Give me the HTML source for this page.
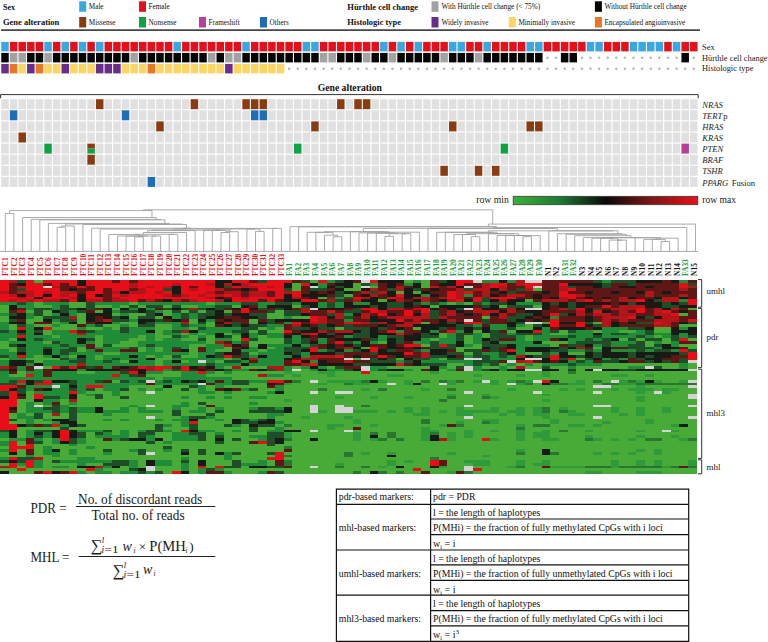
<!DOCTYPE html>
<html><head><meta charset="utf-8"><style>
html,body{margin:0;padding:0;background:#fff;}
body{width:768px;height:642px;position:relative;overflow:hidden;font-family:"Liberation Serif",serif;}
text{font-family:"Liberation Serif",serif;}
svg{position:absolute;left:0;top:0;}
sub,sup{font-size:0.65em;line-height:0;}
</style></head><body>
<svg style="position:absolute;left:0px;top:279.7px" width="696.7" height="194.0" viewBox="0 0 81 70" preserveAspectRatio="none" shape-rendering="crispEdges"><path fill="#e80e19" d="M0 0h1v1h-1zM3 0h1v1h-1zM5 0h4v1h-4zM10 0h3v1h-3zM14 0h1v1h-1zM16 0h9v1h-9zM27 0h2v1h-2zM31 0h3v1h-3zM37 0h1v1h-1zM43 0h1v1h-1zM53 0h2v1h-2zM0 1h1v1h-1zM3 1h2v1h-2zM6 1h1v1h-1zM8 1h1v1h-1zM10 1h5v1h-5zM16 1h4v1h-4zM21 1h3v1h-3zM29 1h4v1h-4zM35 1h1v1h-1zM53 1h1v1h-1zM57 1h2v1h-2zM61 1h2v1h-2zM65 1h1v1h-1zM79 1h1v1h-1zM0 2h1v1h-1zM3 2h2v1h-2zM9 2h1v1h-1zM11 2h4v1h-4zM16 2h1v1h-1zM18 2h1v1h-1zM21 2h1v1h-1zM23 2h2v1h-2zM27 2h1v1h-1zM30 2h1v1h-1zM32 2h1v1h-1zM57 2h1v1h-1zM61 2h1v1h-1zM79 2h1v1h-1zM0 3h1v1h-1zM3 3h4v1h-4zM11 3h1v1h-1zM13 3h2v1h-2zM17 3h2v1h-2zM21 3h1v1h-1zM23 3h2v1h-2zM30 3h3v1h-3zM66 3h1v1h-1zM4 4h1v1h-1zM6 4h1v1h-1zM10 4h2v1h-2zM17 4h1v1h-1zM19 4h1v1h-1zM21 4h3v1h-3zM32 4h1v1h-1zM34 4h1v1h-1zM52 4h1v1h-1zM54 4h1v1h-1zM65 4h1v1h-1zM0 5h1v1h-1zM4 5h1v1h-1zM6 5h1v1h-1zM8 5h1v1h-1zM10 5h1v1h-1zM13 5h1v1h-1zM15 5h4v1h-4zM22 5h1v1h-1zM24 5h1v1h-1zM26 5h1v1h-1zM32 5h1v1h-1zM34 5h1v1h-1zM46 5h1v1h-1zM52 5h1v1h-1zM65 5h2v1h-2zM0 6h2v1h-2zM3 6h1v1h-1zM5 6h3v1h-3zM10 6h2v1h-2zM14 6h10v1h-10zM27 6h1v1h-1zM29 6h4v1h-4zM41 6h1v1h-1zM45 6h1v1h-1zM52 6h1v1h-1zM55 6h1v1h-1zM57 6h3v1h-3zM66 6h1v1h-1zM0 7h1v1h-1zM2 7h1v1h-1zM4 7h1v1h-1zM8 7h1v1h-1zM15 7h1v1h-1zM23 7h2v1h-2zM27 7h3v1h-3zM31 7h1v1h-1zM35 7h2v1h-2zM53 7h1v1h-1zM55 7h1v1h-1zM68 7h1v1h-1zM74 7h1v1h-1zM80 7h1v1h-1zM80 8h1v1h-1zM70 9h1v1h-1zM28 10h1v1h-1zM42 10h2v1h-2zM49 10h1v1h-1zM67 10h1v1h-1zM74 10h1v1h-1zM28 11h1v1h-1zM38 11h1v1h-1zM43 11h1v1h-1zM47 11h1v1h-1zM49 11h1v1h-1zM69 11h1v1h-1zM74 11h1v1h-1zM77 11h1v1h-1zM44 12h1v1h-1zM47 12h1v1h-1zM64 12h1v1h-1zM78 12h1v1h-1zM36 13h1v1h-1zM73 13h1v1h-1zM36 14h1v1h-1zM46 14h1v1h-1zM64 14h1v1h-1zM80 14h1v1h-1zM34 15h1v1h-1zM40 15h2v1h-2zM54 15h2v1h-2zM64 15h1v1h-1zM67 15h1v1h-1zM76 15h1v1h-1zM64 16h1v1h-1zM67 16h1v1h-1zM2 17h1v1h-1zM5 17h1v1h-1zM8 18h1v1h-1zM33 18h1v1h-1zM45 18h1v1h-1zM52 18h1v1h-1zM62 18h1v1h-1zM36 19h1v1h-1zM46 19h1v1h-1zM2 20h1v1h-1zM28 21h1v1h-1zM79 21h1v1h-1zM39 22h1v1h-1zM47 23h2v1h-2zM51 23h1v1h-1zM36 24h1v1h-1zM43 24h1v1h-1zM36 25h1v1h-1zM43 25h1v1h-1zM59 25h1v1h-1zM79 25h1v1h-1zM47 26h1v1h-1zM80 26h1v1h-1zM2 27h1v1h-1zM26 27h1v1h-1zM39 27h1v1h-1zM44 27h1v1h-1zM64 27h1v1h-1zM80 27h1v1h-1zM64 28h1v1h-1zM66 28h1v1h-1zM80 28h1v1h-1zM34 29h1v1h-1zM61 29h1v1h-1zM36 30h1v1h-1zM46 30h1v1h-1zM6 31h1v1h-1zM8 31h1v1h-1zM16 31h1v1h-1zM18 31h2v1h-2zM21 31h1v1h-1zM18 32h1v1h-1zM21 32h1v1h-1zM15 33h1v1h-1zM23 33h1v1h-1zM42 33h1v1h-1zM3 34h1v1h-1zM13 34h1v1h-1zM2 36h1v1h-1zM5 36h1v1h-1zM31 36h2v1h-2zM63 36h1v1h-1zM4 37h2v1h-2zM0 38h2v1h-2zM10 38h2v1h-2zM0 39h1v1h-1zM1 40h1v1h-1zM8 40h1v1h-1zM1 41h1v1h-1zM4 41h1v1h-1zM1 42h1v1h-1zM4 42h1v1h-1zM0 43h2v1h-2zM0 44h2v1h-2zM0 45h2v1h-2zM0 46h1v1h-1zM0 47h1v1h-1zM0 48h1v1h-1zM0 49h1v1h-1zM0 50h1v1h-1zM0 51h1v1h-1zM22 51h1v1h-1zM0 52h2v1h-2zM6 52h1v1h-1zM0 53h2v1h-2zM7 54h1v1h-1zM21 54h1v1h-1zM7 55h1v1h-1zM7 56h1v1h-1zM7 57h1v1h-1zM56 57h1v1h-1zM1 58h1v1h-1zM30 58h1v1h-1zM1 59h1v1h-1zM3 59h1v1h-1zM1 60h3v1h-3zM1 61h1v1h-1zM32 62h1v1h-1zM32 63h1v1h-1zM1 64h1v1h-1zM31 64h2v1h-2zM3 65h1v1h-1zM50 65h1v1h-1zM1 66h1v1h-1zM3 66h1v1h-1zM50 66h1v1h-1zM1 67h1v1h-1zM3 67h1v1h-1zM23 67h1v1h-1zM25 67h1v1h-1zM2 68h1v1h-1zM10 68h1v1h-1zM48 68h1v1h-1zM55 68h1v1h-1zM5 69h1v1h-1zM8 69h1v1h-1zM20 69h1v1h-1z"/><path fill="#b3161a" d="M1 0h1v1h-1zM60 0h1v1h-1zM15 1h1v1h-1zM20 1h1v1h-1zM24 1h1v1h-1zM26 1h1v1h-1zM28 1h1v1h-1zM56 1h1v1h-1zM60 1h1v1h-1zM2 2h1v1h-1zM6 2h1v1h-1zM15 2h1v1h-1zM17 2h1v1h-1zM19 2h1v1h-1zM28 2h2v1h-2zM31 2h1v1h-1zM46 2h1v1h-1zM50 2h1v1h-1zM52 2h1v1h-1zM56 2h1v1h-1zM58 2h1v1h-1zM65 2h1v1h-1zM80 2h1v1h-1zM16 3h1v1h-1zM22 3h1v1h-1zM25 3h1v1h-1zM43 3h1v1h-1zM46 3h1v1h-1zM53 3h1v1h-1zM55 3h2v1h-2zM58 3h1v1h-1zM61 3h1v1h-1zM65 3h1v1h-1zM79 3h1v1h-1zM0 4h1v1h-1zM2 4h2v1h-2zM5 4h1v1h-1zM7 4h2v1h-2zM13 4h1v1h-1zM15 4h2v1h-2zM18 4h1v1h-1zM24 4h1v1h-1zM26 4h2v1h-2zM29 4h2v1h-2zM33 4h1v1h-1zM42 4h1v1h-1zM44 4h1v1h-1zM53 4h1v1h-1zM56 4h1v1h-1zM75 4h1v1h-1zM1 5h1v1h-1zM3 5h1v1h-1zM7 5h1v1h-1zM14 5h1v1h-1zM19 5h1v1h-1zM21 5h1v1h-1zM23 5h1v1h-1zM25 5h1v1h-1zM27 5h1v1h-1zM29 5h2v1h-2zM43 5h1v1h-1zM53 5h1v1h-1zM56 5h1v1h-1zM59 5h2v1h-2zM67 5h1v1h-1zM75 5h1v1h-1zM79 5h1v1h-1zM2 6h1v1h-1zM8 6h1v1h-1zM13 6h1v1h-1zM24 6h1v1h-1zM28 6h1v1h-1zM34 6h1v1h-1zM42 6h1v1h-1zM46 6h1v1h-1zM48 6h2v1h-2zM51 6h1v1h-1zM53 6h1v1h-1zM65 6h1v1h-1zM72 6h1v1h-1zM77 6h2v1h-2zM1 7h1v1h-1zM3 7h1v1h-1zM5 7h2v1h-2zM10 7h2v1h-2zM13 7h2v1h-2zM17 7h1v1h-1zM20 7h1v1h-1zM22 7h1v1h-1zM25 7h1v1h-1zM38 7h1v1h-1zM41 7h1v1h-1zM46 7h1v1h-1zM49 7h1v1h-1zM52 7h1v1h-1zM58 7h1v1h-1zM63 7h3v1h-3zM67 7h1v1h-1zM70 7h1v1h-1zM72 7h2v1h-2zM77 7h2v1h-2zM72 9h3v1h-3zM22 10h1v1h-1zM35 10h1v1h-1zM45 10h2v1h-2zM48 10h1v1h-1zM55 10h1v1h-1zM59 10h1v1h-1zM65 10h1v1h-1zM71 10h3v1h-3zM76 10h1v1h-1zM78 10h1v1h-1zM2 11h1v1h-1zM35 11h1v1h-1zM44 11h1v1h-1zM52 11h1v1h-1zM55 11h3v1h-3zM59 11h1v1h-1zM67 11h1v1h-1zM72 11h1v1h-1zM76 11h1v1h-1zM39 12h1v1h-1zM42 12h1v1h-1zM49 12h1v1h-1zM52 12h1v1h-1zM56 12h1v1h-1zM58 12h1v1h-1zM67 12h1v1h-1zM69 12h2v1h-2zM72 12h2v1h-2zM76 12h2v1h-2zM8 13h1v1h-1zM37 13h1v1h-1zM39 13h1v1h-1zM42 13h1v1h-1zM45 13h5v1h-5zM51 13h1v1h-1zM58 13h1v1h-1zM70 13h3v1h-3zM77 13h2v1h-2zM12 14h1v1h-1zM37 14h1v1h-1zM48 14h1v1h-1zM52 14h1v1h-1zM70 14h1v1h-1zM72 14h1v1h-1zM76 14h3v1h-3zM21 15h1v1h-1zM26 15h1v1h-1zM36 15h2v1h-2zM42 15h1v1h-1zM44 15h1v1h-1zM47 15h2v1h-2zM70 15h1v1h-1zM77 15h1v1h-1zM34 16h1v1h-1zM46 16h2v1h-2zM70 16h1v1h-1zM76 16h2v1h-2zM21 18h1v1h-1zM37 18h1v1h-1zM39 18h2v1h-2zM9 19h1v1h-1zM35 19h1v1h-1zM25 22h1v1h-1zM26 23h1v1h-1zM40 24h1v1h-1zM67 24h1v1h-1zM49 26h1v1h-1zM36 27h3v1h-3zM49 27h1v1h-1zM60 27h1v1h-1zM29 28h1v1h-1zM35 28h2v1h-2zM40 29h1v1h-1zM60 29h1v1h-1zM9 30h1v1h-1zM35 30h1v1h-1zM0 31h1v1h-1zM17 31h1v1h-1zM27 31h1v1h-1zM31 31h2v1h-2zM60 31h1v1h-1zM17 32h1v1h-1zM32 32h1v1h-1zM30 34h1v1h-1zM8 43h1v1h-1zM6 48h1v1h-1zM51 57h1v1h-1zM4 64h1v1h-1zM0 67h1v1h-1zM11 67h1v1h-1z"/><path fill="#1f4d27" d="M2 0h1v1h-1zM30 0h1v1h-1zM35 0h1v1h-1zM39 0h1v1h-1zM51 0h1v1h-1zM69 0h1v1h-1zM71 0h3v1h-3zM42 1h1v1h-1zM70 1h1v1h-1zM73 1h1v1h-1zM80 1h1v1h-1zM26 2h1v1h-1zM39 2h1v1h-1zM66 2h1v1h-1zM70 2h1v1h-1zM2 3h1v1h-1zM19 3h1v1h-1zM33 3h1v1h-1zM36 3h2v1h-2zM45 3h1v1h-1zM48 3h1v1h-1zM54 3h1v1h-1zM60 3h1v1h-1zM39 4h1v1h-1zM43 4h1v1h-1zM59 4h1v1h-1zM39 5h1v1h-1zM38 6h1v1h-1zM40 6h1v1h-1zM56 6h1v1h-1zM39 7h1v1h-1zM56 7h1v1h-1zM76 7h1v1h-1zM2 8h1v1h-1zM10 8h1v1h-1zM28 8h2v1h-2zM32 8h2v1h-2zM38 8h1v1h-1zM45 8h2v1h-2zM48 8h1v1h-1zM50 8h1v1h-1zM55 8h1v1h-1zM57 8h2v1h-2zM64 8h1v1h-1zM66 8h1v1h-1zM73 8h1v1h-1zM77 8h1v1h-1zM79 8h1v1h-1zM7 9h1v1h-1zM10 9h1v1h-1zM15 9h1v1h-1zM17 9h2v1h-2zM20 9h1v1h-1zM25 9h2v1h-2zM35 9h1v1h-1zM38 9h1v1h-1zM43 9h1v1h-1zM45 9h2v1h-2zM56 9h1v1h-1zM59 9h3v1h-3zM66 9h1v1h-1zM77 9h2v1h-2zM4 10h2v1h-2zM7 10h2v1h-2zM10 10h1v1h-1zM19 10h1v1h-1zM21 10h1v1h-1zM23 10h1v1h-1zM25 10h1v1h-1zM30 10h1v1h-1zM32 10h1v1h-1zM41 10h1v1h-1zM53 10h1v1h-1zM66 10h1v1h-1zM69 10h1v1h-1zM4 11h1v1h-1zM7 11h1v1h-1zM9 11h1v1h-1zM14 11h2v1h-2zM17 11h1v1h-1zM20 11h1v1h-1zM22 11h1v1h-1zM24 11h1v1h-1zM31 11h1v1h-1zM33 11h2v1h-2zM40 11h2v1h-2zM50 11h1v1h-1zM1 12h1v1h-1zM4 12h1v1h-1zM17 12h1v1h-1zM21 12h1v1h-1zM23 12h2v1h-2zM26 12h1v1h-1zM29 12h2v1h-2zM33 12h2v1h-2zM38 12h1v1h-1zM50 12h1v1h-1zM60 12h2v1h-2zM65 12h1v1h-1zM5 13h3v1h-3zM13 13h1v1h-1zM16 13h2v1h-2zM21 13h1v1h-1zM23 13h1v1h-1zM30 13h1v1h-1zM40 13h1v1h-1zM50 13h1v1h-1zM59 13h2v1h-2zM75 13h1v1h-1zM1 14h1v1h-1zM7 14h2v1h-2zM13 14h2v1h-2zM18 14h1v1h-1zM31 14h1v1h-1zM56 14h1v1h-1zM59 14h1v1h-1zM17 15h1v1h-1zM23 15h1v1h-1zM27 15h1v1h-1zM31 15h1v1h-1zM43 15h1v1h-1zM52 15h1v1h-1zM56 15h1v1h-1zM60 15h1v1h-1zM68 15h1v1h-1zM74 15h2v1h-2zM80 15h1v1h-1zM2 16h1v1h-1zM11 16h1v1h-1zM16 16h2v1h-2zM21 16h1v1h-1zM27 16h1v1h-1zM29 16h2v1h-2zM37 16h1v1h-1zM40 16h1v1h-1zM53 16h2v1h-2zM62 16h1v1h-1zM69 16h1v1h-1zM14 17h1v1h-1zM23 17h1v1h-1zM28 17h2v1h-2zM34 17h2v1h-2zM37 17h2v1h-2zM40 17h3v1h-3zM44 17h1v1h-1zM51 17h1v1h-1zM53 17h1v1h-1zM55 17h1v1h-1zM59 17h1v1h-1zM73 17h2v1h-2zM0 18h1v1h-1zM4 18h1v1h-1zM10 18h1v1h-1zM14 18h1v1h-1zM20 18h1v1h-1zM27 18h2v1h-2zM30 18h1v1h-1zM42 18h1v1h-1zM57 18h1v1h-1zM64 18h1v1h-1zM66 18h1v1h-1zM75 18h1v1h-1zM2 19h1v1h-1zM30 19h1v1h-1zM38 19h1v1h-1zM41 19h2v1h-2zM49 19h1v1h-1zM53 19h2v1h-2zM57 19h2v1h-2zM60 19h3v1h-3zM71 19h2v1h-2zM75 19h1v1h-1zM20 20h1v1h-1zM26 20h1v1h-1zM41 20h2v1h-2zM45 20h2v1h-2zM49 20h2v1h-2zM53 20h1v1h-1zM57 20h3v1h-3zM66 20h1v1h-1zM69 20h1v1h-1zM74 20h1v1h-1zM78 20h1v1h-1zM80 20h1v1h-1zM4 21h1v1h-1zM10 21h1v1h-1zM23 21h1v1h-1zM29 21h1v1h-1zM33 21h1v1h-1zM35 21h1v1h-1zM43 21h1v1h-1zM46 21h1v1h-1zM53 21h1v1h-1zM57 21h1v1h-1zM68 21h1v1h-1zM70 21h1v1h-1zM73 21h1v1h-1zM75 21h2v1h-2zM78 21h1v1h-1zM6 22h1v1h-1zM28 22h1v1h-1zM33 22h1v1h-1zM35 22h1v1h-1zM40 22h1v1h-1zM46 22h1v1h-1zM50 22h1v1h-1zM56 22h1v1h-1zM67 22h4v1h-4zM74 22h1v1h-1zM1 23h1v1h-1zM7 23h1v1h-1zM12 23h1v1h-1zM17 23h1v1h-1zM36 23h1v1h-1zM41 23h1v1h-1zM50 23h1v1h-1zM52 23h1v1h-1zM56 23h3v1h-3zM66 23h2v1h-2zM70 23h1v1h-1zM73 23h2v1h-2zM76 23h1v1h-1zM2 24h1v1h-1zM5 24h1v1h-1zM8 24h1v1h-1zM15 24h1v1h-1zM20 24h1v1h-1zM33 24h3v1h-3zM50 24h3v1h-3zM57 24h1v1h-1zM65 24h1v1h-1zM73 24h3v1h-3zM2 25h1v1h-1zM7 25h2v1h-2zM33 25h2v1h-2zM38 25h1v1h-1zM41 25h1v1h-1zM45 25h1v1h-1zM48 25h1v1h-1zM54 25h2v1h-2zM57 25h1v1h-1zM64 25h2v1h-2zM68 25h1v1h-1zM74 25h1v1h-1zM76 25h2v1h-2zM80 25h1v1h-1zM7 26h1v1h-1zM25 26h1v1h-1zM28 26h1v1h-1zM34 26h1v1h-1zM39 26h1v1h-1zM43 26h1v1h-1zM52 26h2v1h-2zM55 26h1v1h-1zM58 26h1v1h-1zM63 26h1v1h-1zM69 26h1v1h-1zM73 26h1v1h-1zM79 26h1v1h-1zM0 27h1v1h-1zM20 27h1v1h-1zM25 27h1v1h-1zM28 27h1v1h-1zM50 27h2v1h-2zM55 27h2v1h-2zM58 27h1v1h-1zM62 27h2v1h-2zM67 27h1v1h-1zM69 27h1v1h-1zM73 27h1v1h-1zM75 27h1v1h-1zM7 28h1v1h-1zM9 28h1v1h-1zM13 28h1v1h-1zM43 28h1v1h-1zM45 28h1v1h-1zM48 28h2v1h-2zM52 28h2v1h-2zM56 28h1v1h-1zM65 28h1v1h-1zM68 28h1v1h-1zM71 28h1v1h-1zM74 28h1v1h-1zM79 28h1v1h-1zM3 29h1v1h-1zM8 29h2v1h-2zM12 29h1v1h-1zM26 29h2v1h-2zM43 29h3v1h-3zM47 29h1v1h-1zM55 29h3v1h-3zM67 29h1v1h-1zM70 29h2v1h-2zM75 29h1v1h-1zM77 29h1v1h-1zM79 29h1v1h-1zM24 30h1v1h-1zM41 30h2v1h-2zM49 30h3v1h-3zM55 30h1v1h-1zM57 30h1v1h-1zM66 30h1v1h-1zM10 31h1v1h-1zM39 31h1v1h-1zM53 31h1v1h-1zM63 31h1v1h-1zM76 31h1v1h-1zM0 32h1v1h-1zM20 32h1v1h-1zM26 32h1v1h-1zM31 32h1v1h-1zM40 32h1v1h-1zM44 32h1v1h-1zM56 32h1v1h-1zM66 32h1v1h-1zM72 32h2v1h-2zM14 33h1v1h-1zM15 34h1v1h-1zM1 36h1v1h-1zM4 36h1v1h-1zM8 36h1v1h-1zM11 36h1v1h-1zM14 36h1v1h-1zM16 36h1v1h-1zM19 36h1v1h-1zM22 36h1v1h-1zM27 36h2v1h-2zM0 37h2v1h-2zM8 37h1v1h-1zM27 37h2v1h-2zM22 38h1v1h-1zM2 39h1v1h-1zM8 39h1v1h-1zM10 39h1v1h-1zM14 39h1v1h-1zM21 39h1v1h-1zM29 39h1v1h-1zM0 40h1v1h-1zM2 40h1v1h-1zM0 41h1v1h-1zM11 41h1v1h-1zM5 42h2v1h-2zM11 42h1v1h-1zM14 42h1v1h-1zM23 44h1v1h-1zM6 45h1v1h-1zM5 46h2v1h-2zM8 46h1v1h-1zM30 46h2v1h-2zM6 47h1v1h-1zM8 47h1v1h-1zM20 47h1v1h-1zM25 47h1v1h-1zM29 47h4v1h-4zM4 48h1v1h-1zM8 48h1v1h-1zM20 48h1v1h-1zM24 48h1v1h-1zM4 49h1v1h-1zM8 49h1v1h-1zM22 49h2v1h-2zM1 50h1v1h-1zM8 50h1v1h-1zM28 50h1v1h-1zM30 50h1v1h-1zM28 51h2v1h-2zM3 52h1v1h-1zM5 52h1v1h-1zM9 52h1v1h-1zM18 52h1v1h-1zM22 52h1v1h-1zM26 52h1v1h-1zM30 52h2v1h-2zM7 53h1v1h-1zM18 53h1v1h-1zM22 53h1v1h-1zM29 53h1v1h-1zM0 54h1v1h-1zM4 54h2v1h-2zM12 54h1v1h-1zM17 54h2v1h-2zM29 54h1v1h-1zM9 55h1v1h-1zM11 55h1v1h-1zM16 55h2v1h-2zM22 55h2v1h-2zM31 55h2v1h-2zM4 56h1v1h-1zM9 56h1v1h-1zM16 56h1v1h-1zM23 56h1v1h-1zM25 56h1v1h-1zM31 56h2v1h-2zM8 57h1v1h-1zM14 57h1v1h-1zM23 57h1v1h-1zM27 57h1v1h-1zM31 57h1v1h-1zM4 58h1v1h-1zM8 58h1v1h-1zM17 58h1v1h-1zM25 58h1v1h-1zM31 58h1v1h-1zM31 59h1v1h-1zM19 60h1v1h-1zM12 61h1v1h-1zM16 61h1v1h-1zM21 61h1v1h-1zM23 61h1v1h-1zM16 62h1v1h-1zM23 62h1v1h-1zM27 62h1v1h-1zM31 62h1v1h-1zM2 64h2v1h-2zM0 65h1v1h-1zM2 65h1v1h-1zM6 65h1v1h-1zM13 65h2v1h-2zM21 65h1v1h-1zM27 65h1v1h-1zM12 66h3v1h-3zM27 66h1v1h-1zM26 67h2v1h-2zM31 67h2v1h-2zM15 68h1v1h-1zM24 68h1v1h-1zM16 69h1v1h-1zM18 69h1v1h-1zM32 69h1v1h-1z"/><path fill="#48ab37" d="M4 0h1v1h-1zM36 0h1v1h-1zM47 0h1v1h-1zM49 0h1v1h-1zM34 1h1v1h-1zM41 1h1v1h-1zM49 1h1v1h-1zM34 2h1v1h-1zM41 2h1v1h-1zM43 2h1v1h-1zM49 2h1v1h-1zM34 3h1v1h-1zM40 3h2v1h-2zM62 3h1v1h-1zM46 4h1v1h-1zM48 4h1v1h-1zM40 5h1v1h-1zM37 6h1v1h-1zM44 7h1v1h-1zM61 7h1v1h-1zM4 8h1v1h-1zM8 8h2v1h-2zM15 8h1v1h-1zM24 8h1v1h-1zM52 8h1v1h-1zM54 8h1v1h-1zM0 9h1v1h-1zM4 9h2v1h-2zM8 9h2v1h-2zM11 9h2v1h-2zM14 9h1v1h-1zM16 9h1v1h-1zM19 9h1v1h-1zM21 9h2v1h-2zM27 9h1v1h-1zM34 9h1v1h-1zM50 9h1v1h-1zM58 9h1v1h-1zM62 9h1v1h-1zM0 10h1v1h-1zM13 10h1v1h-1zM80 10h1v1h-1zM0 11h1v1h-1zM3 11h1v1h-1zM5 11h1v1h-1zM11 11h1v1h-1zM19 11h1v1h-1zM21 11h1v1h-1zM23 11h1v1h-1zM26 11h1v1h-1zM32 11h1v1h-1zM5 12h1v1h-1zM9 12h1v1h-1zM13 12h1v1h-1zM15 12h2v1h-2zM19 12h1v1h-1zM31 12h2v1h-2zM79 12h1v1h-1zM0 13h1v1h-1zM4 13h1v1h-1zM9 13h1v1h-1zM15 13h1v1h-1zM18 13h1v1h-1zM31 13h2v1h-2zM34 13h2v1h-2zM56 13h1v1h-1zM0 14h1v1h-1zM3 14h2v1h-2zM9 14h1v1h-1zM22 14h1v1h-1zM29 14h1v1h-1zM3 15h1v1h-1zM6 15h1v1h-1zM9 15h1v1h-1zM14 15h2v1h-2zM22 15h1v1h-1zM24 15h1v1h-1zM29 15h1v1h-1zM49 15h1v1h-1zM63 15h1v1h-1zM69 15h1v1h-1zM1 16h1v1h-1zM4 16h2v1h-2zM7 16h2v1h-2zM12 16h2v1h-2zM15 16h1v1h-1zM18 16h2v1h-2zM24 16h1v1h-1zM61 16h1v1h-1zM79 16h2v1h-2zM1 17h1v1h-1zM6 17h3v1h-3zM10 17h2v1h-2zM13 17h1v1h-1zM18 17h2v1h-2zM22 17h1v1h-1zM30 17h1v1h-1zM32 17h1v1h-1zM39 17h1v1h-1zM48 17h1v1h-1zM60 17h2v1h-2zM76 17h2v1h-2zM5 18h1v1h-1zM18 18h1v1h-1zM29 18h1v1h-1zM31 18h2v1h-2zM55 18h1v1h-1zM59 18h1v1h-1zM65 18h1v1h-1zM69 18h1v1h-1zM72 18h2v1h-2zM76 18h2v1h-2zM5 19h1v1h-1zM18 19h1v1h-1zM21 19h1v1h-1zM23 19h1v1h-1zM26 19h1v1h-1zM51 19h1v1h-1zM56 19h1v1h-1zM64 19h2v1h-2zM6 20h1v1h-1zM11 20h1v1h-1zM16 20h1v1h-1zM18 20h2v1h-2zM22 20h1v1h-1zM24 20h1v1h-1zM27 20h1v1h-1zM30 20h1v1h-1zM51 20h1v1h-1zM54 20h1v1h-1zM56 20h1v1h-1zM61 20h1v1h-1zM76 20h1v1h-1zM1 21h1v1h-1zM11 21h1v1h-1zM15 21h2v1h-2zM18 21h1v1h-1zM21 21h2v1h-2zM24 21h1v1h-1zM27 21h1v1h-1zM30 21h3v1h-3zM50 21h1v1h-1zM54 21h1v1h-1zM61 21h1v1h-1zM72 21h1v1h-1zM74 21h1v1h-1zM77 21h1v1h-1zM80 21h1v1h-1zM0 22h1v1h-1zM5 22h1v1h-1zM11 22h1v1h-1zM14 22h2v1h-2zM24 22h1v1h-1zM29 22h4v1h-4zM44 22h1v1h-1zM54 22h1v1h-1zM63 22h3v1h-3zM75 22h1v1h-1zM77 22h1v1h-1zM0 23h1v1h-1zM11 23h1v1h-1zM13 23h3v1h-3zM22 23h2v1h-2zM29 23h1v1h-1zM49 23h1v1h-1zM55 23h1v1h-1zM64 23h1v1h-1zM75 23h1v1h-1zM79 23h2v1h-2zM0 24h2v1h-2zM9 24h1v1h-1zM16 24h1v1h-1zM18 24h1v1h-1zM22 24h1v1h-1zM26 24h1v1h-1zM31 24h1v1h-1zM42 24h1v1h-1zM53 24h3v1h-3zM69 24h1v1h-1zM80 24h1v1h-1zM1 25h1v1h-1zM9 25h1v1h-1zM16 25h1v1h-1zM18 25h1v1h-1zM22 25h1v1h-1zM25 25h2v1h-2zM30 25h1v1h-1zM53 25h1v1h-1zM12 26h2v1h-2zM22 26h1v1h-1zM29 26h1v1h-1zM54 26h1v1h-1zM61 26h2v1h-2zM66 26h2v1h-2zM4 27h1v1h-1zM8 27h1v1h-1zM11 27h1v1h-1zM17 27h1v1h-1zM19 27h1v1h-1zM21 27h2v1h-2zM0 28h1v1h-1zM3 28h4v1h-4zM11 28h1v1h-1zM18 28h2v1h-2zM26 28h1v1h-1zM41 28h1v1h-1zM46 28h1v1h-1zM51 28h1v1h-1zM67 28h1v1h-1zM4 29h1v1h-1zM14 29h1v1h-1zM18 29h1v1h-1zM21 29h1v1h-1zM25 29h1v1h-1zM18 30h1v1h-1zM52 30h2v1h-2zM58 30h1v1h-1zM60 30h1v1h-1zM62 30h1v1h-1zM70 30h9v1h-9zM80 30h1v1h-1zM5 31h1v1h-1zM26 31h1v1h-1zM28 31h3v1h-3zM34 31h1v1h-1zM38 31h1v1h-1zM45 31h5v1h-5zM52 31h1v1h-1zM56 31h2v1h-2zM59 31h1v1h-1zM61 31h2v1h-2zM64 31h2v1h-2zM67 31h6v1h-6zM77 31h2v1h-2zM80 31h1v1h-1zM35 32h1v1h-1zM48 32h1v1h-1zM51 32h1v1h-1zM65 32h1v1h-1zM67 32h1v1h-1zM2 33h1v1h-1zM9 33h2v1h-2zM19 33h2v1h-2zM25 33h1v1h-1zM27 33h6v1h-6zM34 33h3v1h-3zM39 33h3v1h-3zM43 33h7v1h-7zM51 33h12v1h-12zM64 33h2v1h-2zM67 33h14v1h-14zM1 34h2v1h-2zM17 34h4v1h-4zM24 34h6v1h-6zM33 34h1v1h-1zM35 34h3v1h-3zM39 34h6v1h-6zM47 34h8v1h-8zM56 34h4v1h-4zM61 34h2v1h-2zM64 34h7v1h-7zM73 34h2v1h-2zM76 34h5v1h-5zM18 35h1v1h-1zM27 35h54v1h-54zM13 36h1v1h-1zM35 36h1v1h-1zM37 36h1v1h-1zM45 36h2v1h-2zM48 36h1v1h-1zM50 36h1v1h-1zM54 36h1v1h-1zM58 36h1v1h-1zM65 36h2v1h-2zM68 36h1v1h-1zM70 36h1v1h-1zM77 36h2v1h-2zM29 37h2v1h-2zM34 37h3v1h-3zM38 37h2v1h-2zM43 37h2v1h-2zM46 37h1v1h-1zM49 37h2v1h-2zM53 37h4v1h-4zM58 37h1v1h-1zM62 37h1v1h-1zM68 37h2v1h-2zM15 38h4v1h-4zM20 38h2v1h-2zM24 38h1v1h-1zM26 38h5v1h-5zM33 38h36v1h-36zM71 38h3v1h-3zM75 38h5v1h-5zM11 39h1v1h-1zM15 39h1v1h-1zM17 39h1v1h-1zM19 39h2v1h-2zM22 39h1v1h-1zM24 39h1v1h-1zM30 39h2v1h-2zM33 39h4v1h-4zM38 39h4v1h-4zM43 39h1v1h-1zM45 39h4v1h-4zM50 39h2v1h-2zM53 39h6v1h-6zM60 39h5v1h-5zM66 39h1v1h-1zM68 39h3v1h-3zM72 39h1v1h-1zM76 39h1v1h-1zM79 39h2v1h-2zM3 40h1v1h-1zM10 40h3v1h-3zM14 40h3v1h-3zM18 40h5v1h-5zM25 40h1v1h-1zM27 40h4v1h-4zM33 40h3v1h-3zM37 40h2v1h-2zM41 40h13v1h-13zM55 40h7v1h-7zM63 40h6v1h-6zM70 40h4v1h-4zM75 40h1v1h-1zM78 40h3v1h-3zM3 41h1v1h-1zM9 41h1v1h-1zM12 41h1v1h-1zM14 41h38v1h-38zM53 41h3v1h-3zM57 41h6v1h-6zM64 41h16v1h-16zM3 42h1v1h-1zM9 42h2v1h-2zM12 42h2v1h-2zM15 42h6v1h-6zM22 42h2v1h-2zM25 42h1v1h-1zM27 42h2v1h-2zM31 42h8v1h-8zM40 42h3v1h-3zM44 42h3v1h-3zM48 42h4v1h-4zM53 42h3v1h-3zM58 42h16v1h-16zM75 42h5v1h-5zM2 43h2v1h-2zM7 43h1v1h-1zM9 43h24v1h-24zM34 43h17v1h-17zM52 43h11v1h-11zM64 43h10v1h-10zM75 43h6v1h-6zM2 44h1v1h-1zM4 44h1v1h-1zM7 44h1v1h-1zM9 44h12v1h-12zM22 44h1v1h-1zM24 44h5v1h-5zM30 44h51v1h-51zM2 45h1v1h-1zM5 45h1v1h-1zM8 45h7v1h-7zM16 45h1v1h-1zM18 45h2v1h-2zM22 45h2v1h-2zM25 45h11v1h-11zM37 45h2v1h-2zM40 45h2v1h-2zM43 45h11v1h-11zM55 45h14v1h-14zM71 45h9v1h-9zM2 46h1v1h-1zM12 46h2v1h-2zM15 46h1v1h-1zM17 46h3v1h-3zM21 46h2v1h-2zM24 46h1v1h-1zM26 46h3v1h-3zM34 46h2v1h-2zM37 46h2v1h-2zM41 46h6v1h-6zM48 46h1v1h-1zM50 46h3v1h-3zM54 46h3v1h-3zM58 46h2v1h-2zM61 46h1v1h-1zM64 46h1v1h-1zM66 46h5v1h-5zM72 46h2v1h-2zM75 46h2v1h-2zM78 46h3v1h-3zM2 47h1v1h-1zM15 47h1v1h-1zM19 47h1v1h-1zM21 47h1v1h-1zM24 47h1v1h-1zM26 47h3v1h-3zM34 47h2v1h-2zM38 47h1v1h-1zM44 47h1v1h-1zM46 47h1v1h-1zM48 47h1v1h-1zM50 47h1v1h-1zM52 47h1v1h-1zM58 47h1v1h-1zM61 47h1v1h-1zM64 47h1v1h-1zM67 47h4v1h-4zM72 47h2v1h-2zM75 47h2v1h-2zM78 47h3v1h-3zM1 48h1v1h-1zM3 48h1v1h-1zM5 48h1v1h-1zM7 48h1v1h-1zM9 48h3v1h-3zM13 48h7v1h-7zM21 48h3v1h-3zM25 48h6v1h-6zM33 48h15v1h-15zM50 48h3v1h-3zM55 48h3v1h-3zM59 48h1v1h-1zM61 48h1v1h-1zM64 48h2v1h-2zM68 48h4v1h-4zM73 48h1v1h-1zM75 48h6v1h-6zM1 49h1v1h-1zM5 49h3v1h-3zM9 49h8v1h-8zM18 49h3v1h-3zM25 49h6v1h-6zM32 49h3v1h-3zM36 49h4v1h-4zM41 49h13v1h-13zM55 49h8v1h-8zM64 49h5v1h-5zM70 49h10v1h-10zM2 50h1v1h-1zM4 50h1v1h-1zM9 50h3v1h-3zM13 50h1v1h-1zM15 50h3v1h-3zM19 50h1v1h-1zM23 50h2v1h-2zM26 50h1v1h-1zM32 50h9v1h-9zM42 50h7v1h-7zM50 50h6v1h-6zM58 50h6v1h-6zM65 50h10v1h-10zM76 50h5v1h-5zM1 51h2v1h-2zM4 51h2v1h-2zM9 51h12v1h-12zM23 51h4v1h-4zM33 51h8v1h-8zM42 51h7v1h-7zM50 51h3v1h-3zM54 51h2v1h-2zM58 51h6v1h-6zM65 51h5v1h-5zM71 51h4v1h-4zM76 51h5v1h-5zM10 52h8v1h-8zM20 52h1v1h-1zM23 52h3v1h-3zM28 52h1v1h-1zM32 52h1v1h-1zM34 52h4v1h-4zM40 52h3v1h-3zM44 52h7v1h-7zM54 52h6v1h-6zM61 52h1v1h-1zM64 52h2v1h-2zM68 52h1v1h-1zM70 52h8v1h-8zM80 52h1v1h-1zM2 53h5v1h-5zM8 53h10v1h-10zM19 53h3v1h-3zM23 53h6v1h-6zM30 53h2v1h-2zM33 53h5v1h-5zM39 53h2v1h-2zM42 53h7v1h-7zM50 53h10v1h-10zM61 53h20v1h-20zM2 54h1v1h-1zM13 54h1v1h-1zM15 54h1v1h-1zM20 54h1v1h-1zM25 54h2v1h-2zM28 54h1v1h-1zM30 54h1v1h-1zM35 54h1v1h-1zM37 54h3v1h-3zM41 54h8v1h-8zM51 54h3v1h-3zM55 54h2v1h-2zM58 54h2v1h-2zM61 54h2v1h-2zM64 54h1v1h-1zM66 54h2v1h-2zM69 54h5v1h-5zM75 54h2v1h-2zM79 54h2v1h-2zM2 55h1v1h-1zM10 55h1v1h-1zM13 55h1v1h-1zM15 55h1v1h-1zM18 55h2v1h-2zM24 55h1v1h-1zM26 55h5v1h-5zM34 55h7v1h-7zM42 55h1v1h-1zM44 55h1v1h-1zM46 55h3v1h-3zM51 55h1v1h-1zM53 55h1v1h-1zM55 55h5v1h-5zM61 55h1v1h-1zM64 55h17v1h-17zM2 56h1v1h-1zM10 56h1v1h-1zM15 56h1v1h-1zM18 56h2v1h-2zM24 56h1v1h-1zM26 56h3v1h-3zM34 56h7v1h-7zM42 56h1v1h-1zM44 56h1v1h-1zM46 56h3v1h-3zM51 56h1v1h-1zM53 56h1v1h-1zM55 56h5v1h-5zM61 56h1v1h-1zM64 56h4v1h-4zM69 56h5v1h-5zM75 56h3v1h-3zM79 56h2v1h-2zM0 57h1v1h-1zM5 57h1v1h-1zM10 57h2v1h-2zM19 57h1v1h-1zM24 57h1v1h-1zM26 57h1v1h-1zM28 57h2v1h-2zM34 57h2v1h-2zM37 57h4v1h-4zM42 57h1v1h-1zM45 57h1v1h-1zM47 57h2v1h-2zM53 57h3v1h-3zM58 57h2v1h-2zM61 57h2v1h-2zM65 57h3v1h-3zM70 57h1v1h-1zM72 57h1v1h-1zM74 57h1v1h-1zM77 57h2v1h-2zM2 58h1v1h-1zM5 58h1v1h-1zM10 58h7v1h-7zM18 58h1v1h-1zM20 58h5v1h-5zM26 58h3v1h-3zM33 58h48v1h-48zM2 59h1v1h-1zM4 59h4v1h-4zM9 59h22v1h-22zM32 59h49v1h-49zM0 60h1v1h-1zM4 60h1v1h-1zM6 60h4v1h-4zM11 60h8v1h-8zM20 60h13v1h-13zM34 60h47v1h-47zM2 61h1v1h-1zM4 61h1v1h-1zM7 61h1v1h-1zM9 61h3v1h-3zM13 61h2v1h-2zM17 61h2v1h-2zM20 61h1v1h-1zM22 61h1v1h-1zM24 61h9v1h-9zM34 61h26v1h-26zM61 61h2v1h-2zM64 61h10v1h-10zM75 61h1v1h-1zM77 61h4v1h-4zM0 62h1v1h-1zM2 62h1v1h-1zM4 62h1v1h-1zM7 62h1v1h-1zM9 62h3v1h-3zM13 62h3v1h-3zM18 62h3v1h-3zM22 62h1v1h-1zM24 62h1v1h-1zM28 62h3v1h-3zM33 62h7v1h-7zM41 62h1v1h-1zM43 62h2v1h-2zM46 62h6v1h-6zM53 62h7v1h-7zM61 62h2v1h-2zM65 62h4v1h-4zM70 62h1v1h-1zM72 62h1v1h-1zM74 62h2v1h-2zM77 62h4v1h-4zM0 63h3v1h-3zM4 63h2v1h-2zM7 63h19v1h-19zM27 63h5v1h-5zM34 63h6v1h-6zM41 63h4v1h-4zM46 63h10v1h-10zM57 63h24v1h-24zM5 64h4v1h-4zM11 64h10v1h-10zM22 64h4v1h-4zM27 64h4v1h-4zM33 64h17v1h-17zM51 64h30v1h-30zM5 65h1v1h-1zM16 65h1v1h-1zM20 65h1v1h-1zM22 65h1v1h-1zM24 65h3v1h-3zM28 65h2v1h-2zM31 65h1v1h-1zM34 65h11v1h-11zM46 65h1v1h-1zM48 65h2v1h-2zM52 65h2v1h-2zM57 65h3v1h-3zM61 65h2v1h-2zM64 65h7v1h-7zM72 65h2v1h-2zM75 65h1v1h-1zM77 65h3v1h-3zM0 66h1v1h-1zM5 66h4v1h-4zM10 66h2v1h-2zM16 66h1v1h-1zM20 66h1v1h-1zM22 66h1v1h-1zM24 66h3v1h-3zM31 66h1v1h-1zM34 66h5v1h-5zM40 66h5v1h-5zM46 66h4v1h-4zM52 66h3v1h-3zM57 66h3v1h-3zM61 66h1v1h-1zM64 66h7v1h-7zM72 66h2v1h-2zM75 66h1v1h-1zM77 66h3v1h-3zM2 67h1v1h-1zM5 67h1v1h-1zM8 67h1v1h-1zM14 67h1v1h-1zM16 67h1v1h-1zM18 67h3v1h-3zM22 67h1v1h-1zM24 67h1v1h-1zM28 67h1v1h-1zM34 67h2v1h-2zM37 67h2v1h-2zM40 67h2v1h-2zM43 67h1v1h-1zM45 67h1v1h-1zM47 67h3v1h-3zM52 67h2v1h-2zM55 67h4v1h-4zM61 67h2v1h-2zM0 68h2v1h-2zM3 68h7v1h-7zM12 68h3v1h-3zM18 68h3v1h-3zM22 68h1v1h-1zM26 68h22v1h-22zM49 68h5v1h-5zM56 68h25v1h-25zM1 69h3v1h-3zM10 69h1v1h-1zM13 69h1v1h-1zM19 69h1v1h-1zM22 69h1v1h-1zM27 69h3v1h-3zM33 69h8v1h-8zM42 69h1v1h-1zM45 69h1v1h-1zM47 69h2v1h-2zM50 69h2v1h-2zM55 69h13v1h-13zM70 69h4v1h-4zM77 69h4v1h-4z"/><path fill="#181a15" d="M9 0h1v1h-1zM25 0h2v1h-2zM40 0h1v1h-1zM44 0h3v1h-3zM52 0h1v1h-1zM58 0h1v1h-1zM74 0h3v1h-3zM78 0h1v1h-1zM2 1h1v1h-1zM9 1h1v1h-1zM25 1h1v1h-1zM27 1h1v1h-1zM33 1h1v1h-1zM36 1h1v1h-1zM39 1h2v1h-2zM45 1h1v1h-1zM48 1h1v1h-1zM51 1h2v1h-2zM66 1h4v1h-4zM20 2h1v1h-1zM25 2h1v1h-1zM33 2h1v1h-1zM38 2h1v1h-1zM40 2h1v1h-1zM45 2h1v1h-1zM48 2h1v1h-1zM53 2h1v1h-1zM69 2h1v1h-1zM72 2h2v1h-2zM75 2h1v1h-1zM8 3h1v1h-1zM20 3h1v1h-1zM28 3h1v1h-1zM39 3h1v1h-1zM42 3h1v1h-1zM47 3h1v1h-1zM50 3h1v1h-1zM57 3h1v1h-1zM14 4h1v1h-1zM20 4h1v1h-1zM36 4h1v1h-1zM38 4h1v1h-1zM40 4h1v1h-1zM45 4h1v1h-1zM47 4h1v1h-1zM49 4h1v1h-1zM58 4h1v1h-1zM63 4h1v1h-1zM68 4h1v1h-1zM71 4h1v1h-1zM74 4h1v1h-1zM77 4h1v1h-1zM2 5h1v1h-1zM5 5h1v1h-1zM9 5h1v1h-1zM11 5h1v1h-1zM33 5h1v1h-1zM35 5h3v1h-3zM42 5h1v1h-1zM45 5h1v1h-1zM47 5h2v1h-2zM50 5h1v1h-1zM57 5h1v1h-1zM62 5h1v1h-1zM4 6h1v1h-1zM9 6h1v1h-1zM25 6h1v1h-1zM33 6h1v1h-1zM36 6h1v1h-1zM43 6h1v1h-1zM47 6h1v1h-1zM62 6h1v1h-1zM64 6h1v1h-1zM68 6h1v1h-1zM70 6h1v1h-1zM73 6h1v1h-1zM76 6h1v1h-1zM79 6h1v1h-1zM9 7h1v1h-1zM19 7h1v1h-1zM26 7h1v1h-1zM33 7h2v1h-2zM42 7h2v1h-2zM45 7h1v1h-1zM48 7h1v1h-1zM51 7h1v1h-1zM54 7h1v1h-1zM57 7h1v1h-1zM59 7h2v1h-2zM75 7h1v1h-1zM35 8h2v1h-2zM40 8h1v1h-1zM43 8h2v1h-2zM47 8h1v1h-1zM59 8h1v1h-1zM63 8h1v1h-1zM65 8h1v1h-1zM67 8h4v1h-4zM72 8h1v1h-1zM74 8h3v1h-3zM78 8h1v1h-1zM1 9h1v1h-1zM28 9h1v1h-1zM31 9h3v1h-3zM36 9h1v1h-1zM40 9h3v1h-3zM44 9h1v1h-1zM47 9h1v1h-1zM49 9h1v1h-1zM51 9h4v1h-4zM57 9h1v1h-1zM63 9h1v1h-1zM65 9h1v1h-1zM67 9h1v1h-1zM75 9h2v1h-2zM79 9h2v1h-2zM1 10h1v1h-1zM9 10h1v1h-1zM12 10h1v1h-1zM14 10h1v1h-1zM16 10h1v1h-1zM20 10h1v1h-1zM24 10h1v1h-1zM27 10h1v1h-1zM29 10h1v1h-1zM33 10h1v1h-1zM37 10h3v1h-3zM44 10h1v1h-1zM50 10h1v1h-1zM52 10h1v1h-1zM56 10h2v1h-2zM60 10h1v1h-1zM63 10h1v1h-1zM68 10h1v1h-1zM77 10h1v1h-1zM6 11h1v1h-1zM12 11h1v1h-1zM16 11h1v1h-1zM25 11h1v1h-1zM53 11h1v1h-1zM58 11h1v1h-1zM61 11h2v1h-2zM68 11h1v1h-1zM70 11h1v1h-1zM79 11h1v1h-1zM2 12h1v1h-1zM7 12h1v1h-1zM10 12h3v1h-3zM18 12h1v1h-1zM25 12h1v1h-1zM27 12h2v1h-2zM35 12h1v1h-1zM41 12h1v1h-1zM45 12h1v1h-1zM48 12h1v1h-1zM54 12h1v1h-1zM57 12h1v1h-1zM62 12h1v1h-1zM66 12h1v1h-1zM1 13h2v1h-2zM10 13h1v1h-1zM12 13h1v1h-1zM14 13h1v1h-1zM19 13h1v1h-1zM24 13h2v1h-2zM28 13h2v1h-2zM38 13h1v1h-1zM43 13h1v1h-1zM61 13h1v1h-1zM63 13h1v1h-1zM68 13h1v1h-1zM74 13h1v1h-1zM76 13h1v1h-1zM5 14h1v1h-1zM10 14h1v1h-1zM16 14h2v1h-2zM20 14h1v1h-1zM23 14h1v1h-1zM26 14h1v1h-1zM32 14h4v1h-4zM43 14h3v1h-3zM51 14h1v1h-1zM60 14h1v1h-1zM62 14h1v1h-1zM68 14h1v1h-1zM1 15h2v1h-2zM8 15h1v1h-1zM11 15h2v1h-2zM16 15h1v1h-1zM25 15h1v1h-1zM30 15h1v1h-1zM45 15h2v1h-2zM51 15h1v1h-1zM53 15h1v1h-1zM59 15h1v1h-1zM65 15h2v1h-2zM71 15h1v1h-1zM73 15h1v1h-1zM79 15h1v1h-1zM26 16h1v1h-1zM28 16h1v1h-1zM35 16h1v1h-1zM38 16h1v1h-1zM44 16h1v1h-1zM48 16h5v1h-5zM59 16h1v1h-1zM63 16h1v1h-1zM68 16h1v1h-1zM71 16h1v1h-1zM4 17h1v1h-1zM36 17h1v1h-1zM43 17h1v1h-1zM46 17h1v1h-1zM49 17h2v1h-2zM54 17h1v1h-1zM56 17h1v1h-1zM62 17h1v1h-1zM65 17h3v1h-3zM69 17h1v1h-1zM75 17h1v1h-1zM78 17h1v1h-1zM80 17h1v1h-1zM2 18h1v1h-1zM17 18h1v1h-1zM22 18h1v1h-1zM35 18h2v1h-2zM41 18h1v1h-1zM43 18h1v1h-1zM49 18h1v1h-1zM54 18h1v1h-1zM56 18h1v1h-1zM60 18h2v1h-2zM78 18h3v1h-3zM4 19h1v1h-1zM25 19h1v1h-1zM28 19h1v1h-1zM34 19h1v1h-1zM37 19h1v1h-1zM39 19h2v1h-2zM43 19h3v1h-3zM48 19h1v1h-1zM50 19h1v1h-1zM69 19h1v1h-1zM78 19h1v1h-1zM80 19h1v1h-1zM25 20h1v1h-1zM28 20h1v1h-1zM33 20h1v1h-1zM35 20h1v1h-1zM37 20h2v1h-2zM43 20h1v1h-1zM47 20h2v1h-2zM2 21h1v1h-1zM9 21h1v1h-1zM39 21h3v1h-3zM45 21h1v1h-1zM47 21h2v1h-2zM56 21h1v1h-1zM65 21h1v1h-1zM71 21h1v1h-1zM9 22h1v1h-1zM36 22h1v1h-1zM42 22h1v1h-1zM45 22h1v1h-1zM53 22h1v1h-1zM57 22h1v1h-1zM62 22h1v1h-1zM2 23h1v1h-1zM27 23h1v1h-1zM30 23h1v1h-1zM34 23h1v1h-1zM38 23h1v1h-1zM40 23h1v1h-1zM42 23h1v1h-1zM45 23h1v1h-1zM53 23h1v1h-1zM59 23h1v1h-1zM68 23h1v1h-1zM77 23h1v1h-1zM28 24h1v1h-1zM30 24h1v1h-1zM38 24h1v1h-1zM41 24h1v1h-1zM45 24h2v1h-2zM48 24h1v1h-1zM56 24h1v1h-1zM59 24h1v1h-1zM61 24h4v1h-4zM66 24h1v1h-1zM70 24h1v1h-1zM77 24h2v1h-2zM5 25h1v1h-1zM21 25h1v1h-1zM27 25h1v1h-1zM35 25h1v1h-1zM39 25h1v1h-1zM42 25h1v1h-1zM44 25h1v1h-1zM50 25h2v1h-2zM61 25h3v1h-3zM70 25h1v1h-1zM2 26h1v1h-1zM5 26h1v1h-1zM26 26h2v1h-2zM33 26h1v1h-1zM36 26h3v1h-3zM44 26h3v1h-3zM50 26h2v1h-2zM59 26h1v1h-1zM65 26h1v1h-1zM68 26h1v1h-1zM70 26h3v1h-3zM74 26h5v1h-5zM6 27h1v1h-1zM9 27h1v1h-1zM15 27h1v1h-1zM24 27h1v1h-1zM30 27h1v1h-1zM34 27h1v1h-1zM41 27h1v1h-1zM46 27h1v1h-1zM52 27h1v1h-1zM61 27h1v1h-1zM65 27h2v1h-2zM68 27h1v1h-1zM70 27h3v1h-3zM74 27h1v1h-1zM76 27h2v1h-2zM17 28h1v1h-1zM28 28h1v1h-1zM33 28h1v1h-1zM44 28h1v1h-1zM47 28h1v1h-1zM60 28h1v1h-1zM63 28h1v1h-1zM69 28h1v1h-1zM75 28h2v1h-2zM1 29h2v1h-2zM15 29h1v1h-1zM20 29h1v1h-1zM35 29h1v1h-1zM37 29h1v1h-1zM48 29h1v1h-1zM63 29h1v1h-1zM65 29h1v1h-1zM72 29h1v1h-1zM76 29h1v1h-1zM1 30h2v1h-2zM4 30h1v1h-1zM28 30h1v1h-1zM37 30h4v1h-4zM43 30h3v1h-3zM48 30h1v1h-1zM14 31h1v1h-1zM22 31h1v1h-1zM24 31h1v1h-1zM36 31h1v1h-1zM50 31h1v1h-1zM1 32h1v1h-1zM6 32h3v1h-3zM10 32h4v1h-4zM16 32h1v1h-1zM23 32h1v1h-1zM25 32h1v1h-1zM30 32h1v1h-1zM37 32h1v1h-1zM41 32h1v1h-1zM45 32h2v1h-2zM50 32h1v1h-1zM57 32h1v1h-1zM59 32h2v1h-2zM63 32h2v1h-2zM68 32h1v1h-1zM70 32h2v1h-2zM74 32h6v1h-6zM16 33h1v1h-1zM3 36h1v1h-1zM6 36h2v1h-2zM21 36h1v1h-1zM23 36h1v1h-1zM43 36h1v1h-1zM64 36h1v1h-1zM75 36h1v1h-1zM3 37h1v1h-1zM31 37h1v1h-1zM48 37h1v1h-1zM63 37h1v1h-1zM8 38h1v1h-1zM19 38h1v1h-1zM1 39h1v1h-1zM5 39h1v1h-1zM26 39h1v1h-1zM32 40h1v1h-1zM2 41h1v1h-1zM8 41h1v1h-1zM0 42h1v1h-1zM8 42h1v1h-1zM4 43h1v1h-1zM1 46h1v1h-1zM11 46h1v1h-1zM33 46h1v1h-1zM11 47h1v1h-1zM33 47h1v1h-1zM6 50h2v1h-2zM22 50h1v1h-1zM27 50h1v1h-1zM31 50h1v1h-1zM7 51h2v1h-2zM27 51h1v1h-1zM30 51h2v1h-2zM2 52h1v1h-1zM8 52h1v1h-1zM29 52h1v1h-1zM79 52h1v1h-1zM1 54h1v1h-1zM6 54h1v1h-1zM8 54h1v1h-1zM22 54h1v1h-1zM33 54h2v1h-2zM1 55h1v1h-1zM4 55h1v1h-1zM6 55h1v1h-1zM8 55h1v1h-1zM1 56h1v1h-1zM6 56h1v1h-1zM8 56h1v1h-1zM43 56h1v1h-1zM50 56h1v1h-1zM15 57h2v1h-2zM18 57h1v1h-1zM25 57h1v1h-1zM32 57h1v1h-1zM36 57h1v1h-1zM50 57h1v1h-1zM7 58h1v1h-1zM32 58h1v1h-1zM6 61h1v1h-1zM63 61h1v1h-1zM1 62h1v1h-1zM21 62h1v1h-1zM25 62h1v1h-1zM63 62h1v1h-1zM45 63h1v1h-1zM1 65h1v1h-1zM17 65h1v1h-1zM23 65h1v1h-1zM17 66h1v1h-1zM23 66h1v1h-1zM9 67h2v1h-2zM13 67h1v1h-1zM29 67h2v1h-2zM46 67h1v1h-1zM50 67h1v1h-1zM16 68h1v1h-1zM0 69h1v1h-1zM6 69h1v1h-1zM21 69h1v1h-1zM43 69h1v1h-1z"/><path fill="#5e1715" d="M13 0h1v1h-1zM15 0h1v1h-1zM29 0h1v1h-1zM34 0h1v1h-1zM41 0h1v1h-1zM50 0h1v1h-1zM63 0h6v1h-6zM77 0h1v1h-1zM80 0h1v1h-1zM1 1h1v1h-1zM5 1h1v1h-1zM7 1h1v1h-1zM38 1h1v1h-1zM44 1h1v1h-1zM46 1h1v1h-1zM50 1h1v1h-1zM54 1h2v1h-2zM59 1h1v1h-1zM63 1h2v1h-2zM71 1h2v1h-2zM74 1h5v1h-5zM1 2h1v1h-1zM7 2h2v1h-2zM10 2h1v1h-1zM22 2h1v1h-1zM35 2h1v1h-1zM44 2h1v1h-1zM47 2h1v1h-1zM51 2h1v1h-1zM55 2h1v1h-1zM59 2h2v1h-2zM63 2h2v1h-2zM67 2h2v1h-2zM71 2h1v1h-1zM74 2h1v1h-1zM76 2h3v1h-3zM1 3h1v1h-1zM7 3h1v1h-1zM9 3h2v1h-2zM12 3h1v1h-1zM15 3h1v1h-1zM26 3h2v1h-2zM29 3h1v1h-1zM35 3h1v1h-1zM38 3h1v1h-1zM44 3h1v1h-1zM49 3h1v1h-1zM51 3h2v1h-2zM59 3h1v1h-1zM63 3h2v1h-2zM67 3h12v1h-12zM80 3h1v1h-1zM1 4h1v1h-1zM9 4h1v1h-1zM12 4h1v1h-1zM25 4h1v1h-1zM28 4h1v1h-1zM31 4h1v1h-1zM35 4h1v1h-1zM37 4h1v1h-1zM41 4h1v1h-1zM50 4h2v1h-2zM55 4h1v1h-1zM57 4h1v1h-1zM60 4h3v1h-3zM64 4h1v1h-1zM66 4h2v1h-2zM69 4h2v1h-2zM72 4h2v1h-2zM76 4h1v1h-1zM78 4h3v1h-3zM12 5h1v1h-1zM20 5h1v1h-1zM28 5h1v1h-1zM31 5h1v1h-1zM38 5h1v1h-1zM41 5h1v1h-1zM44 5h1v1h-1zM51 5h1v1h-1zM55 5h1v1h-1zM58 5h1v1h-1zM61 5h1v1h-1zM63 5h2v1h-2zM68 5h7v1h-7zM76 5h3v1h-3zM80 5h1v1h-1zM12 6h1v1h-1zM26 6h1v1h-1zM35 6h1v1h-1zM44 6h1v1h-1zM50 6h1v1h-1zM54 6h1v1h-1zM60 6h2v1h-2zM63 6h1v1h-1zM67 6h1v1h-1zM69 6h1v1h-1zM71 6h1v1h-1zM74 6h2v1h-2zM80 6h1v1h-1zM7 7h1v1h-1zM12 7h1v1h-1zM16 7h1v1h-1zM18 7h1v1h-1zM21 7h1v1h-1zM30 7h1v1h-1zM32 7h1v1h-1zM37 7h1v1h-1zM40 7h1v1h-1zM47 7h1v1h-1zM50 7h1v1h-1zM62 7h1v1h-1zM66 7h1v1h-1zM69 7h1v1h-1zM71 7h1v1h-1zM71 8h1v1h-1zM29 9h1v1h-1zM48 9h1v1h-1zM55 9h1v1h-1zM64 9h1v1h-1zM68 9h2v1h-2zM71 9h1v1h-1zM2 10h1v1h-1zM11 10h1v1h-1zM18 10h1v1h-1zM26 10h1v1h-1zM31 10h1v1h-1zM34 10h1v1h-1zM40 10h1v1h-1zM47 10h1v1h-1zM51 10h1v1h-1zM58 10h1v1h-1zM64 10h1v1h-1zM70 10h1v1h-1zM75 10h1v1h-1zM79 10h1v1h-1zM1 11h1v1h-1zM10 11h1v1h-1zM27 11h1v1h-1zM29 11h2v1h-2zM36 11h2v1h-2zM39 11h1v1h-1zM42 11h1v1h-1zM45 11h2v1h-2zM48 11h1v1h-1zM51 11h1v1h-1zM54 11h1v1h-1zM60 11h1v1h-1zM63 11h4v1h-4zM71 11h1v1h-1zM73 11h1v1h-1zM75 11h1v1h-1zM78 11h1v1h-1zM80 11h1v1h-1zM36 12h2v1h-2zM43 12h1v1h-1zM46 12h1v1h-1zM51 12h1v1h-1zM53 12h1v1h-1zM55 12h1v1h-1zM59 12h1v1h-1zM63 12h1v1h-1zM68 12h1v1h-1zM71 12h1v1h-1zM74 12h2v1h-2zM80 12h1v1h-1zM11 13h1v1h-1zM26 13h2v1h-2zM41 13h1v1h-1zM44 13h1v1h-1zM52 13h4v1h-4zM57 13h1v1h-1zM62 13h1v1h-1zM65 13h3v1h-3zM69 13h1v1h-1zM79 13h2v1h-2zM2 14h1v1h-1zM11 14h1v1h-1zM19 14h1v1h-1zM21 14h1v1h-1zM25 14h1v1h-1zM27 14h2v1h-2zM30 14h1v1h-1zM38 14h2v1h-2zM41 14h2v1h-2zM47 14h1v1h-1zM49 14h2v1h-2zM53 14h1v1h-1zM55 14h1v1h-1zM57 14h2v1h-2zM61 14h1v1h-1zM63 14h1v1h-1zM65 14h3v1h-3zM69 14h1v1h-1zM71 14h1v1h-1zM73 14h3v1h-3zM79 14h1v1h-1zM4 15h2v1h-2zM10 15h1v1h-1zM28 15h1v1h-1zM32 15h1v1h-1zM35 15h1v1h-1zM38 15h2v1h-2zM50 15h1v1h-1zM57 15h2v1h-2zM72 15h1v1h-1zM78 15h1v1h-1zM9 16h1v1h-1zM25 16h1v1h-1zM33 16h1v1h-1zM36 16h1v1h-1zM39 16h1v1h-1zM41 16h3v1h-3zM45 16h1v1h-1zM56 16h1v1h-1zM65 16h2v1h-2zM72 16h4v1h-4zM78 16h1v1h-1zM33 17h1v1h-1zM45 17h1v1h-1zM47 17h1v1h-1zM52 17h1v1h-1zM64 17h1v1h-1zM68 17h1v1h-1zM9 18h1v1h-1zM34 18h1v1h-1zM38 18h1v1h-1zM44 18h1v1h-1zM47 18h2v1h-2zM51 18h1v1h-1zM58 18h1v1h-1zM33 19h1v1h-1zM47 19h1v1h-1zM36 20h1v1h-1zM39 20h1v1h-1zM36 21h1v1h-1zM38 21h1v1h-1zM42 21h1v1h-1zM58 21h2v1h-2zM64 21h1v1h-1zM26 22h1v1h-1zM38 22h1v1h-1zM47 22h1v1h-1zM79 22h2v1h-2zM10 23h1v1h-1zM28 23h1v1h-1zM37 23h1v1h-1zM39 23h1v1h-1zM43 23h2v1h-2zM46 23h1v1h-1zM65 23h1v1h-1zM10 24h1v1h-1zM23 24h1v1h-1zM27 24h1v1h-1zM37 24h1v1h-1zM39 24h1v1h-1zM44 24h1v1h-1zM47 24h1v1h-1zM49 24h1v1h-1zM58 24h1v1h-1zM68 24h1v1h-1zM71 24h2v1h-2zM79 24h1v1h-1zM11 25h1v1h-1zM14 25h2v1h-2zM20 25h1v1h-1zM23 25h1v1h-1zM46 25h2v1h-2zM52 25h1v1h-1zM56 25h1v1h-1zM58 25h1v1h-1zM40 26h3v1h-3zM48 26h1v1h-1zM27 27h1v1h-1zM40 27h1v1h-1zM42 27h2v1h-2zM45 27h1v1h-1zM47 27h2v1h-2zM53 27h1v1h-1zM78 27h2v1h-2zM34 28h1v1h-1zM37 28h3v1h-3zM73 28h1v1h-1zM77 28h2v1h-2zM29 29h1v1h-1zM33 29h1v1h-1zM38 29h2v1h-2zM41 29h2v1h-2zM58 29h1v1h-1zM62 29h1v1h-1zM64 29h1v1h-1zM69 29h1v1h-1zM73 29h2v1h-2zM78 29h1v1h-1zM33 30h2v1h-2zM47 30h1v1h-1zM1 31h1v1h-1zM3 31h1v1h-1zM7 31h1v1h-1zM9 31h1v1h-1zM11 31h1v1h-1zM13 31h1v1h-1zM15 31h1v1h-1zM20 31h1v1h-1zM23 31h1v1h-1zM40 31h2v1h-2zM3 32h1v1h-1zM5 32h1v1h-1zM14 32h2v1h-2zM22 32h1v1h-1zM24 32h1v1h-1zM29 32h1v1h-1zM49 32h1v1h-1zM53 32h1v1h-1zM1 33h1v1h-1zM5 33h1v1h-1zM5 34h1v1h-1zM16 34h1v1h-1zM12 36h1v1h-1zM25 36h1v1h-1zM33 36h1v1h-1zM17 37h1v1h-1zM24 37h1v1h-1zM32 37h1v1h-1zM2 38h1v1h-1zM31 38h1v1h-1zM4 39h1v1h-1zM25 39h1v1h-1zM27 39h1v1h-1zM2 42h1v1h-1zM6 44h1v1h-1zM24 45h1v1h-1zM1 47h1v1h-1zM4 52h1v1h-1zM52 52h1v1h-1zM41 53h1v1h-1zM3 57h1v1h-1zM12 57h1v1h-1zM3 58h1v1h-1zM29 58h1v1h-1zM3 61h1v1h-1zM33 61h1v1h-1zM3 62h1v1h-1zM32 65h1v1h-1zM51 65h1v1h-1zM32 66h1v1h-1zM51 66h1v1h-1zM33 67h1v1h-1zM63 67h1v1h-1zM79 67h1v1h-1zM4 69h1v1h-1zM7 69h1v1h-1zM24 69h2v1h-2zM31 69h1v1h-1zM49 69h1v1h-1zM53 69h1v1h-1z"/><path fill="#208c38" d="M38 0h1v1h-1zM48 0h1v1h-1zM56 0h2v1h-2zM59 0h1v1h-1zM70 0h1v1h-1zM79 0h1v1h-1zM37 1h1v1h-1zM43 1h1v1h-1zM47 1h1v1h-1zM37 2h1v1h-1zM49 5h1v1h-1zM54 5h1v1h-1zM39 6h1v1h-1zM79 7h1v1h-1zM0 8h2v1h-2zM3 8h1v1h-1zM5 8h3v1h-3zM11 8h4v1h-4zM16 8h8v1h-8zM25 8h3v1h-3zM30 8h2v1h-2zM34 8h1v1h-1zM37 8h1v1h-1zM39 8h1v1h-1zM41 8h2v1h-2zM49 8h1v1h-1zM51 8h1v1h-1zM53 8h1v1h-1zM56 8h1v1h-1zM60 8h3v1h-3zM2 9h2v1h-2zM6 9h1v1h-1zM13 9h1v1h-1zM23 9h2v1h-2zM30 9h1v1h-1zM37 9h1v1h-1zM39 9h1v1h-1zM3 10h1v1h-1zM6 10h1v1h-1zM15 10h1v1h-1zM17 10h1v1h-1zM8 11h1v1h-1zM13 11h1v1h-1zM18 11h1v1h-1zM0 12h1v1h-1zM3 12h1v1h-1zM6 12h1v1h-1zM8 12h1v1h-1zM14 12h1v1h-1zM20 12h1v1h-1zM22 12h1v1h-1zM40 12h1v1h-1zM3 13h1v1h-1zM20 13h1v1h-1zM22 13h1v1h-1zM33 13h1v1h-1zM64 13h1v1h-1zM6 14h1v1h-1zM15 14h1v1h-1zM24 14h1v1h-1zM40 14h1v1h-1zM0 15h1v1h-1zM7 15h1v1h-1zM13 15h1v1h-1zM18 15h3v1h-3zM33 15h1v1h-1zM0 16h1v1h-1zM3 16h1v1h-1zM6 16h1v1h-1zM10 16h1v1h-1zM14 16h1v1h-1zM20 16h1v1h-1zM22 16h2v1h-2zM31 16h2v1h-2zM55 16h1v1h-1zM57 16h2v1h-2zM60 16h1v1h-1zM0 17h1v1h-1zM3 17h1v1h-1zM9 17h1v1h-1zM12 17h1v1h-1zM15 17h3v1h-3zM20 17h2v1h-2zM24 17h4v1h-4zM31 17h1v1h-1zM57 17h2v1h-2zM63 17h1v1h-1zM70 17h3v1h-3zM79 17h1v1h-1zM1 18h1v1h-1zM3 18h1v1h-1zM6 18h2v1h-2zM11 18h3v1h-3zM15 18h2v1h-2zM19 18h1v1h-1zM23 18h4v1h-4zM46 18h1v1h-1zM50 18h1v1h-1zM53 18h1v1h-1zM63 18h1v1h-1zM67 18h2v1h-2zM70 18h2v1h-2zM74 18h1v1h-1zM0 19h2v1h-2zM3 19h1v1h-1zM6 19h3v1h-3zM10 19h8v1h-8zM19 19h2v1h-2zM22 19h1v1h-1zM24 19h1v1h-1zM27 19h1v1h-1zM29 19h1v1h-1zM31 19h2v1h-2zM52 19h1v1h-1zM55 19h1v1h-1zM59 19h1v1h-1zM63 19h1v1h-1zM66 19h3v1h-3zM70 19h1v1h-1zM73 19h2v1h-2zM76 19h2v1h-2zM79 19h1v1h-1zM0 20h2v1h-2zM3 20h3v1h-3zM7 20h4v1h-4zM12 20h4v1h-4zM17 20h1v1h-1zM21 20h1v1h-1zM23 20h1v1h-1zM29 20h1v1h-1zM31 20h2v1h-2zM34 20h1v1h-1zM40 20h1v1h-1zM44 20h1v1h-1zM52 20h1v1h-1zM55 20h1v1h-1zM60 20h1v1h-1zM62 20h4v1h-4zM67 20h2v1h-2zM70 20h4v1h-4zM75 20h1v1h-1zM77 20h1v1h-1zM79 20h1v1h-1zM0 21h1v1h-1zM3 21h1v1h-1zM5 21h4v1h-4zM12 21h3v1h-3zM17 21h1v1h-1zM19 21h2v1h-2zM25 21h2v1h-2zM34 21h1v1h-1zM37 21h1v1h-1zM44 21h1v1h-1zM49 21h1v1h-1zM51 21h2v1h-2zM55 21h1v1h-1zM60 21h1v1h-1zM62 21h2v1h-2zM66 21h2v1h-2zM69 21h1v1h-1zM1 22h4v1h-4zM7 22h2v1h-2zM10 22h1v1h-1zM12 22h2v1h-2zM16 22h8v1h-8zM27 22h1v1h-1zM34 22h1v1h-1zM37 22h1v1h-1zM41 22h1v1h-1zM43 22h1v1h-1zM48 22h2v1h-2zM51 22h2v1h-2zM55 22h1v1h-1zM58 22h4v1h-4zM66 22h1v1h-1zM71 22h3v1h-3zM76 22h1v1h-1zM78 22h1v1h-1zM3 23h4v1h-4zM8 23h2v1h-2zM16 23h1v1h-1zM18 23h4v1h-4zM24 23h2v1h-2zM31 23h3v1h-3zM35 23h1v1h-1zM54 23h1v1h-1zM60 23h4v1h-4zM69 23h1v1h-1zM71 23h2v1h-2zM78 23h1v1h-1zM3 24h2v1h-2zM6 24h2v1h-2zM11 24h4v1h-4zM17 24h1v1h-1zM19 24h1v1h-1zM21 24h1v1h-1zM24 24h2v1h-2zM29 24h1v1h-1zM32 24h1v1h-1zM60 24h1v1h-1zM76 24h1v1h-1zM0 25h1v1h-1zM3 25h2v1h-2zM6 25h1v1h-1zM10 25h1v1h-1zM12 25h2v1h-2zM17 25h1v1h-1zM19 25h1v1h-1zM24 25h1v1h-1zM28 25h2v1h-2zM31 25h2v1h-2zM37 25h1v1h-1zM40 25h1v1h-1zM49 25h1v1h-1zM60 25h1v1h-1zM66 25h2v1h-2zM69 25h1v1h-1zM71 25h3v1h-3zM75 25h1v1h-1zM78 25h1v1h-1zM0 26h2v1h-2zM3 26h2v1h-2zM6 26h1v1h-1zM8 26h4v1h-4zM14 26h8v1h-8zM23 26h2v1h-2zM30 26h3v1h-3zM35 26h1v1h-1zM56 26h2v1h-2zM60 26h1v1h-1zM64 26h1v1h-1zM1 27h1v1h-1zM3 27h1v1h-1zM5 27h1v1h-1zM7 27h1v1h-1zM10 27h1v1h-1zM12 27h3v1h-3zM16 27h1v1h-1zM18 27h1v1h-1zM23 27h1v1h-1zM29 27h1v1h-1zM31 27h3v1h-3zM35 27h1v1h-1zM54 27h1v1h-1zM57 27h1v1h-1zM59 27h1v1h-1zM1 28h2v1h-2zM8 28h1v1h-1zM10 28h1v1h-1zM12 28h1v1h-1zM14 28h3v1h-3zM20 28h6v1h-6zM27 28h1v1h-1zM30 28h3v1h-3zM50 28h1v1h-1zM57 28h3v1h-3zM70 28h1v1h-1zM72 28h1v1h-1zM0 29h1v1h-1zM5 29h3v1h-3zM10 29h2v1h-2zM13 29h1v1h-1zM16 29h2v1h-2zM19 29h1v1h-1zM22 29h1v1h-1zM24 29h1v1h-1zM28 29h1v1h-1zM30 29h3v1h-3zM36 29h1v1h-1zM46 29h1v1h-1zM49 29h6v1h-6zM66 29h1v1h-1zM68 29h1v1h-1zM0 30h1v1h-1zM3 30h1v1h-1zM5 30h4v1h-4zM10 30h8v1h-8zM19 30h5v1h-5zM25 30h3v1h-3zM29 30h4v1h-4zM54 30h1v1h-1zM56 30h1v1h-1zM59 30h1v1h-1zM61 30h1v1h-1zM63 30h3v1h-3zM67 30h3v1h-3zM79 30h1v1h-1zM2 31h1v1h-1zM12 31h1v1h-1zM25 31h1v1h-1zM33 31h1v1h-1zM35 31h1v1h-1zM37 31h1v1h-1zM43 31h2v1h-2zM51 31h1v1h-1zM55 31h1v1h-1zM58 31h1v1h-1zM66 31h1v1h-1zM73 31h2v1h-2zM79 31h1v1h-1zM2 32h1v1h-1zM4 32h1v1h-1zM9 32h1v1h-1zM19 32h1v1h-1zM27 32h2v1h-2zM33 32h1v1h-1zM36 32h1v1h-1zM38 32h2v1h-2zM43 32h1v1h-1zM47 32h1v1h-1zM52 32h1v1h-1zM55 32h1v1h-1zM58 32h1v1h-1zM0 33h1v1h-1zM3 33h2v1h-2zM6 33h3v1h-3zM11 33h3v1h-3zM17 33h2v1h-2zM21 33h2v1h-2zM24 33h1v1h-1zM26 33h1v1h-1zM0 34h1v1h-1zM4 34h1v1h-1zM6 34h7v1h-7zM14 34h1v1h-1zM21 34h3v1h-3zM31 34h2v1h-2zM0 35h18v1h-18zM19 35h8v1h-8zM0 36h1v1h-1zM9 36h2v1h-2zM15 36h1v1h-1zM18 36h1v1h-1zM20 36h1v1h-1zM24 36h1v1h-1zM26 36h1v1h-1zM29 36h2v1h-2zM2 37h1v1h-1zM6 37h2v1h-2zM9 37h8v1h-8zM18 37h5v1h-5zM25 37h2v1h-2zM3 38h3v1h-3zM7 38h1v1h-1zM9 38h1v1h-1zM12 38h3v1h-3zM23 38h1v1h-1zM25 38h1v1h-1zM32 38h1v1h-1zM3 39h1v1h-1zM6 39h2v1h-2zM9 39h1v1h-1zM12 39h2v1h-2zM16 39h1v1h-1zM18 39h1v1h-1zM23 39h1v1h-1zM28 39h1v1h-1zM32 39h1v1h-1zM4 40h4v1h-4zM9 40h1v1h-1zM13 40h1v1h-1zM23 40h2v1h-2zM26 40h1v1h-1zM31 40h1v1h-1zM5 41h3v1h-3zM10 41h1v1h-1zM13 41h1v1h-1zM7 42h1v1h-1zM21 42h1v1h-1zM24 42h1v1h-1zM26 42h1v1h-1zM29 42h2v1h-2zM5 43h2v1h-2zM3 44h1v1h-1zM5 44h1v1h-1zM8 44h1v1h-1zM21 44h1v1h-1zM29 44h1v1h-1zM3 45h1v1h-1zM7 45h1v1h-1zM15 45h1v1h-1zM20 45h2v1h-2zM3 46h2v1h-2zM7 46h1v1h-1zM9 46h2v1h-2zM14 46h1v1h-1zM16 46h1v1h-1zM20 46h1v1h-1zM23 46h1v1h-1zM25 46h1v1h-1zM29 46h1v1h-1zM32 46h1v1h-1zM3 47h3v1h-3zM7 47h1v1h-1zM9 47h2v1h-2zM12 47h3v1h-3zM16 47h3v1h-3zM22 47h2v1h-2zM2 48h1v1h-1zM12 48h1v1h-1zM31 48h2v1h-2zM2 49h2v1h-2zM21 49h1v1h-1zM24 49h1v1h-1zM31 49h1v1h-1zM3 50h1v1h-1zM5 50h1v1h-1zM12 50h1v1h-1zM14 50h1v1h-1zM18 50h1v1h-1zM20 50h2v1h-2zM25 50h1v1h-1zM29 50h1v1h-1zM3 51h1v1h-1zM6 51h1v1h-1zM21 51h1v1h-1zM32 51h1v1h-1zM7 52h1v1h-1zM19 52h1v1h-1zM21 52h1v1h-1zM27 52h1v1h-1zM32 53h1v1h-1zM3 54h1v1h-1zM9 54h3v1h-3zM14 54h1v1h-1zM16 54h1v1h-1zM19 54h1v1h-1zM23 54h2v1h-2zM27 54h1v1h-1zM31 54h2v1h-2zM0 55h1v1h-1zM3 55h1v1h-1zM5 55h1v1h-1zM12 55h1v1h-1zM14 55h1v1h-1zM20 55h2v1h-2zM25 55h1v1h-1zM0 56h1v1h-1zM3 56h1v1h-1zM5 56h1v1h-1zM11 56h4v1h-4zM17 56h1v1h-1zM20 56h3v1h-3zM29 56h2v1h-2zM1 57h2v1h-2zM4 57h1v1h-1zM6 57h1v1h-1zM9 57h1v1h-1zM13 57h1v1h-1zM17 57h1v1h-1zM20 57h3v1h-3zM30 57h1v1h-1zM0 58h1v1h-1zM6 58h1v1h-1zM9 58h1v1h-1zM19 58h1v1h-1zM0 59h1v1h-1zM8 59h1v1h-1zM5 60h1v1h-1zM10 60h1v1h-1zM0 61h1v1h-1zM5 61h1v1h-1zM8 61h1v1h-1zM15 61h1v1h-1zM19 61h1v1h-1zM5 62h2v1h-2zM8 62h1v1h-1zM12 62h1v1h-1zM26 62h1v1h-1zM3 63h1v1h-1zM6 63h1v1h-1zM26 63h1v1h-1zM0 64h1v1h-1zM9 64h2v1h-2zM21 64h1v1h-1zM26 64h1v1h-1zM4 65h1v1h-1zM7 65h6v1h-6zM15 65h1v1h-1zM18 65h2v1h-2zM30 65h1v1h-1zM2 66h1v1h-1zM4 66h1v1h-1zM9 66h1v1h-1zM15 66h1v1h-1zM18 66h2v1h-2zM21 66h1v1h-1zM28 66h3v1h-3zM4 67h1v1h-1zM6 67h2v1h-2zM12 67h1v1h-1zM15 67h1v1h-1zM21 67h1v1h-1zM11 68h1v1h-1zM21 68h1v1h-1zM23 68h1v1h-1zM25 68h1v1h-1zM9 69h1v1h-1zM11 69h2v1h-2zM14 69h2v1h-2zM17 69h1v1h-1zM23 69h1v1h-1zM26 69h1v1h-1zM30 69h1v1h-1z"/><path fill="#d4d4d4" d="M42 0h1v1h-1zM55 0h1v1h-1zM61 0h2v1h-2zM5 2h1v1h-1zM36 2h1v1h-1zM42 2h1v1h-1zM54 2h1v1h-1zM62 2h1v1h-1zM36 10h1v1h-1zM54 10h1v1h-1zM61 10h2v1h-2zM54 14h1v1h-1zM61 15h2v1h-2zM40 28h1v1h-1zM42 28h1v1h-1zM54 28h2v1h-2zM61 28h2v1h-2zM23 29h1v1h-1zM59 29h1v1h-1zM80 29h1v1h-1zM4 31h1v1h-1zM42 31h1v1h-1zM54 31h1v1h-1zM75 31h1v1h-1zM34 32h1v1h-1zM42 32h1v1h-1zM54 32h1v1h-1zM61 32h2v1h-2zM69 32h1v1h-1zM80 32h1v1h-1zM17 36h1v1h-1zM36 36h1v1h-1zM56 36h1v1h-1zM62 36h1v1h-1zM71 36h1v1h-1zM80 36h1v1h-1zM23 37h1v1h-1zM45 37h1v1h-1zM51 37h1v1h-1zM59 37h1v1h-1zM6 38h1v1h-1zM69 38h2v1h-2zM80 38h1v1h-1zM17 40h1v1h-1zM36 40h1v1h-1zM39 40h2v1h-2zM54 40h1v1h-1zM62 40h1v1h-1zM69 40h1v1h-1zM76 40h1v1h-1zM80 41h1v1h-1zM80 42h1v1h-1zM4 45h1v1h-1zM17 45h1v1h-1zM36 45h1v1h-1zM39 45h1v1h-1zM54 45h1v1h-1zM69 45h2v1h-2zM80 45h1v1h-1zM36 46h1v1h-1zM39 46h2v1h-2zM36 47h1v1h-1zM39 47h2v1h-2zM17 49h1v1h-1zM54 49h1v1h-1zM69 49h1v1h-1zM80 49h1v1h-1zM36 54h1v1h-1zM40 54h1v1h-1zM77 54h1v1h-1zM17 62h1v1h-1zM17 67h1v1h-1zM36 67h1v1h-1zM54 67h1v1h-1zM17 68h1v1h-1zM54 68h1v1h-1z"/><path fill="#2f9a3a" d="M33 33h1v1h-1zM37 33h2v1h-2zM50 33h1v1h-1zM63 33h1v1h-1zM34 34h1v1h-1zM38 34h1v1h-1zM45 34h2v1h-2zM55 34h1v1h-1zM60 34h1v1h-1zM63 34h1v1h-1zM71 34h2v1h-2zM75 34h1v1h-1zM38 36h4v1h-4zM44 36h1v1h-1zM47 36h1v1h-1zM52 36h1v1h-1zM55 36h1v1h-1zM57 36h1v1h-1zM59 36h1v1h-1zM61 36h1v1h-1zM67 36h1v1h-1zM72 36h1v1h-1zM74 36h1v1h-1zM76 36h1v1h-1zM79 36h1v1h-1zM33 37h1v1h-1zM37 37h1v1h-1zM41 37h2v1h-2zM47 37h1v1h-1zM52 37h1v1h-1zM57 37h1v1h-1zM60 37h1v1h-1zM66 37h2v1h-2zM72 37h2v1h-2zM74 38h1v1h-1zM42 39h1v1h-1zM49 39h1v1h-1zM59 39h1v1h-1zM65 39h1v1h-1zM67 39h1v1h-1zM71 39h1v1h-1zM73 39h3v1h-3zM77 39h2v1h-2zM74 40h1v1h-1zM77 40h1v1h-1zM52 41h1v1h-1zM56 41h1v1h-1zM63 41h1v1h-1zM39 42h1v1h-1zM43 42h1v1h-1zM47 42h1v1h-1zM57 42h1v1h-1zM74 42h1v1h-1zM33 43h1v1h-1zM63 43h1v1h-1zM74 43h1v1h-1zM47 46h1v1h-1zM49 46h1v1h-1zM53 46h1v1h-1zM57 46h1v1h-1zM60 46h1v1h-1zM62 46h1v1h-1zM65 46h1v1h-1zM71 46h1v1h-1zM74 46h1v1h-1zM77 46h1v1h-1zM37 47h1v1h-1zM41 47h3v1h-3zM45 47h1v1h-1zM47 47h1v1h-1zM49 47h1v1h-1zM51 47h1v1h-1zM53 47h5v1h-5zM59 47h2v1h-2zM62 47h1v1h-1zM66 47h1v1h-1zM71 47h1v1h-1zM74 47h1v1h-1zM77 47h1v1h-1zM48 48h2v1h-2zM53 48h2v1h-2zM58 48h1v1h-1zM60 48h1v1h-1zM62 48h2v1h-2zM66 48h2v1h-2zM72 48h1v1h-1zM74 48h1v1h-1zM35 49h1v1h-1zM40 49h1v1h-1zM63 49h1v1h-1zM41 50h1v1h-1zM56 50h2v1h-2zM64 50h1v1h-1zM75 50h1v1h-1zM41 51h1v1h-1zM53 51h1v1h-1zM57 51h1v1h-1zM64 51h1v1h-1zM70 51h1v1h-1zM75 51h1v1h-1zM38 52h2v1h-2zM43 52h1v1h-1zM51 52h1v1h-1zM60 52h1v1h-1zM66 52h2v1h-2zM69 52h1v1h-1zM78 52h1v1h-1zM38 53h1v1h-1zM49 53h1v1h-1zM49 54h2v1h-2zM54 54h1v1h-1zM57 54h1v1h-1zM60 54h1v1h-1zM63 54h1v1h-1zM68 54h1v1h-1zM74 54h1v1h-1zM78 54h1v1h-1zM33 55h1v1h-1zM41 55h1v1h-1zM49 55h1v1h-1zM52 55h1v1h-1zM54 55h1v1h-1zM60 55h1v1h-1zM62 55h2v1h-2zM33 56h1v1h-1zM41 56h1v1h-1zM49 56h1v1h-1zM52 56h1v1h-1zM54 56h1v1h-1zM60 56h1v1h-1zM62 56h2v1h-2zM68 56h1v1h-1zM74 56h1v1h-1zM78 56h1v1h-1zM41 57h1v1h-1zM43 57h1v1h-1zM49 57h1v1h-1zM52 57h1v1h-1zM57 57h1v1h-1zM60 57h1v1h-1zM63 57h2v1h-2zM69 57h1v1h-1zM71 57h1v1h-1zM73 57h1v1h-1zM79 57h1v1h-1zM60 61h1v1h-1zM74 61h1v1h-1zM76 61h1v1h-1zM42 62h1v1h-1zM45 62h1v1h-1zM52 62h1v1h-1zM69 62h1v1h-1zM71 62h1v1h-1zM73 62h1v1h-1zM76 62h1v1h-1zM56 63h1v1h-1zM45 65h1v1h-1zM47 65h1v1h-1zM54 65h3v1h-3zM60 65h1v1h-1zM63 65h1v1h-1zM71 65h1v1h-1zM74 65h1v1h-1zM76 65h1v1h-1zM80 65h1v1h-1zM39 66h1v1h-1zM45 66h1v1h-1zM55 66h2v1h-2zM60 66h1v1h-1zM62 66h2v1h-2zM71 66h1v1h-1zM74 66h1v1h-1zM76 66h1v1h-1zM80 66h1v1h-1zM44 67h1v1h-1zM51 67h1v1h-1zM59 67h1v1h-1zM64 67h4v1h-4zM71 67h1v1h-1zM77 67h1v1h-1zM52 69h1v1h-1zM68 69h2v1h-2zM74 69h3v1h-3z"/><path fill="#2b7532" d="M66 33h1v1h-1zM34 36h1v1h-1zM42 36h1v1h-1zM49 36h1v1h-1zM51 36h1v1h-1zM53 36h1v1h-1zM60 36h1v1h-1zM69 36h1v1h-1zM73 36h1v1h-1zM40 37h1v1h-1zM61 37h1v1h-1zM64 37h2v1h-2zM70 37h2v1h-2zM74 37h7v1h-7zM37 39h1v1h-1zM44 39h1v1h-1zM52 39h1v1h-1zM52 42h1v1h-1zM56 42h1v1h-1zM51 43h1v1h-1zM42 45h1v1h-1zM63 46h1v1h-1zM63 47h1v1h-1zM65 47h1v1h-1zM49 50h1v1h-1zM49 51h1v1h-1zM56 51h1v1h-1zM33 52h1v1h-1zM53 52h1v1h-1zM62 52h2v1h-2zM60 53h1v1h-1zM65 54h1v1h-1zM43 55h1v1h-1zM45 55h1v1h-1zM50 55h1v1h-1zM45 56h1v1h-1zM33 57h1v1h-1zM44 57h1v1h-1zM46 57h1v1h-1zM68 57h1v1h-1zM75 57h2v1h-2zM80 57h1v1h-1zM33 60h1v1h-1zM40 62h1v1h-1zM60 62h1v1h-1zM64 62h1v1h-1zM33 63h1v1h-1zM40 63h1v1h-1zM50 64h1v1h-1zM33 65h1v1h-1zM33 66h1v1h-1zM39 67h1v1h-1zM42 67h1v1h-1zM60 67h1v1h-1zM68 67h3v1h-3zM72 67h5v1h-5zM78 67h1v1h-1zM80 67h1v1h-1zM41 69h1v1h-1zM44 69h1v1h-1zM46 69h1v1h-1zM54 69h1v1h-1z"/></svg>
<svg width="768" height="642" viewBox="0 0 768 642"><rect x="1.25" y="41.90" width="7.5" height="9.5" fill="#3aa8e0"/><rect x="9.86" y="41.90" width="7.5" height="9.5" fill="#e3111b"/><rect x="18.47" y="41.90" width="7.5" height="9.5" fill="#e3111b"/><rect x="27.08" y="41.90" width="7.5" height="9.5" fill="#e3111b"/><rect x="35.69" y="41.90" width="7.5" height="9.5" fill="#e3111b"/><rect x="44.30" y="41.90" width="7.5" height="9.5" fill="#3aa8e0"/><rect x="52.91" y="41.90" width="7.5" height="9.5" fill="#e3111b"/><rect x="61.52" y="41.90" width="7.5" height="9.5" fill="#3aa8e0"/><rect x="70.13" y="41.90" width="7.5" height="9.5" fill="#e3111b"/><rect x="78.74" y="41.90" width="7.5" height="9.5" fill="#3aa8e0"/><rect x="87.35" y="41.90" width="7.5" height="9.5" fill="#e3111b"/><rect x="95.96" y="41.90" width="7.5" height="9.5" fill="#3aa8e0"/><rect x="104.57" y="41.90" width="7.5" height="9.5" fill="#e3111b"/><rect x="113.18" y="41.90" width="7.5" height="9.5" fill="#e3111b"/><rect x="121.79" y="41.90" width="7.5" height="9.5" fill="#e3111b"/><rect x="130.40" y="41.90" width="7.5" height="9.5" fill="#e3111b"/><rect x="139.01" y="41.90" width="7.5" height="9.5" fill="#e3111b"/><rect x="147.62" y="41.90" width="7.5" height="9.5" fill="#e3111b"/><rect x="156.23" y="41.90" width="7.5" height="9.5" fill="#e3111b"/><rect x="164.84" y="41.90" width="7.5" height="9.5" fill="#e3111b"/><rect x="173.45" y="41.90" width="7.5" height="9.5" fill="#3aa8e0"/><rect x="182.06" y="41.90" width="7.5" height="9.5" fill="#e3111b"/><rect x="190.67" y="41.90" width="7.5" height="9.5" fill="#e3111b"/><rect x="199.28" y="41.90" width="7.5" height="9.5" fill="#e3111b"/><rect x="207.89" y="41.90" width="7.5" height="9.5" fill="#e3111b"/><rect x="216.50" y="41.90" width="7.5" height="9.5" fill="#e3111b"/><rect x="225.11" y="41.90" width="7.5" height="9.5" fill="#e3111b"/><rect x="233.72" y="41.90" width="7.5" height="9.5" fill="#e3111b"/><rect x="242.33" y="41.90" width="7.5" height="9.5" fill="#3aa8e0"/><rect x="250.94" y="41.90" width="7.5" height="9.5" fill="#e3111b"/><rect x="259.55" y="41.90" width="7.5" height="9.5" fill="#e3111b"/><rect x="268.16" y="41.90" width="7.5" height="9.5" fill="#e3111b"/><rect x="276.77" y="41.90" width="7.5" height="9.5" fill="#e3111b"/><rect x="285.38" y="41.90" width="7.5" height="9.5" fill="#e3111b"/><rect x="293.99" y="41.90" width="7.5" height="9.5" fill="#e3111b"/><rect x="302.60" y="41.90" width="7.5" height="9.5" fill="#3aa8e0"/><rect x="311.21" y="41.90" width="7.5" height="9.5" fill="#3aa8e0"/><rect x="319.82" y="41.90" width="7.5" height="9.5" fill="#e3111b"/><rect x="328.43" y="41.90" width="7.5" height="9.5" fill="#e3111b"/><rect x="337.04" y="41.90" width="7.5" height="9.5" fill="#e3111b"/><rect x="345.65" y="41.90" width="7.5" height="9.5" fill="#e3111b"/><rect x="354.26" y="41.90" width="7.5" height="9.5" fill="#e3111b"/><rect x="362.87" y="41.90" width="7.5" height="9.5" fill="#e3111b"/><rect x="371.48" y="41.90" width="7.5" height="9.5" fill="#e3111b"/><rect x="380.09" y="41.90" width="7.5" height="9.5" fill="#3aa8e0"/><rect x="388.70" y="41.90" width="7.5" height="9.5" fill="#e3111b"/><rect x="397.31" y="41.90" width="7.5" height="9.5" fill="#3aa8e0"/><rect x="405.92" y="41.90" width="7.5" height="9.5" fill="#e3111b"/><rect x="414.53" y="41.90" width="7.5" height="9.5" fill="#3aa8e0"/><rect x="423.14" y="41.90" width="7.5" height="9.5" fill="#e3111b"/><rect x="431.75" y="41.90" width="7.5" height="9.5" fill="#e3111b"/><rect x="440.36" y="41.90" width="7.5" height="9.5" fill="#e3111b"/><rect x="448.97" y="41.90" width="7.5" height="9.5" fill="#3aa8e0"/><rect x="457.58" y="41.90" width="7.5" height="9.5" fill="#3aa8e0"/><rect x="466.19" y="41.90" width="7.5" height="9.5" fill="#e3111b"/><rect x="474.80" y="41.90" width="7.5" height="9.5" fill="#e3111b"/><rect x="483.41" y="41.90" width="7.5" height="9.5" fill="#3aa8e0"/><rect x="492.02" y="41.90" width="7.5" height="9.5" fill="#e3111b"/><rect x="500.63" y="41.90" width="7.5" height="9.5" fill="#e3111b"/><rect x="509.24" y="41.90" width="7.5" height="9.5" fill="#e3111b"/><rect x="517.85" y="41.90" width="7.5" height="9.5" fill="#e3111b"/><rect x="526.46" y="41.90" width="7.5" height="9.5" fill="#3aa8e0"/><rect x="535.07" y="41.90" width="7.5" height="9.5" fill="#3aa8e0"/><rect x="543.68" y="41.90" width="7.5" height="9.5" fill="#e3111b"/><rect x="552.29" y="41.90" width="7.5" height="9.5" fill="#e3111b"/><rect x="560.90" y="41.90" width="7.5" height="9.5" fill="#e3111b"/><rect x="569.51" y="41.90" width="7.5" height="9.5" fill="#e3111b"/><rect x="578.12" y="41.90" width="7.5" height="9.5" fill="#e3111b"/><rect x="586.73" y="41.90" width="7.5" height="9.5" fill="#3aa8e0"/><rect x="595.34" y="41.90" width="7.5" height="9.5" fill="#3aa8e0"/><rect x="603.95" y="41.90" width="7.5" height="9.5" fill="#e3111b"/><rect x="612.56" y="41.90" width="7.5" height="9.5" fill="#e3111b"/><rect x="621.17" y="41.90" width="7.5" height="9.5" fill="#e3111b"/><rect x="629.78" y="41.90" width="7.5" height="9.5" fill="#3aa8e0"/><rect x="638.39" y="41.90" width="7.5" height="9.5" fill="#3aa8e0"/><rect x="647.00" y="41.90" width="7.5" height="9.5" fill="#3aa8e0"/><rect x="655.61" y="41.90" width="7.5" height="9.5" fill="#3aa8e0"/><rect x="664.22" y="41.90" width="7.5" height="9.5" fill="#e3111b"/><rect x="672.83" y="41.90" width="7.5" height="9.5" fill="#3aa8e0"/><rect x="681.44" y="41.90" width="7.5" height="9.5" fill="#e3111b"/><rect x="690.05" y="41.90" width="7.5" height="9.5" fill="#e3111b"/><rect x="1.25" y="52.90" width="7.5" height="9.5" fill="#050505"/><rect x="9.86" y="52.90" width="7.5" height="9.5" fill="#a2a2a2"/><rect x="18.47" y="52.90" width="7.5" height="9.5" fill="#a2a2a2"/><rect x="27.08" y="52.90" width="7.5" height="9.5" fill="#050505"/><rect x="35.69" y="52.90" width="7.5" height="9.5" fill="#050505"/><rect x="44.30" y="52.90" width="7.5" height="9.5" fill="#a2a2a2"/><rect x="52.91" y="52.90" width="7.5" height="9.5" fill="#050505"/><rect x="61.52" y="52.90" width="7.5" height="9.5" fill="#050505"/><rect x="70.13" y="52.90" width="7.5" height="9.5" fill="#050505"/><rect x="78.74" y="52.90" width="7.5" height="9.5" fill="#050505"/><rect x="87.35" y="52.90" width="7.5" height="9.5" fill="#050505"/><rect x="95.96" y="52.90" width="7.5" height="9.5" fill="#050505"/><rect x="104.57" y="52.90" width="7.5" height="9.5" fill="#050505"/><rect x="113.18" y="52.90" width="7.5" height="9.5" fill="#050505"/><rect x="121.79" y="52.90" width="7.5" height="9.5" fill="#050505"/><rect x="130.40" y="52.90" width="7.5" height="9.5" fill="#a2a2a2"/><rect x="139.01" y="52.90" width="7.5" height="9.5" fill="#050505"/><rect x="147.62" y="52.90" width="7.5" height="9.5" fill="#050505"/><rect x="156.23" y="52.90" width="7.5" height="9.5" fill="#050505"/><rect x="164.84" y="52.90" width="7.5" height="9.5" fill="#050505"/><rect x="173.45" y="52.90" width="7.5" height="9.5" fill="#050505"/><rect x="182.06" y="52.90" width="7.5" height="9.5" fill="#050505"/><rect x="190.67" y="52.90" width="7.5" height="9.5" fill="#050505"/><rect x="199.28" y="52.90" width="7.5" height="9.5" fill="#050505"/><rect x="207.89" y="52.90" width="7.5" height="9.5" fill="#a2a2a2"/><rect x="216.50" y="52.90" width="7.5" height="9.5" fill="#050505"/><rect x="225.11" y="52.90" width="7.5" height="9.5" fill="#a2a2a2"/><rect x="233.72" y="52.90" width="7.5" height="9.5" fill="#a2a2a2"/><rect x="242.33" y="52.90" width="7.5" height="9.5" fill="#050505"/><rect x="250.94" y="52.90" width="7.5" height="9.5" fill="#050505"/><rect x="259.55" y="52.90" width="7.5" height="9.5" fill="#050505"/><rect x="268.16" y="52.90" width="7.5" height="9.5" fill="#050505"/><rect x="276.77" y="52.90" width="7.5" height="9.5" fill="#050505"/><rect x="285.38" y="52.90" width="7.5" height="9.5" fill="#050505"/><rect x="293.99" y="52.90" width="7.5" height="9.5" fill="#050505"/><rect x="302.60" y="52.90" width="7.5" height="9.5" fill="#050505"/><rect x="311.21" y="52.90" width="7.5" height="9.5" fill="#050505"/><rect x="319.82" y="52.90" width="7.5" height="9.5" fill="#a2a2a2"/><rect x="328.43" y="52.90" width="7.5" height="9.5" fill="#a2a2a2"/><rect x="337.04" y="52.90" width="7.5" height="9.5" fill="#050505"/><rect x="345.65" y="52.90" width="7.5" height="9.5" fill="#050505"/><rect x="354.26" y="52.90" width="7.5" height="9.5" fill="#050505"/><rect x="362.87" y="52.90" width="7.5" height="9.5" fill="#a2a2a2"/><rect x="371.48" y="52.90" width="7.5" height="9.5" fill="#050505"/><rect x="380.09" y="52.90" width="7.5" height="9.5" fill="#050505"/><rect x="388.70" y="52.90" width="7.5" height="9.5" fill="#a2a2a2"/><rect x="397.31" y="52.90" width="7.5" height="9.5" fill="#050505"/><rect x="405.92" y="52.90" width="7.5" height="9.5" fill="#050505"/><rect x="414.53" y="52.90" width="7.5" height="9.5" fill="#050505"/><rect x="423.14" y="52.90" width="7.5" height="9.5" fill="#050505"/><rect x="431.75" y="52.90" width="7.5" height="9.5" fill="#050505"/><rect x="440.36" y="52.90" width="7.5" height="9.5" fill="#a2a2a2"/><rect x="448.97" y="52.90" width="7.5" height="9.5" fill="#050505"/><rect x="457.58" y="52.90" width="7.5" height="9.5" fill="#050505"/><rect x="466.19" y="52.90" width="7.5" height="9.5" fill="#050505"/><rect x="474.80" y="52.90" width="7.5" height="9.5" fill="#a2a2a2"/><rect x="483.41" y="52.90" width="7.5" height="9.5" fill="#050505"/><rect x="492.02" y="52.90" width="7.5" height="9.5" fill="#050505"/><rect x="500.63" y="52.90" width="7.5" height="9.5" fill="#050505"/><rect x="509.24" y="52.90" width="7.5" height="9.5" fill="#050505"/><rect x="517.85" y="52.90" width="7.5" height="9.5" fill="#050505"/><rect x="526.46" y="52.90" width="7.5" height="9.5" fill="#050505"/><rect x="535.07" y="52.90" width="7.5" height="9.5" fill="#050505"/><circle cx="547.43" cy="57.65" r="1.25" fill="#bdb5b5"/><circle cx="556.04" cy="57.65" r="1.25" fill="#bdb5b5"/><rect x="560.90" y="52.90" width="7.5" height="9.5" fill="#050505"/><rect x="569.51" y="52.90" width="7.5" height="9.5" fill="#050505"/><circle cx="581.87" cy="57.65" r="1.25" fill="#bdb5b5"/><circle cx="590.48" cy="57.65" r="1.25" fill="#bdb5b5"/><circle cx="599.09" cy="57.65" r="1.25" fill="#bdb5b5"/><circle cx="607.70" cy="57.65" r="1.25" fill="#bdb5b5"/><circle cx="616.31" cy="57.65" r="1.25" fill="#bdb5b5"/><circle cx="624.92" cy="57.65" r="1.25" fill="#bdb5b5"/><circle cx="633.53" cy="57.65" r="1.25" fill="#bdb5b5"/><circle cx="642.14" cy="57.65" r="1.25" fill="#bdb5b5"/><circle cx="650.75" cy="57.65" r="1.25" fill="#bdb5b5"/><circle cx="659.36" cy="57.65" r="1.25" fill="#bdb5b5"/><circle cx="667.97" cy="57.65" r="1.25" fill="#bdb5b5"/><circle cx="676.58" cy="57.65" r="1.25" fill="#bdb5b5"/><rect x="681.44" y="52.90" width="7.5" height="9.5" fill="#050505"/><circle cx="693.80" cy="57.65" r="1.25" fill="#bdb5b5"/><rect x="1.25" y="63.90" width="7.5" height="9.5" fill="#6a2c8a"/><rect x="9.86" y="63.90" width="7.5" height="9.5" fill="#e77626"/><rect x="18.47" y="63.90" width="7.5" height="9.5" fill="#fdd564"/><rect x="27.08" y="63.90" width="7.5" height="9.5" fill="#6a2c8a"/><rect x="35.69" y="63.90" width="7.5" height="9.5" fill="#e77626"/><rect x="44.30" y="63.90" width="7.5" height="9.5" fill="#fdd564"/><rect x="52.91" y="63.90" width="7.5" height="9.5" fill="#fdd564"/><rect x="61.52" y="63.90" width="7.5" height="9.5" fill="#6a2c8a"/><rect x="70.13" y="63.90" width="7.5" height="9.5" fill="#fdd564"/><rect x="78.74" y="63.90" width="7.5" height="9.5" fill="#fdd564"/><rect x="87.35" y="63.90" width="7.5" height="9.5" fill="#fdd564"/><rect x="95.96" y="63.90" width="7.5" height="9.5" fill="#6a2c8a"/><rect x="104.57" y="63.90" width="7.5" height="9.5" fill="#6a2c8a"/><rect x="113.18" y="63.90" width="7.5" height="9.5" fill="#6a2c8a"/><rect x="121.79" y="63.90" width="7.5" height="9.5" fill="#fdd564"/><rect x="130.40" y="63.90" width="7.5" height="9.5" fill="#fdd564"/><rect x="139.01" y="63.90" width="7.5" height="9.5" fill="#fdd564"/><rect x="147.62" y="63.90" width="7.5" height="9.5" fill="#e77626"/><rect x="156.23" y="63.90" width="7.5" height="9.5" fill="#fdd564"/><rect x="164.84" y="63.90" width="7.5" height="9.5" fill="#fdd564"/><rect x="173.45" y="63.90" width="7.5" height="9.5" fill="#fdd564"/><rect x="182.06" y="63.90" width="7.5" height="9.5" fill="#fdd564"/><rect x="190.67" y="63.90" width="7.5" height="9.5" fill="#fdd564"/><rect x="199.28" y="63.90" width="7.5" height="9.5" fill="#fdd564"/><rect x="207.89" y="63.90" width="7.5" height="9.5" fill="#fdd564"/><rect x="216.50" y="63.90" width="7.5" height="9.5" fill="#fdd564"/><rect x="225.11" y="63.90" width="7.5" height="9.5" fill="#6a2c8a"/><rect x="233.72" y="63.90" width="7.5" height="9.5" fill="#fdd564"/><rect x="242.33" y="63.90" width="7.5" height="9.5" fill="#fdd564"/><rect x="250.94" y="63.90" width="7.5" height="9.5" fill="#fdd564"/><rect x="259.55" y="63.90" width="7.5" height="9.5" fill="#fdd564"/><rect x="268.16" y="63.90" width="7.5" height="9.5" fill="#fdd564"/><rect x="276.77" y="63.90" width="7.5" height="9.5" fill="#fdd564"/><circle cx="289.13" cy="68.65" r="1.25" fill="#bdb5b5"/><circle cx="297.74" cy="68.65" r="1.25" fill="#bdb5b5"/><circle cx="306.35" cy="68.65" r="1.25" fill="#bdb5b5"/><circle cx="314.96" cy="68.65" r="1.25" fill="#bdb5b5"/><circle cx="323.57" cy="68.65" r="1.25" fill="#bdb5b5"/><circle cx="332.18" cy="68.65" r="1.25" fill="#bdb5b5"/><circle cx="340.79" cy="68.65" r="1.25" fill="#bdb5b5"/><circle cx="349.40" cy="68.65" r="1.25" fill="#bdb5b5"/><circle cx="358.01" cy="68.65" r="1.25" fill="#bdb5b5"/><circle cx="366.62" cy="68.65" r="1.25" fill="#bdb5b5"/><circle cx="375.23" cy="68.65" r="1.25" fill="#bdb5b5"/><circle cx="383.84" cy="68.65" r="1.25" fill="#bdb5b5"/><circle cx="392.45" cy="68.65" r="1.25" fill="#bdb5b5"/><circle cx="401.06" cy="68.65" r="1.25" fill="#bdb5b5"/><circle cx="409.67" cy="68.65" r="1.25" fill="#bdb5b5"/><circle cx="418.28" cy="68.65" r="1.25" fill="#bdb5b5"/><circle cx="426.89" cy="68.65" r="1.25" fill="#bdb5b5"/><circle cx="435.50" cy="68.65" r="1.25" fill="#bdb5b5"/><circle cx="444.11" cy="68.65" r="1.25" fill="#bdb5b5"/><circle cx="452.72" cy="68.65" r="1.25" fill="#bdb5b5"/><circle cx="461.33" cy="68.65" r="1.25" fill="#bdb5b5"/><circle cx="469.94" cy="68.65" r="1.25" fill="#bdb5b5"/><circle cx="478.55" cy="68.65" r="1.25" fill="#bdb5b5"/><circle cx="487.16" cy="68.65" r="1.25" fill="#bdb5b5"/><circle cx="495.77" cy="68.65" r="1.25" fill="#bdb5b5"/><circle cx="504.38" cy="68.65" r="1.25" fill="#bdb5b5"/><circle cx="512.99" cy="68.65" r="1.25" fill="#bdb5b5"/><circle cx="521.60" cy="68.65" r="1.25" fill="#bdb5b5"/><circle cx="530.21" cy="68.65" r="1.25" fill="#bdb5b5"/><circle cx="538.82" cy="68.65" r="1.25" fill="#bdb5b5"/><circle cx="547.43" cy="68.65" r="1.25" fill="#bdb5b5"/><circle cx="556.04" cy="68.65" r="1.25" fill="#bdb5b5"/><circle cx="564.65" cy="68.65" r="1.25" fill="#bdb5b5"/><circle cx="573.26" cy="68.65" r="1.25" fill="#bdb5b5"/><circle cx="581.87" cy="68.65" r="1.25" fill="#bdb5b5"/><circle cx="590.48" cy="68.65" r="1.25" fill="#bdb5b5"/><circle cx="599.09" cy="68.65" r="1.25" fill="#bdb5b5"/><circle cx="607.70" cy="68.65" r="1.25" fill="#bdb5b5"/><circle cx="616.31" cy="68.65" r="1.25" fill="#bdb5b5"/><circle cx="624.92" cy="68.65" r="1.25" fill="#bdb5b5"/><circle cx="633.53" cy="68.65" r="1.25" fill="#bdb5b5"/><circle cx="642.14" cy="68.65" r="1.25" fill="#bdb5b5"/><circle cx="650.75" cy="68.65" r="1.25" fill="#bdb5b5"/><circle cx="659.36" cy="68.65" r="1.25" fill="#bdb5b5"/><circle cx="667.97" cy="68.65" r="1.25" fill="#bdb5b5"/><circle cx="676.58" cy="68.65" r="1.25" fill="#bdb5b5"/><circle cx="685.19" cy="68.65" r="1.25" fill="#bdb5b5"/><circle cx="693.80" cy="68.65" r="1.25" fill="#bdb5b5"/><rect x="1.25" y="99.20" width="7.5" height="10" fill="#e0e0e0"/><rect x="9.86" y="99.20" width="7.5" height="10" fill="#e0e0e0"/><rect x="18.47" y="99.20" width="7.5" height="10" fill="#e0e0e0"/><rect x="27.08" y="99.20" width="7.5" height="10" fill="#e0e0e0"/><rect x="35.69" y="99.20" width="7.5" height="10" fill="#e0e0e0"/><rect x="44.30" y="99.20" width="7.5" height="10" fill="#e0e0e0"/><rect x="52.91" y="99.20" width="7.5" height="10" fill="#e0e0e0"/><rect x="61.52" y="99.20" width="7.5" height="10" fill="#e0e0e0"/><rect x="70.13" y="99.20" width="7.5" height="10" fill="#e0e0e0"/><rect x="78.74" y="99.20" width="7.5" height="10" fill="#e0e0e0"/><rect x="87.35" y="99.20" width="7.5" height="10" fill="#e0e0e0"/><rect x="95.96" y="99.20" width="7.5" height="10" fill="#8a3b12"/><rect x="104.57" y="99.20" width="7.5" height="10" fill="#e0e0e0"/><rect x="113.18" y="99.20" width="7.5" height="10" fill="#e0e0e0"/><rect x="121.79" y="99.20" width="7.5" height="10" fill="#e0e0e0"/><rect x="130.40" y="99.20" width="7.5" height="10" fill="#e0e0e0"/><rect x="139.01" y="99.20" width="7.5" height="10" fill="#e0e0e0"/><rect x="147.62" y="99.20" width="7.5" height="10" fill="#e0e0e0"/><rect x="156.23" y="99.20" width="7.5" height="10" fill="#e0e0e0"/><rect x="164.84" y="99.20" width="7.5" height="10" fill="#e0e0e0"/><rect x="173.45" y="99.20" width="7.5" height="10" fill="#e0e0e0"/><rect x="182.06" y="99.20" width="7.5" height="10" fill="#e0e0e0"/><rect x="190.67" y="99.20" width="7.5" height="10" fill="#8a3b12"/><rect x="199.28" y="99.20" width="7.5" height="10" fill="#e0e0e0"/><rect x="207.89" y="99.20" width="7.5" height="10" fill="#e0e0e0"/><rect x="216.50" y="99.20" width="7.5" height="10" fill="#e0e0e0"/><rect x="225.11" y="99.20" width="7.5" height="10" fill="#e0e0e0"/><rect x="233.72" y="99.20" width="7.5" height="10" fill="#e0e0e0"/><rect x="242.33" y="99.20" width="7.5" height="10" fill="#8a3b12"/><rect x="250.94" y="99.20" width="7.5" height="10" fill="#8a3b12"/><rect x="259.55" y="99.20" width="7.5" height="10" fill="#8a3b12"/><rect x="268.16" y="99.20" width="7.5" height="10" fill="#e0e0e0"/><rect x="276.77" y="99.20" width="7.5" height="10" fill="#e0e0e0"/><rect x="285.38" y="99.20" width="7.5" height="10" fill="#e0e0e0"/><rect x="293.99" y="99.20" width="7.5" height="10" fill="#e0e0e0"/><rect x="302.60" y="99.20" width="7.5" height="10" fill="#e0e0e0"/><rect x="311.21" y="99.20" width="7.5" height="10" fill="#e0e0e0"/><rect x="319.82" y="99.20" width="7.5" height="10" fill="#e0e0e0"/><rect x="328.43" y="99.20" width="7.5" height="10" fill="#e0e0e0"/><rect x="337.04" y="99.20" width="7.5" height="10" fill="#8a3b12"/><rect x="345.65" y="99.20" width="7.5" height="10" fill="#e0e0e0"/><rect x="354.26" y="99.20" width="7.5" height="10" fill="#8a3b12"/><rect x="362.87" y="99.20" width="7.5" height="10" fill="#8a3b12"/><rect x="371.48" y="99.20" width="7.5" height="10" fill="#e0e0e0"/><rect x="380.09" y="99.20" width="7.5" height="10" fill="#e0e0e0"/><rect x="388.70" y="99.20" width="7.5" height="10" fill="#e0e0e0"/><rect x="397.31" y="99.20" width="7.5" height="10" fill="#e0e0e0"/><rect x="405.92" y="99.20" width="7.5" height="10" fill="#e0e0e0"/><rect x="414.53" y="99.20" width="7.5" height="10" fill="#e0e0e0"/><rect x="423.14" y="99.20" width="7.5" height="10" fill="#e0e0e0"/><rect x="431.75" y="99.20" width="7.5" height="10" fill="#e0e0e0"/><rect x="440.36" y="99.20" width="7.5" height="10" fill="#e0e0e0"/><rect x="448.97" y="99.20" width="7.5" height="10" fill="#e0e0e0"/><rect x="457.58" y="99.20" width="7.5" height="10" fill="#e0e0e0"/><rect x="466.19" y="99.20" width="7.5" height="10" fill="#e0e0e0"/><rect x="474.80" y="99.20" width="7.5" height="10" fill="#e0e0e0"/><rect x="483.41" y="99.20" width="7.5" height="10" fill="#e0e0e0"/><rect x="492.02" y="99.20" width="7.5" height="10" fill="#e0e0e0"/><rect x="500.63" y="99.20" width="7.5" height="10" fill="#e0e0e0"/><rect x="509.24" y="99.20" width="7.5" height="10" fill="#e0e0e0"/><rect x="517.85" y="99.20" width="7.5" height="10" fill="#e0e0e0"/><rect x="526.46" y="99.20" width="7.5" height="10" fill="#e0e0e0"/><rect x="535.07" y="99.20" width="7.5" height="10" fill="#e0e0e0"/><rect x="543.68" y="99.20" width="7.5" height="10" fill="#e0e0e0"/><rect x="552.29" y="99.20" width="7.5" height="10" fill="#e0e0e0"/><rect x="560.90" y="99.20" width="7.5" height="10" fill="#e0e0e0"/><rect x="569.51" y="99.20" width="7.5" height="10" fill="#e0e0e0"/><rect x="578.12" y="99.20" width="7.5" height="10" fill="#e0e0e0"/><rect x="586.73" y="99.20" width="7.5" height="10" fill="#e0e0e0"/><rect x="595.34" y="99.20" width="7.5" height="10" fill="#e0e0e0"/><rect x="603.95" y="99.20" width="7.5" height="10" fill="#e0e0e0"/><rect x="612.56" y="99.20" width="7.5" height="10" fill="#e0e0e0"/><rect x="621.17" y="99.20" width="7.5" height="10" fill="#e0e0e0"/><rect x="629.78" y="99.20" width="7.5" height="10" fill="#e0e0e0"/><rect x="638.39" y="99.20" width="7.5" height="10" fill="#e0e0e0"/><rect x="647.00" y="99.20" width="7.5" height="10" fill="#e0e0e0"/><rect x="655.61" y="99.20" width="7.5" height="10" fill="#e0e0e0"/><rect x="664.22" y="99.20" width="7.5" height="10" fill="#e0e0e0"/><rect x="672.83" y="99.20" width="7.5" height="10" fill="#e0e0e0"/><rect x="681.44" y="99.20" width="7.5" height="10" fill="#e0e0e0"/><rect x="690.05" y="99.20" width="7.5" height="10" fill="#e0e0e0"/><rect x="1.25" y="110.30" width="7.5" height="10" fill="#e0e0e0"/><rect x="9.86" y="110.30" width="7.5" height="10" fill="#1f6eb5"/><rect x="18.47" y="110.30" width="7.5" height="10" fill="#e0e0e0"/><rect x="27.08" y="110.30" width="7.5" height="10" fill="#e0e0e0"/><rect x="35.69" y="110.30" width="7.5" height="10" fill="#e0e0e0"/><rect x="44.30" y="110.30" width="7.5" height="10" fill="#e0e0e0"/><rect x="52.91" y="110.30" width="7.5" height="10" fill="#e0e0e0"/><rect x="61.52" y="110.30" width="7.5" height="10" fill="#e0e0e0"/><rect x="70.13" y="110.30" width="7.5" height="10" fill="#e0e0e0"/><rect x="78.74" y="110.30" width="7.5" height="10" fill="#e0e0e0"/><rect x="87.35" y="110.30" width="7.5" height="10" fill="#e0e0e0"/><rect x="95.96" y="110.30" width="7.5" height="10" fill="#e0e0e0"/><rect x="104.57" y="110.30" width="7.5" height="10" fill="#e0e0e0"/><rect x="113.18" y="110.30" width="7.5" height="10" fill="#e0e0e0"/><rect x="121.79" y="110.30" width="7.5" height="10" fill="#1f6eb5"/><rect x="130.40" y="110.30" width="7.5" height="10" fill="#e0e0e0"/><rect x="139.01" y="110.30" width="7.5" height="10" fill="#e0e0e0"/><rect x="147.62" y="110.30" width="7.5" height="10" fill="#e0e0e0"/><rect x="156.23" y="110.30" width="7.5" height="10" fill="#e0e0e0"/><rect x="164.84" y="110.30" width="7.5" height="10" fill="#e0e0e0"/><rect x="173.45" y="110.30" width="7.5" height="10" fill="#e0e0e0"/><rect x="182.06" y="110.30" width="7.5" height="10" fill="#e0e0e0"/><rect x="190.67" y="110.30" width="7.5" height="10" fill="#e0e0e0"/><rect x="199.28" y="110.30" width="7.5" height="10" fill="#e0e0e0"/><rect x="207.89" y="110.30" width="7.5" height="10" fill="#e0e0e0"/><rect x="216.50" y="110.30" width="7.5" height="10" fill="#e0e0e0"/><rect x="225.11" y="110.30" width="7.5" height="10" fill="#e0e0e0"/><rect x="233.72" y="110.30" width="7.5" height="10" fill="#e0e0e0"/><rect x="242.33" y="110.30" width="7.5" height="10" fill="#e0e0e0"/><rect x="250.94" y="110.30" width="7.5" height="10" fill="#1f6eb5"/><rect x="259.55" y="110.30" width="7.5" height="10" fill="#1f6eb5"/><rect x="268.16" y="110.30" width="7.5" height="10" fill="#e0e0e0"/><rect x="276.77" y="110.30" width="7.5" height="10" fill="#e0e0e0"/><rect x="285.38" y="110.30" width="7.5" height="10" fill="#e0e0e0"/><rect x="293.99" y="110.30" width="7.5" height="10" fill="#e0e0e0"/><rect x="302.60" y="110.30" width="7.5" height="10" fill="#e0e0e0"/><rect x="311.21" y="110.30" width="7.5" height="10" fill="#e0e0e0"/><rect x="319.82" y="110.30" width="7.5" height="10" fill="#e0e0e0"/><rect x="328.43" y="110.30" width="7.5" height="10" fill="#e0e0e0"/><rect x="337.04" y="110.30" width="7.5" height="10" fill="#e0e0e0"/><rect x="345.65" y="110.30" width="7.5" height="10" fill="#e0e0e0"/><rect x="354.26" y="110.30" width="7.5" height="10" fill="#e0e0e0"/><rect x="362.87" y="110.30" width="7.5" height="10" fill="#e0e0e0"/><rect x="371.48" y="110.30" width="7.5" height="10" fill="#e0e0e0"/><rect x="380.09" y="110.30" width="7.5" height="10" fill="#e0e0e0"/><rect x="388.70" y="110.30" width="7.5" height="10" fill="#e0e0e0"/><rect x="397.31" y="110.30" width="7.5" height="10" fill="#e0e0e0"/><rect x="405.92" y="110.30" width="7.5" height="10" fill="#e0e0e0"/><rect x="414.53" y="110.30" width="7.5" height="10" fill="#e0e0e0"/><rect x="423.14" y="110.30" width="7.5" height="10" fill="#e0e0e0"/><rect x="431.75" y="110.30" width="7.5" height="10" fill="#e0e0e0"/><rect x="440.36" y="110.30" width="7.5" height="10" fill="#e0e0e0"/><rect x="448.97" y="110.30" width="7.5" height="10" fill="#e0e0e0"/><rect x="457.58" y="110.30" width="7.5" height="10" fill="#e0e0e0"/><rect x="466.19" y="110.30" width="7.5" height="10" fill="#e0e0e0"/><rect x="474.80" y="110.30" width="7.5" height="10" fill="#e0e0e0"/><rect x="483.41" y="110.30" width="7.5" height="10" fill="#e0e0e0"/><rect x="492.02" y="110.30" width="7.5" height="10" fill="#e0e0e0"/><rect x="500.63" y="110.30" width="7.5" height="10" fill="#e0e0e0"/><rect x="509.24" y="110.30" width="7.5" height="10" fill="#e0e0e0"/><rect x="517.85" y="110.30" width="7.5" height="10" fill="#e0e0e0"/><rect x="526.46" y="110.30" width="7.5" height="10" fill="#e0e0e0"/><rect x="535.07" y="110.30" width="7.5" height="10" fill="#e0e0e0"/><rect x="543.68" y="110.30" width="7.5" height="10" fill="#e0e0e0"/><rect x="552.29" y="110.30" width="7.5" height="10" fill="#e0e0e0"/><rect x="560.90" y="110.30" width="7.5" height="10" fill="#e0e0e0"/><rect x="569.51" y="110.30" width="7.5" height="10" fill="#e0e0e0"/><rect x="578.12" y="110.30" width="7.5" height="10" fill="#e0e0e0"/><rect x="586.73" y="110.30" width="7.5" height="10" fill="#e0e0e0"/><rect x="595.34" y="110.30" width="7.5" height="10" fill="#e0e0e0"/><rect x="603.95" y="110.30" width="7.5" height="10" fill="#e0e0e0"/><rect x="612.56" y="110.30" width="7.5" height="10" fill="#e0e0e0"/><rect x="621.17" y="110.30" width="7.5" height="10" fill="#e0e0e0"/><rect x="629.78" y="110.30" width="7.5" height="10" fill="#e0e0e0"/><rect x="638.39" y="110.30" width="7.5" height="10" fill="#e0e0e0"/><rect x="647.00" y="110.30" width="7.5" height="10" fill="#e0e0e0"/><rect x="655.61" y="110.30" width="7.5" height="10" fill="#e0e0e0"/><rect x="664.22" y="110.30" width="7.5" height="10" fill="#e0e0e0"/><rect x="672.83" y="110.30" width="7.5" height="10" fill="#e0e0e0"/><rect x="681.44" y="110.30" width="7.5" height="10" fill="#e0e0e0"/><rect x="690.05" y="110.30" width="7.5" height="10" fill="#e0e0e0"/><rect x="1.25" y="121.40" width="7.5" height="10" fill="#e0e0e0"/><rect x="9.86" y="121.40" width="7.5" height="10" fill="#e0e0e0"/><rect x="18.47" y="121.40" width="7.5" height="10" fill="#e0e0e0"/><rect x="27.08" y="121.40" width="7.5" height="10" fill="#e0e0e0"/><rect x="35.69" y="121.40" width="7.5" height="10" fill="#e0e0e0"/><rect x="44.30" y="121.40" width="7.5" height="10" fill="#e0e0e0"/><rect x="52.91" y="121.40" width="7.5" height="10" fill="#e0e0e0"/><rect x="61.52" y="121.40" width="7.5" height="10" fill="#e0e0e0"/><rect x="70.13" y="121.40" width="7.5" height="10" fill="#e0e0e0"/><rect x="78.74" y="121.40" width="7.5" height="10" fill="#e0e0e0"/><rect x="87.35" y="121.40" width="7.5" height="10" fill="#e0e0e0"/><rect x="95.96" y="121.40" width="7.5" height="10" fill="#e0e0e0"/><rect x="104.57" y="121.40" width="7.5" height="10" fill="#e0e0e0"/><rect x="113.18" y="121.40" width="7.5" height="10" fill="#e0e0e0"/><rect x="121.79" y="121.40" width="7.5" height="10" fill="#e0e0e0"/><rect x="130.40" y="121.40" width="7.5" height="10" fill="#e0e0e0"/><rect x="139.01" y="121.40" width="7.5" height="10" fill="#e0e0e0"/><rect x="147.62" y="121.40" width="7.5" height="10" fill="#e0e0e0"/><rect x="156.23" y="121.40" width="7.5" height="10" fill="#8a3b12"/><rect x="164.84" y="121.40" width="7.5" height="10" fill="#e0e0e0"/><rect x="173.45" y="121.40" width="7.5" height="10" fill="#e0e0e0"/><rect x="182.06" y="121.40" width="7.5" height="10" fill="#e0e0e0"/><rect x="190.67" y="121.40" width="7.5" height="10" fill="#e0e0e0"/><rect x="199.28" y="121.40" width="7.5" height="10" fill="#e0e0e0"/><rect x="207.89" y="121.40" width="7.5" height="10" fill="#e0e0e0"/><rect x="216.50" y="121.40" width="7.5" height="10" fill="#e0e0e0"/><rect x="225.11" y="121.40" width="7.5" height="10" fill="#e0e0e0"/><rect x="233.72" y="121.40" width="7.5" height="10" fill="#e0e0e0"/><rect x="242.33" y="121.40" width="7.5" height="10" fill="#e0e0e0"/><rect x="250.94" y="121.40" width="7.5" height="10" fill="#e0e0e0"/><rect x="259.55" y="121.40" width="7.5" height="10" fill="#e0e0e0"/><rect x="268.16" y="121.40" width="7.5" height="10" fill="#e0e0e0"/><rect x="276.77" y="121.40" width="7.5" height="10" fill="#e0e0e0"/><rect x="285.38" y="121.40" width="7.5" height="10" fill="#e0e0e0"/><rect x="293.99" y="121.40" width="7.5" height="10" fill="#e0e0e0"/><rect x="302.60" y="121.40" width="7.5" height="10" fill="#e0e0e0"/><rect x="311.21" y="121.40" width="7.5" height="10" fill="#8a3b12"/><rect x="319.82" y="121.40" width="7.5" height="10" fill="#e0e0e0"/><rect x="328.43" y="121.40" width="7.5" height="10" fill="#e0e0e0"/><rect x="337.04" y="121.40" width="7.5" height="10" fill="#e0e0e0"/><rect x="345.65" y="121.40" width="7.5" height="10" fill="#e0e0e0"/><rect x="354.26" y="121.40" width="7.5" height="10" fill="#e0e0e0"/><rect x="362.87" y="121.40" width="7.5" height="10" fill="#e0e0e0"/><rect x="371.48" y="121.40" width="7.5" height="10" fill="#e0e0e0"/><rect x="380.09" y="121.40" width="7.5" height="10" fill="#e0e0e0"/><rect x="388.70" y="121.40" width="7.5" height="10" fill="#e0e0e0"/><rect x="397.31" y="121.40" width="7.5" height="10" fill="#e0e0e0"/><rect x="405.92" y="121.40" width="7.5" height="10" fill="#e0e0e0"/><rect x="414.53" y="121.40" width="7.5" height="10" fill="#e0e0e0"/><rect x="423.14" y="121.40" width="7.5" height="10" fill="#e0e0e0"/><rect x="431.75" y="121.40" width="7.5" height="10" fill="#e0e0e0"/><rect x="440.36" y="121.40" width="7.5" height="10" fill="#e0e0e0"/><rect x="448.97" y="121.40" width="7.5" height="10" fill="#8a3b12"/><rect x="457.58" y="121.40" width="7.5" height="10" fill="#e0e0e0"/><rect x="466.19" y="121.40" width="7.5" height="10" fill="#e0e0e0"/><rect x="474.80" y="121.40" width="7.5" height="10" fill="#e0e0e0"/><rect x="483.41" y="121.40" width="7.5" height="10" fill="#e0e0e0"/><rect x="492.02" y="121.40" width="7.5" height="10" fill="#e0e0e0"/><rect x="500.63" y="121.40" width="7.5" height="10" fill="#e0e0e0"/><rect x="509.24" y="121.40" width="7.5" height="10" fill="#e0e0e0"/><rect x="517.85" y="121.40" width="7.5" height="10" fill="#e0e0e0"/><rect x="526.46" y="121.40" width="7.5" height="10" fill="#8a3b12"/><rect x="535.07" y="121.40" width="7.5" height="10" fill="#8a3b12"/><rect x="543.68" y="121.40" width="7.5" height="10" fill="#e0e0e0"/><rect x="552.29" y="121.40" width="7.5" height="10" fill="#e0e0e0"/><rect x="560.90" y="121.40" width="7.5" height="10" fill="#e0e0e0"/><rect x="569.51" y="121.40" width="7.5" height="10" fill="#e0e0e0"/><rect x="578.12" y="121.40" width="7.5" height="10" fill="#e0e0e0"/><rect x="586.73" y="121.40" width="7.5" height="10" fill="#e0e0e0"/><rect x="595.34" y="121.40" width="7.5" height="10" fill="#e0e0e0"/><rect x="603.95" y="121.40" width="7.5" height="10" fill="#e0e0e0"/><rect x="612.56" y="121.40" width="7.5" height="10" fill="#e0e0e0"/><rect x="621.17" y="121.40" width="7.5" height="10" fill="#e0e0e0"/><rect x="629.78" y="121.40" width="7.5" height="10" fill="#e0e0e0"/><rect x="638.39" y="121.40" width="7.5" height="10" fill="#e0e0e0"/><rect x="647.00" y="121.40" width="7.5" height="10" fill="#e0e0e0"/><rect x="655.61" y="121.40" width="7.5" height="10" fill="#e0e0e0"/><rect x="664.22" y="121.40" width="7.5" height="10" fill="#e0e0e0"/><rect x="672.83" y="121.40" width="7.5" height="10" fill="#e0e0e0"/><rect x="681.44" y="121.40" width="7.5" height="10" fill="#e0e0e0"/><rect x="690.05" y="121.40" width="7.5" height="10" fill="#e0e0e0"/><rect x="1.25" y="132.50" width="7.5" height="10" fill="#e0e0e0"/><rect x="9.86" y="132.50" width="7.5" height="10" fill="#e0e0e0"/><rect x="18.47" y="132.50" width="7.5" height="10" fill="#8a3b12"/><rect x="27.08" y="132.50" width="7.5" height="10" fill="#e0e0e0"/><rect x="35.69" y="132.50" width="7.5" height="10" fill="#e0e0e0"/><rect x="44.30" y="132.50" width="7.5" height="10" fill="#e0e0e0"/><rect x="52.91" y="132.50" width="7.5" height="10" fill="#e0e0e0"/><rect x="61.52" y="132.50" width="7.5" height="10" fill="#e0e0e0"/><rect x="70.13" y="132.50" width="7.5" height="10" fill="#e0e0e0"/><rect x="78.74" y="132.50" width="7.5" height="10" fill="#e0e0e0"/><rect x="87.35" y="132.50" width="7.5" height="10" fill="#e0e0e0"/><rect x="95.96" y="132.50" width="7.5" height="10" fill="#e0e0e0"/><rect x="104.57" y="132.50" width="7.5" height="10" fill="#e0e0e0"/><rect x="113.18" y="132.50" width="7.5" height="10" fill="#e0e0e0"/><rect x="121.79" y="132.50" width="7.5" height="10" fill="#e0e0e0"/><rect x="130.40" y="132.50" width="7.5" height="10" fill="#e0e0e0"/><rect x="139.01" y="132.50" width="7.5" height="10" fill="#e0e0e0"/><rect x="147.62" y="132.50" width="7.5" height="10" fill="#e0e0e0"/><rect x="156.23" y="132.50" width="7.5" height="10" fill="#e0e0e0"/><rect x="164.84" y="132.50" width="7.5" height="10" fill="#e0e0e0"/><rect x="173.45" y="132.50" width="7.5" height="10" fill="#e0e0e0"/><rect x="182.06" y="132.50" width="7.5" height="10" fill="#e0e0e0"/><rect x="190.67" y="132.50" width="7.5" height="10" fill="#e0e0e0"/><rect x="199.28" y="132.50" width="7.5" height="10" fill="#e0e0e0"/><rect x="207.89" y="132.50" width="7.5" height="10" fill="#e0e0e0"/><rect x="216.50" y="132.50" width="7.5" height="10" fill="#e0e0e0"/><rect x="225.11" y="132.50" width="7.5" height="10" fill="#e0e0e0"/><rect x="233.72" y="132.50" width="7.5" height="10" fill="#e0e0e0"/><rect x="242.33" y="132.50" width="7.5" height="10" fill="#e0e0e0"/><rect x="250.94" y="132.50" width="7.5" height="10" fill="#e0e0e0"/><rect x="259.55" y="132.50" width="7.5" height="10" fill="#e0e0e0"/><rect x="268.16" y="132.50" width="7.5" height="10" fill="#e0e0e0"/><rect x="276.77" y="132.50" width="7.5" height="10" fill="#e0e0e0"/><rect x="285.38" y="132.50" width="7.5" height="10" fill="#e0e0e0"/><rect x="293.99" y="132.50" width="7.5" height="10" fill="#e0e0e0"/><rect x="302.60" y="132.50" width="7.5" height="10" fill="#e0e0e0"/><rect x="311.21" y="132.50" width="7.5" height="10" fill="#e0e0e0"/><rect x="319.82" y="132.50" width="7.5" height="10" fill="#e0e0e0"/><rect x="328.43" y="132.50" width="7.5" height="10" fill="#e0e0e0"/><rect x="337.04" y="132.50" width="7.5" height="10" fill="#e0e0e0"/><rect x="345.65" y="132.50" width="7.5" height="10" fill="#e0e0e0"/><rect x="354.26" y="132.50" width="7.5" height="10" fill="#e0e0e0"/><rect x="362.87" y="132.50" width="7.5" height="10" fill="#e0e0e0"/><rect x="371.48" y="132.50" width="7.5" height="10" fill="#e0e0e0"/><rect x="380.09" y="132.50" width="7.5" height="10" fill="#e0e0e0"/><rect x="388.70" y="132.50" width="7.5" height="10" fill="#e0e0e0"/><rect x="397.31" y="132.50" width="7.5" height="10" fill="#e0e0e0"/><rect x="405.92" y="132.50" width="7.5" height="10" fill="#e0e0e0"/><rect x="414.53" y="132.50" width="7.5" height="10" fill="#e0e0e0"/><rect x="423.14" y="132.50" width="7.5" height="10" fill="#e0e0e0"/><rect x="431.75" y="132.50" width="7.5" height="10" fill="#e0e0e0"/><rect x="440.36" y="132.50" width="7.5" height="10" fill="#e0e0e0"/><rect x="448.97" y="132.50" width="7.5" height="10" fill="#e0e0e0"/><rect x="457.58" y="132.50" width="7.5" height="10" fill="#e0e0e0"/><rect x="466.19" y="132.50" width="7.5" height="10" fill="#e0e0e0"/><rect x="474.80" y="132.50" width="7.5" height="10" fill="#e0e0e0"/><rect x="483.41" y="132.50" width="7.5" height="10" fill="#e0e0e0"/><rect x="492.02" y="132.50" width="7.5" height="10" fill="#e0e0e0"/><rect x="500.63" y="132.50" width="7.5" height="10" fill="#e0e0e0"/><rect x="509.24" y="132.50" width="7.5" height="10" fill="#e0e0e0"/><rect x="517.85" y="132.50" width="7.5" height="10" fill="#e0e0e0"/><rect x="526.46" y="132.50" width="7.5" height="10" fill="#e0e0e0"/><rect x="535.07" y="132.50" width="7.5" height="10" fill="#e0e0e0"/><rect x="543.68" y="132.50" width="7.5" height="10" fill="#e0e0e0"/><rect x="552.29" y="132.50" width="7.5" height="10" fill="#e0e0e0"/><rect x="560.90" y="132.50" width="7.5" height="10" fill="#e0e0e0"/><rect x="569.51" y="132.50" width="7.5" height="10" fill="#e0e0e0"/><rect x="578.12" y="132.50" width="7.5" height="10" fill="#e0e0e0"/><rect x="586.73" y="132.50" width="7.5" height="10" fill="#e0e0e0"/><rect x="595.34" y="132.50" width="7.5" height="10" fill="#e0e0e0"/><rect x="603.95" y="132.50" width="7.5" height="10" fill="#e0e0e0"/><rect x="612.56" y="132.50" width="7.5" height="10" fill="#e0e0e0"/><rect x="621.17" y="132.50" width="7.5" height="10" fill="#e0e0e0"/><rect x="629.78" y="132.50" width="7.5" height="10" fill="#e0e0e0"/><rect x="638.39" y="132.50" width="7.5" height="10" fill="#e0e0e0"/><rect x="647.00" y="132.50" width="7.5" height="10" fill="#e0e0e0"/><rect x="655.61" y="132.50" width="7.5" height="10" fill="#e0e0e0"/><rect x="664.22" y="132.50" width="7.5" height="10" fill="#e0e0e0"/><rect x="672.83" y="132.50" width="7.5" height="10" fill="#e0e0e0"/><rect x="681.44" y="132.50" width="7.5" height="10" fill="#e0e0e0"/><rect x="690.05" y="132.50" width="7.5" height="10" fill="#e0e0e0"/><rect x="1.25" y="143.60" width="7.5" height="10" fill="#e0e0e0"/><rect x="9.86" y="143.60" width="7.5" height="10" fill="#e0e0e0"/><rect x="18.47" y="143.60" width="7.5" height="10" fill="#e0e0e0"/><rect x="27.08" y="143.60" width="7.5" height="10" fill="#e0e0e0"/><rect x="35.69" y="143.60" width="7.5" height="10" fill="#e0e0e0"/><rect x="44.30" y="143.60" width="7.5" height="10" fill="#0ea243"/><rect x="52.91" y="143.60" width="7.5" height="10" fill="#e0e0e0"/><rect x="61.52" y="143.60" width="7.5" height="10" fill="#e0e0e0"/><rect x="70.13" y="143.60" width="7.5" height="10" fill="#e0e0e0"/><rect x="78.74" y="143.60" width="7.5" height="10" fill="#e0e0e0"/><rect x="87.35" y="143.60" width="7.5" height="5" fill="#8a3b12"/><rect x="87.35" y="148.60" width="7.5" height="5" fill="#0ea243"/><rect x="95.96" y="143.60" width="7.5" height="10" fill="#e0e0e0"/><rect x="104.57" y="143.60" width="7.5" height="10" fill="#e0e0e0"/><rect x="113.18" y="143.60" width="7.5" height="10" fill="#e0e0e0"/><rect x="121.79" y="143.60" width="7.5" height="10" fill="#e0e0e0"/><rect x="130.40" y="143.60" width="7.5" height="10" fill="#e0e0e0"/><rect x="139.01" y="143.60" width="7.5" height="10" fill="#e0e0e0"/><rect x="147.62" y="143.60" width="7.5" height="10" fill="#e0e0e0"/><rect x="156.23" y="143.60" width="7.5" height="10" fill="#e0e0e0"/><rect x="164.84" y="143.60" width="7.5" height="10" fill="#e0e0e0"/><rect x="173.45" y="143.60" width="7.5" height="10" fill="#e0e0e0"/><rect x="182.06" y="143.60" width="7.5" height="10" fill="#e0e0e0"/><rect x="190.67" y="143.60" width="7.5" height="10" fill="#e0e0e0"/><rect x="199.28" y="143.60" width="7.5" height="10" fill="#e0e0e0"/><rect x="207.89" y="143.60" width="7.5" height="10" fill="#e0e0e0"/><rect x="216.50" y="143.60" width="7.5" height="10" fill="#e0e0e0"/><rect x="225.11" y="143.60" width="7.5" height="10" fill="#e0e0e0"/><rect x="233.72" y="143.60" width="7.5" height="10" fill="#e0e0e0"/><rect x="242.33" y="143.60" width="7.5" height="10" fill="#e0e0e0"/><rect x="250.94" y="143.60" width="7.5" height="10" fill="#e0e0e0"/><rect x="259.55" y="143.60" width="7.5" height="10" fill="#e0e0e0"/><rect x="268.16" y="143.60" width="7.5" height="10" fill="#e0e0e0"/><rect x="276.77" y="143.60" width="7.5" height="10" fill="#e0e0e0"/><rect x="285.38" y="143.60" width="7.5" height="10" fill="#e0e0e0"/><rect x="293.99" y="143.60" width="7.5" height="10" fill="#0ea243"/><rect x="302.60" y="143.60" width="7.5" height="10" fill="#e0e0e0"/><rect x="311.21" y="143.60" width="7.5" height="10" fill="#e0e0e0"/><rect x="319.82" y="143.60" width="7.5" height="10" fill="#e0e0e0"/><rect x="328.43" y="143.60" width="7.5" height="10" fill="#e0e0e0"/><rect x="337.04" y="143.60" width="7.5" height="10" fill="#e0e0e0"/><rect x="345.65" y="143.60" width="7.5" height="10" fill="#e0e0e0"/><rect x="354.26" y="143.60" width="7.5" height="10" fill="#e0e0e0"/><rect x="362.87" y="143.60" width="7.5" height="10" fill="#e0e0e0"/><rect x="371.48" y="143.60" width="7.5" height="10" fill="#e0e0e0"/><rect x="380.09" y="143.60" width="7.5" height="10" fill="#e0e0e0"/><rect x="388.70" y="143.60" width="7.5" height="10" fill="#e0e0e0"/><rect x="397.31" y="143.60" width="7.5" height="10" fill="#e0e0e0"/><rect x="405.92" y="143.60" width="7.5" height="10" fill="#e0e0e0"/><rect x="414.53" y="143.60" width="7.5" height="10" fill="#e0e0e0"/><rect x="423.14" y="143.60" width="7.5" height="10" fill="#e0e0e0"/><rect x="431.75" y="143.60" width="7.5" height="10" fill="#e0e0e0"/><rect x="440.36" y="143.60" width="7.5" height="10" fill="#e0e0e0"/><rect x="448.97" y="143.60" width="7.5" height="10" fill="#e0e0e0"/><rect x="457.58" y="143.60" width="7.5" height="10" fill="#e0e0e0"/><rect x="466.19" y="143.60" width="7.5" height="10" fill="#e0e0e0"/><rect x="474.80" y="143.60" width="7.5" height="10" fill="#e0e0e0"/><rect x="483.41" y="143.60" width="7.5" height="10" fill="#e0e0e0"/><rect x="492.02" y="143.60" width="7.5" height="10" fill="#e0e0e0"/><rect x="500.63" y="143.60" width="7.5" height="10" fill="#0ea243"/><rect x="509.24" y="143.60" width="7.5" height="10" fill="#e0e0e0"/><rect x="517.85" y="143.60" width="7.5" height="10" fill="#e0e0e0"/><rect x="526.46" y="143.60" width="7.5" height="10" fill="#e0e0e0"/><rect x="535.07" y="143.60" width="7.5" height="10" fill="#e0e0e0"/><rect x="543.68" y="143.60" width="7.5" height="10" fill="#e0e0e0"/><rect x="552.29" y="143.60" width="7.5" height="10" fill="#e0e0e0"/><rect x="560.90" y="143.60" width="7.5" height="10" fill="#e0e0e0"/><rect x="569.51" y="143.60" width="7.5" height="10" fill="#e0e0e0"/><rect x="578.12" y="143.60" width="7.5" height="10" fill="#e0e0e0"/><rect x="586.73" y="143.60" width="7.5" height="10" fill="#e0e0e0"/><rect x="595.34" y="143.60" width="7.5" height="10" fill="#e0e0e0"/><rect x="603.95" y="143.60" width="7.5" height="10" fill="#e0e0e0"/><rect x="612.56" y="143.60" width="7.5" height="10" fill="#e0e0e0"/><rect x="621.17" y="143.60" width="7.5" height="10" fill="#e0e0e0"/><rect x="629.78" y="143.60" width="7.5" height="10" fill="#e0e0e0"/><rect x="638.39" y="143.60" width="7.5" height="10" fill="#e0e0e0"/><rect x="647.00" y="143.60" width="7.5" height="10" fill="#e0e0e0"/><rect x="655.61" y="143.60" width="7.5" height="10" fill="#e0e0e0"/><rect x="664.22" y="143.60" width="7.5" height="10" fill="#e0e0e0"/><rect x="672.83" y="143.60" width="7.5" height="10" fill="#e0e0e0"/><rect x="681.44" y="143.60" width="7.5" height="10" fill="#b83f97"/><rect x="690.05" y="143.60" width="7.5" height="10" fill="#e0e0e0"/><rect x="1.25" y="154.70" width="7.5" height="10" fill="#e0e0e0"/><rect x="9.86" y="154.70" width="7.5" height="10" fill="#e0e0e0"/><rect x="18.47" y="154.70" width="7.5" height="10" fill="#e0e0e0"/><rect x="27.08" y="154.70" width="7.5" height="10" fill="#e0e0e0"/><rect x="35.69" y="154.70" width="7.5" height="10" fill="#e0e0e0"/><rect x="44.30" y="154.70" width="7.5" height="10" fill="#e0e0e0"/><rect x="52.91" y="154.70" width="7.5" height="10" fill="#e0e0e0"/><rect x="61.52" y="154.70" width="7.5" height="10" fill="#e0e0e0"/><rect x="70.13" y="154.70" width="7.5" height="10" fill="#e0e0e0"/><rect x="78.74" y="154.70" width="7.5" height="10" fill="#e0e0e0"/><rect x="87.35" y="154.70" width="7.5" height="10" fill="#8a3b12"/><rect x="95.96" y="154.70" width="7.5" height="10" fill="#e0e0e0"/><rect x="104.57" y="154.70" width="7.5" height="10" fill="#e0e0e0"/><rect x="113.18" y="154.70" width="7.5" height="10" fill="#e0e0e0"/><rect x="121.79" y="154.70" width="7.5" height="10" fill="#e0e0e0"/><rect x="130.40" y="154.70" width="7.5" height="10" fill="#e0e0e0"/><rect x="139.01" y="154.70" width="7.5" height="10" fill="#e0e0e0"/><rect x="147.62" y="154.70" width="7.5" height="10" fill="#e0e0e0"/><rect x="156.23" y="154.70" width="7.5" height="10" fill="#e0e0e0"/><rect x="164.84" y="154.70" width="7.5" height="10" fill="#e0e0e0"/><rect x="173.45" y="154.70" width="7.5" height="10" fill="#e0e0e0"/><rect x="182.06" y="154.70" width="7.5" height="10" fill="#e0e0e0"/><rect x="190.67" y="154.70" width="7.5" height="10" fill="#e0e0e0"/><rect x="199.28" y="154.70" width="7.5" height="10" fill="#e0e0e0"/><rect x="207.89" y="154.70" width="7.5" height="10" fill="#e0e0e0"/><rect x="216.50" y="154.70" width="7.5" height="10" fill="#e0e0e0"/><rect x="225.11" y="154.70" width="7.5" height="10" fill="#e0e0e0"/><rect x="233.72" y="154.70" width="7.5" height="10" fill="#e0e0e0"/><rect x="242.33" y="154.70" width="7.5" height="10" fill="#e0e0e0"/><rect x="250.94" y="154.70" width="7.5" height="10" fill="#e0e0e0"/><rect x="259.55" y="154.70" width="7.5" height="10" fill="#e0e0e0"/><rect x="268.16" y="154.70" width="7.5" height="10" fill="#e0e0e0"/><rect x="276.77" y="154.70" width="7.5" height="10" fill="#e0e0e0"/><rect x="285.38" y="154.70" width="7.5" height="10" fill="#e0e0e0"/><rect x="293.99" y="154.70" width="7.5" height="10" fill="#e0e0e0"/><rect x="302.60" y="154.70" width="7.5" height="10" fill="#e0e0e0"/><rect x="311.21" y="154.70" width="7.5" height="10" fill="#e0e0e0"/><rect x="319.82" y="154.70" width="7.5" height="10" fill="#e0e0e0"/><rect x="328.43" y="154.70" width="7.5" height="10" fill="#e0e0e0"/><rect x="337.04" y="154.70" width="7.5" height="10" fill="#e0e0e0"/><rect x="345.65" y="154.70" width="7.5" height="10" fill="#e0e0e0"/><rect x="354.26" y="154.70" width="7.5" height="10" fill="#e0e0e0"/><rect x="362.87" y="154.70" width="7.5" height="10" fill="#e0e0e0"/><rect x="371.48" y="154.70" width="7.5" height="10" fill="#e0e0e0"/><rect x="380.09" y="154.70" width="7.5" height="10" fill="#e0e0e0"/><rect x="388.70" y="154.70" width="7.5" height="10" fill="#e0e0e0"/><rect x="397.31" y="154.70" width="7.5" height="10" fill="#e0e0e0"/><rect x="405.92" y="154.70" width="7.5" height="10" fill="#e0e0e0"/><rect x="414.53" y="154.70" width="7.5" height="10" fill="#e0e0e0"/><rect x="423.14" y="154.70" width="7.5" height="10" fill="#e0e0e0"/><rect x="431.75" y="154.70" width="7.5" height="10" fill="#e0e0e0"/><rect x="440.36" y="154.70" width="7.5" height="10" fill="#e0e0e0"/><rect x="448.97" y="154.70" width="7.5" height="10" fill="#e0e0e0"/><rect x="457.58" y="154.70" width="7.5" height="10" fill="#e0e0e0"/><rect x="466.19" y="154.70" width="7.5" height="10" fill="#e0e0e0"/><rect x="474.80" y="154.70" width="7.5" height="10" fill="#e0e0e0"/><rect x="483.41" y="154.70" width="7.5" height="10" fill="#e0e0e0"/><rect x="492.02" y="154.70" width="7.5" height="10" fill="#e0e0e0"/><rect x="500.63" y="154.70" width="7.5" height="10" fill="#e0e0e0"/><rect x="509.24" y="154.70" width="7.5" height="10" fill="#e0e0e0"/><rect x="517.85" y="154.70" width="7.5" height="10" fill="#e0e0e0"/><rect x="526.46" y="154.70" width="7.5" height="10" fill="#e0e0e0"/><rect x="535.07" y="154.70" width="7.5" height="10" fill="#e0e0e0"/><rect x="543.68" y="154.70" width="7.5" height="10" fill="#e0e0e0"/><rect x="552.29" y="154.70" width="7.5" height="10" fill="#e0e0e0"/><rect x="560.90" y="154.70" width="7.5" height="10" fill="#e0e0e0"/><rect x="569.51" y="154.70" width="7.5" height="10" fill="#e0e0e0"/><rect x="578.12" y="154.70" width="7.5" height="10" fill="#e0e0e0"/><rect x="586.73" y="154.70" width="7.5" height="10" fill="#e0e0e0"/><rect x="595.34" y="154.70" width="7.5" height="10" fill="#e0e0e0"/><rect x="603.95" y="154.70" width="7.5" height="10" fill="#e0e0e0"/><rect x="612.56" y="154.70" width="7.5" height="10" fill="#e0e0e0"/><rect x="621.17" y="154.70" width="7.5" height="10" fill="#e0e0e0"/><rect x="629.78" y="154.70" width="7.5" height="10" fill="#e0e0e0"/><rect x="638.39" y="154.70" width="7.5" height="10" fill="#e0e0e0"/><rect x="647.00" y="154.70" width="7.5" height="10" fill="#e0e0e0"/><rect x="655.61" y="154.70" width="7.5" height="10" fill="#e0e0e0"/><rect x="664.22" y="154.70" width="7.5" height="10" fill="#e0e0e0"/><rect x="672.83" y="154.70" width="7.5" height="10" fill="#e0e0e0"/><rect x="681.44" y="154.70" width="7.5" height="10" fill="#e0e0e0"/><rect x="690.05" y="154.70" width="7.5" height="10" fill="#e0e0e0"/><rect x="1.25" y="165.80" width="7.5" height="10" fill="#e0e0e0"/><rect x="9.86" y="165.80" width="7.5" height="10" fill="#e0e0e0"/><rect x="18.47" y="165.80" width="7.5" height="10" fill="#e0e0e0"/><rect x="27.08" y="165.80" width="7.5" height="10" fill="#e0e0e0"/><rect x="35.69" y="165.80" width="7.5" height="10" fill="#e0e0e0"/><rect x="44.30" y="165.80" width="7.5" height="10" fill="#e0e0e0"/><rect x="52.91" y="165.80" width="7.5" height="10" fill="#e0e0e0"/><rect x="61.52" y="165.80" width="7.5" height="10" fill="#e0e0e0"/><rect x="70.13" y="165.80" width="7.5" height="10" fill="#e0e0e0"/><rect x="78.74" y="165.80" width="7.5" height="10" fill="#e0e0e0"/><rect x="87.35" y="165.80" width="7.5" height="10" fill="#e0e0e0"/><rect x="95.96" y="165.80" width="7.5" height="10" fill="#e0e0e0"/><rect x="104.57" y="165.80" width="7.5" height="10" fill="#e0e0e0"/><rect x="113.18" y="165.80" width="7.5" height="10" fill="#e0e0e0"/><rect x="121.79" y="165.80" width="7.5" height="10" fill="#e0e0e0"/><rect x="130.40" y="165.80" width="7.5" height="10" fill="#e0e0e0"/><rect x="139.01" y="165.80" width="7.5" height="10" fill="#e0e0e0"/><rect x="147.62" y="165.80" width="7.5" height="10" fill="#e0e0e0"/><rect x="156.23" y="165.80" width="7.5" height="10" fill="#e0e0e0"/><rect x="164.84" y="165.80" width="7.5" height="10" fill="#e0e0e0"/><rect x="173.45" y="165.80" width="7.5" height="10" fill="#e0e0e0"/><rect x="182.06" y="165.80" width="7.5" height="10" fill="#e0e0e0"/><rect x="190.67" y="165.80" width="7.5" height="10" fill="#e0e0e0"/><rect x="199.28" y="165.80" width="7.5" height="10" fill="#e0e0e0"/><rect x="207.89" y="165.80" width="7.5" height="10" fill="#e0e0e0"/><rect x="216.50" y="165.80" width="7.5" height="10" fill="#e0e0e0"/><rect x="225.11" y="165.80" width="7.5" height="10" fill="#e0e0e0"/><rect x="233.72" y="165.80" width="7.5" height="10" fill="#e0e0e0"/><rect x="242.33" y="165.80" width="7.5" height="10" fill="#e0e0e0"/><rect x="250.94" y="165.80" width="7.5" height="10" fill="#e0e0e0"/><rect x="259.55" y="165.80" width="7.5" height="10" fill="#e0e0e0"/><rect x="268.16" y="165.80" width="7.5" height="10" fill="#e0e0e0"/><rect x="276.77" y="165.80" width="7.5" height="10" fill="#e0e0e0"/><rect x="285.38" y="165.80" width="7.5" height="10" fill="#e0e0e0"/><rect x="293.99" y="165.80" width="7.5" height="10" fill="#e0e0e0"/><rect x="302.60" y="165.80" width="7.5" height="10" fill="#e0e0e0"/><rect x="311.21" y="165.80" width="7.5" height="10" fill="#e0e0e0"/><rect x="319.82" y="165.80" width="7.5" height="10" fill="#e0e0e0"/><rect x="328.43" y="165.80" width="7.5" height="10" fill="#e0e0e0"/><rect x="337.04" y="165.80" width="7.5" height="10" fill="#e0e0e0"/><rect x="345.65" y="165.80" width="7.5" height="10" fill="#e0e0e0"/><rect x="354.26" y="165.80" width="7.5" height="10" fill="#e0e0e0"/><rect x="362.87" y="165.80" width="7.5" height="10" fill="#e0e0e0"/><rect x="371.48" y="165.80" width="7.5" height="10" fill="#e0e0e0"/><rect x="380.09" y="165.80" width="7.5" height="10" fill="#e0e0e0"/><rect x="388.70" y="165.80" width="7.5" height="10" fill="#e0e0e0"/><rect x="397.31" y="165.80" width="7.5" height="10" fill="#e0e0e0"/><rect x="405.92" y="165.80" width="7.5" height="10" fill="#e0e0e0"/><rect x="414.53" y="165.80" width="7.5" height="10" fill="#e0e0e0"/><rect x="423.14" y="165.80" width="7.5" height="10" fill="#e0e0e0"/><rect x="431.75" y="165.80" width="7.5" height="10" fill="#e0e0e0"/><rect x="440.36" y="165.80" width="7.5" height="10" fill="#8a3b12"/><rect x="448.97" y="165.80" width="7.5" height="10" fill="#e0e0e0"/><rect x="457.58" y="165.80" width="7.5" height="10" fill="#e0e0e0"/><rect x="466.19" y="165.80" width="7.5" height="10" fill="#e0e0e0"/><rect x="474.80" y="165.80" width="7.5" height="10" fill="#8a3b12"/><rect x="483.41" y="165.80" width="7.5" height="10" fill="#e0e0e0"/><rect x="492.02" y="165.80" width="7.5" height="10" fill="#8a3b12"/><rect x="500.63" y="165.80" width="7.5" height="10" fill="#e0e0e0"/><rect x="509.24" y="165.80" width="7.5" height="10" fill="#e0e0e0"/><rect x="517.85" y="165.80" width="7.5" height="10" fill="#e0e0e0"/><rect x="526.46" y="165.80" width="7.5" height="10" fill="#e0e0e0"/><rect x="535.07" y="165.80" width="7.5" height="10" fill="#e0e0e0"/><rect x="543.68" y="165.80" width="7.5" height="10" fill="#e0e0e0"/><rect x="552.29" y="165.80" width="7.5" height="10" fill="#e0e0e0"/><rect x="560.90" y="165.80" width="7.5" height="10" fill="#e0e0e0"/><rect x="569.51" y="165.80" width="7.5" height="10" fill="#e0e0e0"/><rect x="578.12" y="165.80" width="7.5" height="10" fill="#e0e0e0"/><rect x="586.73" y="165.80" width="7.5" height="10" fill="#e0e0e0"/><rect x="595.34" y="165.80" width="7.5" height="10" fill="#e0e0e0"/><rect x="603.95" y="165.80" width="7.5" height="10" fill="#e0e0e0"/><rect x="612.56" y="165.80" width="7.5" height="10" fill="#e0e0e0"/><rect x="621.17" y="165.80" width="7.5" height="10" fill="#e0e0e0"/><rect x="629.78" y="165.80" width="7.5" height="10" fill="#e0e0e0"/><rect x="638.39" y="165.80" width="7.5" height="10" fill="#e0e0e0"/><rect x="647.00" y="165.80" width="7.5" height="10" fill="#e0e0e0"/><rect x="655.61" y="165.80" width="7.5" height="10" fill="#e0e0e0"/><rect x="664.22" y="165.80" width="7.5" height="10" fill="#e0e0e0"/><rect x="672.83" y="165.80" width="7.5" height="10" fill="#e0e0e0"/><rect x="681.44" y="165.80" width="7.5" height="10" fill="#e0e0e0"/><rect x="690.05" y="165.80" width="7.5" height="10" fill="#e0e0e0"/><rect x="1.25" y="176.90" width="7.5" height="10" fill="#e0e0e0"/><rect x="9.86" y="176.90" width="7.5" height="10" fill="#e0e0e0"/><rect x="18.47" y="176.90" width="7.5" height="10" fill="#e0e0e0"/><rect x="27.08" y="176.90" width="7.5" height="10" fill="#e0e0e0"/><rect x="35.69" y="176.90" width="7.5" height="10" fill="#e0e0e0"/><rect x="44.30" y="176.90" width="7.5" height="10" fill="#e0e0e0"/><rect x="52.91" y="176.90" width="7.5" height="10" fill="#e0e0e0"/><rect x="61.52" y="176.90" width="7.5" height="10" fill="#e0e0e0"/><rect x="70.13" y="176.90" width="7.5" height="10" fill="#e0e0e0"/><rect x="78.74" y="176.90" width="7.5" height="10" fill="#e0e0e0"/><rect x="87.35" y="176.90" width="7.5" height="10" fill="#e0e0e0"/><rect x="95.96" y="176.90" width="7.5" height="10" fill="#e0e0e0"/><rect x="104.57" y="176.90" width="7.5" height="10" fill="#e0e0e0"/><rect x="113.18" y="176.90" width="7.5" height="10" fill="#e0e0e0"/><rect x="121.79" y="176.90" width="7.5" height="10" fill="#e0e0e0"/><rect x="130.40" y="176.90" width="7.5" height="10" fill="#e0e0e0"/><rect x="139.01" y="176.90" width="7.5" height="10" fill="#e0e0e0"/><rect x="147.62" y="176.90" width="7.5" height="10" fill="#1f6eb5"/><rect x="156.23" y="176.90" width="7.5" height="10" fill="#e0e0e0"/><rect x="164.84" y="176.90" width="7.5" height="10" fill="#e0e0e0"/><rect x="173.45" y="176.90" width="7.5" height="10" fill="#e0e0e0"/><rect x="182.06" y="176.90" width="7.5" height="10" fill="#e0e0e0"/><rect x="190.67" y="176.90" width="7.5" height="10" fill="#e0e0e0"/><rect x="199.28" y="176.90" width="7.5" height="10" fill="#e0e0e0"/><rect x="207.89" y="176.90" width="7.5" height="10" fill="#e0e0e0"/><rect x="216.50" y="176.90" width="7.5" height="10" fill="#e0e0e0"/><rect x="225.11" y="176.90" width="7.5" height="10" fill="#e0e0e0"/><rect x="233.72" y="176.90" width="7.5" height="10" fill="#e0e0e0"/><rect x="242.33" y="176.90" width="7.5" height="10" fill="#e0e0e0"/><rect x="250.94" y="176.90" width="7.5" height="10" fill="#e0e0e0"/><rect x="259.55" y="176.90" width="7.5" height="10" fill="#e0e0e0"/><rect x="268.16" y="176.90" width="7.5" height="10" fill="#e0e0e0"/><rect x="276.77" y="176.90" width="7.5" height="10" fill="#e0e0e0"/><rect x="285.38" y="176.90" width="7.5" height="10" fill="#e0e0e0"/><rect x="293.99" y="176.90" width="7.5" height="10" fill="#e0e0e0"/><rect x="302.60" y="176.90" width="7.5" height="10" fill="#e0e0e0"/><rect x="311.21" y="176.90" width="7.5" height="10" fill="#e0e0e0"/><rect x="319.82" y="176.90" width="7.5" height="10" fill="#e0e0e0"/><rect x="328.43" y="176.90" width="7.5" height="10" fill="#e0e0e0"/><rect x="337.04" y="176.90" width="7.5" height="10" fill="#e0e0e0"/><rect x="345.65" y="176.90" width="7.5" height="10" fill="#e0e0e0"/><rect x="354.26" y="176.90" width="7.5" height="10" fill="#e0e0e0"/><rect x="362.87" y="176.90" width="7.5" height="10" fill="#e0e0e0"/><rect x="371.48" y="176.90" width="7.5" height="10" fill="#e0e0e0"/><rect x="380.09" y="176.90" width="7.5" height="10" fill="#e0e0e0"/><rect x="388.70" y="176.90" width="7.5" height="10" fill="#e0e0e0"/><rect x="397.31" y="176.90" width="7.5" height="10" fill="#e0e0e0"/><rect x="405.92" y="176.90" width="7.5" height="10" fill="#e0e0e0"/><rect x="414.53" y="176.90" width="7.5" height="10" fill="#e0e0e0"/><rect x="423.14" y="176.90" width="7.5" height="10" fill="#e0e0e0"/><rect x="431.75" y="176.90" width="7.5" height="10" fill="#e0e0e0"/><rect x="440.36" y="176.90" width="7.5" height="10" fill="#e0e0e0"/><rect x="448.97" y="176.90" width="7.5" height="10" fill="#e0e0e0"/><rect x="457.58" y="176.90" width="7.5" height="10" fill="#e0e0e0"/><rect x="466.19" y="176.90" width="7.5" height="10" fill="#e0e0e0"/><rect x="474.80" y="176.90" width="7.5" height="10" fill="#e0e0e0"/><rect x="483.41" y="176.90" width="7.5" height="10" fill="#e0e0e0"/><rect x="492.02" y="176.90" width="7.5" height="10" fill="#e0e0e0"/><rect x="500.63" y="176.90" width="7.5" height="10" fill="#e0e0e0"/><rect x="509.24" y="176.90" width="7.5" height="10" fill="#e0e0e0"/><rect x="517.85" y="176.90" width="7.5" height="10" fill="#e0e0e0"/><rect x="526.46" y="176.90" width="7.5" height="10" fill="#e0e0e0"/><rect x="535.07" y="176.90" width="7.5" height="10" fill="#e0e0e0"/><rect x="543.68" y="176.90" width="7.5" height="10" fill="#e0e0e0"/><rect x="552.29" y="176.90" width="7.5" height="10" fill="#e0e0e0"/><rect x="560.90" y="176.90" width="7.5" height="10" fill="#e0e0e0"/><rect x="569.51" y="176.90" width="7.5" height="10" fill="#e0e0e0"/><rect x="578.12" y="176.90" width="7.5" height="10" fill="#e0e0e0"/><rect x="586.73" y="176.90" width="7.5" height="10" fill="#e0e0e0"/><rect x="595.34" y="176.90" width="7.5" height="10" fill="#e0e0e0"/><rect x="603.95" y="176.90" width="7.5" height="10" fill="#e0e0e0"/><rect x="612.56" y="176.90" width="7.5" height="10" fill="#e0e0e0"/><rect x="621.17" y="176.90" width="7.5" height="10" fill="#e0e0e0"/><rect x="629.78" y="176.90" width="7.5" height="10" fill="#e0e0e0"/><rect x="638.39" y="176.90" width="7.5" height="10" fill="#e0e0e0"/><rect x="647.00" y="176.90" width="7.5" height="10" fill="#e0e0e0"/><rect x="655.61" y="176.90" width="7.5" height="10" fill="#e0e0e0"/><rect x="664.22" y="176.90" width="7.5" height="10" fill="#e0e0e0"/><rect x="672.83" y="176.90" width="7.5" height="10" fill="#e0e0e0"/><rect x="681.44" y="176.90" width="7.5" height="10" fill="#e0e0e0"/><rect x="690.05" y="176.90" width="7.5" height="10" fill="#e0e0e0"/><path d="M0.6 98.3V94.6H698.2V98.3" fill="none" stroke="#333" stroke-width="1"/><rect x="1" y="29.4" width="699" height="1.4" fill="#1a1a1a"/><rect x="79.2" y="1.3" width="7" height="10.5" fill="#3aa8e0"/><rect x="139" y="1.3" width="7" height="10.5" fill="#e3111b"/><rect x="79.2" y="17" width="7" height="10.5" fill="#8a3b12"/><rect x="139" y="17" width="7" height="10.5" fill="#0ea243"/><rect x="199" y="17" width="7" height="10.5" fill="#b83f97"/><rect x="260" y="17" width="7" height="10.5" fill="#1f6eb5"/><rect x="431.5" y="1.3" width="7" height="10.5" fill="#a2a2a2"/><rect x="594.9" y="1.3" width="7" height="10.5" fill="#050505"/><rect x="431.5" y="17" width="7" height="10.5" fill="#6a2c8a"/><rect x="508.8" y="17" width="7" height="10.5" fill="#fdd564"/><rect x="594.9" y="17" width="7" height="10.5" fill="#e77626"/><defs><linearGradient id="cb" x1="0" x2="1" y1="0" y2="0"><stop offset="0" stop-color="#3ab13a"/><stop offset="0.25" stop-color="#1f7a33"/><stop offset="0.5" stop-color="#0a0a0a"/><stop offset="0.75" stop-color="#7e1616"/><stop offset="1" stop-color="#ea0f1a"/></linearGradient></defs><rect x="513.2" y="196.3" width="184.6" height="8.4" fill="url(#cb)" stroke="#3a3a3a" stroke-width="0.8"/><path d="M698 279.6H701.7V307.2H698" fill="none" stroke="#333" stroke-width="1"/><path d="M698 308.4H701.7V367.6H698" fill="none" stroke="#333" stroke-width="1"/><path d="M698 369.2H701.7V458.4H698" fill="none" stroke="#333" stroke-width="1"/><path d="M698 459.8H701.7V473.8H698" fill="none" stroke="#333" stroke-width="1"/><path d="M336.4 489.2H688.7V641.3H336.4Z M430.6 489.2V641.3" fill="none" stroke="#111" stroke-width="1.2"/><path d="M336.4 504.4H688.7" stroke="#111" stroke-width="1.2"/><path d="M430.6 519H688.7" stroke="#111" stroke-width="1.2"/><path d="M430.6 534.7H688.7" stroke="#111" stroke-width="1.2"/><path d="M336.4 550H688.7" stroke="#111" stroke-width="1.2"/><path d="M430.6 564.9H688.7" stroke="#111" stroke-width="1.2"/><path d="M430.6 580.3H688.7" stroke="#111" stroke-width="1.2"/><path d="M336.4 595.2H688.7" stroke="#111" stroke-width="1.2"/><path d="M430.6 610.7H688.7" stroke="#111" stroke-width="1.2"/><path d="M430.6 625.9H688.7" stroke="#111" stroke-width="1.2"/><rect x="76" y="506" width="139.3" height="1" fill="#222"/><rect x="78.6" y="556" width="136.7" height="1" fill="#222"/><rect x="0" y="250.9" width="698" height="1.1" fill="#b0b0b0"/><path d="M5.3 251.3V213.6M13.9 251.3V213.6M5.3 213.6H13.9M57.1 251.3V227.3M65.7 251.3V227.3M57.1 227.3H65.7M61.4 227.3V226.0M74.3 251.3V226.0M61.4 226.0H74.3M134.7 251.3V236.9M143.3 251.3V236.9M134.7 236.9H143.3M152.0 251.3V236.0M160.6 251.3V236.0M152.0 236.0H160.6M139.0 236.9V236.0M156.3 236.0V236.0M139.0 236.0H156.3M126.1 251.3V236.0M147.6 236.0V236.0M126.1 236.0H147.6M117.5 251.3V236.0M143.3 236.0V236.0M117.5 236.0H143.3M108.8 251.3V234.5M139.0 236.0V234.5M108.8 234.5H139.0M169.2 251.3V234.3M177.8 251.3V234.3M169.2 234.3H177.8M134.7 234.5V234.3M173.5 234.3V234.3M134.7 234.3H173.5M143.3 234.3V232.5M186.5 251.3V232.5M143.3 232.5H186.5M147.6 232.5V230.6M195.1 251.3V230.6M147.6 230.6H195.1M221.0 251.3V232.5M229.6 251.3V232.5M221.0 232.5H229.6M225.3 232.5V231.7M238.2 251.3V231.7M225.3 231.7H238.2M212.3 251.3V230.2M229.6 231.7V230.2M212.3 230.2H229.6M203.7 251.3V230.2M225.3 230.2V230.2M203.7 230.2H225.3M152.0 230.6V230.2M221.0 230.2V230.2M152.0 230.2H221.0M255.5 251.3V231.4M264.1 251.3V231.4M255.5 231.4H264.1M246.9 251.3V229.0M259.8 231.4V229.0M246.9 229.0H259.8M173.5 230.2V229.0M255.5 229.0V229.0M173.5 229.0H255.5M100.2 251.3V229.0M186.5 229.0V229.0M100.2 229.0H186.5M272.7 251.3V228.4M281.4 251.3V228.4M272.7 228.4H281.4M182.2 229.0V228.4M277.1 228.4V228.4M182.2 228.4H277.1M91.6 251.3V228.2M190.8 228.4V228.2M91.6 228.2H190.8M82.9 251.3V224.5M186.5 228.2V224.5M82.9 224.5H186.5M65.7 226.0V224.0M182.2 224.5V224.0M65.7 224.0H182.2M48.4 251.3V223.4M169.2 224.0V223.4M48.4 223.4H169.2M39.8 251.3V219.9M164.9 223.4V219.9M39.8 219.9H164.9M31.2 251.3V219.4M160.6 219.9V219.4M31.2 219.4H160.6M22.6 251.3V217.5M156.3 219.4V217.5M22.6 217.5H156.3M9.6 213.6V210.6M152.0 217.5V210.6M9.6 210.6H152.0M333.1 251.3V236.7M341.8 251.3V236.7M333.1 236.7H341.8M324.5 251.3V235.2M337.4 236.7V235.2M324.5 235.2H337.4M315.9 251.3V232.3M333.1 235.2V232.3M315.9 232.3H333.1M307.2 251.3V232.3M328.8 232.3V232.3M307.2 232.3H328.8M384.9 251.3V236.4M393.5 251.3V236.4M384.9 236.4H393.5M402.1 251.3V233.7M410.8 251.3V233.7M402.1 233.7H410.8M389.2 236.4V233.7M406.5 233.7V233.7M389.2 233.7H406.5M376.3 251.3V233.1M397.8 233.7V233.1M376.3 233.1H397.8M367.6 251.3V232.9M393.5 233.1V232.9M367.6 232.9H393.5M359.0 251.3V232.9M389.2 232.9V232.9M359.0 232.9H389.2M384.9 232.9V232.2M419.4 251.3V232.2M384.9 232.2H419.4M350.4 251.3V231.7M389.2 232.2V231.7M350.4 231.7H389.2M324.5 232.3V231.7M384.9 231.7V231.7M324.5 231.7H384.9M471.2 251.3V236.7M479.8 251.3V236.7M471.2 236.7H479.8M462.5 251.3V234.5M475.5 236.7V234.5M462.5 234.5H475.5M453.9 251.3V234.5M471.2 234.5V234.5M453.9 234.5H471.2M522.9 251.3V236.7M531.5 251.3V236.7M522.9 236.7H531.5M527.2 236.7V235.7M540.2 251.3V235.7M527.2 235.7H540.2M514.3 251.3V235.5M531.5 235.7V235.5M514.3 235.5H531.5M505.7 251.3V235.5M527.2 235.5V235.5M505.7 235.5H527.2M497.0 251.3V235.5M522.9 235.5V235.5M497.0 235.5H522.9M488.4 251.3V233.7M518.6 235.5V233.7M488.4 233.7H518.6M466.8 234.5V233.7M514.3 233.7V233.7M466.8 233.7H514.3M445.3 251.3V232.3M497.0 233.7V232.3M445.3 232.3H497.0M436.7 251.3V232.3M492.7 232.3V232.3M436.7 232.3H492.7M617.8 251.3V240.1M626.4 251.3V240.1M617.8 240.1H626.4M609.2 251.3V240.1M622.1 240.1V240.1M609.2 240.1H622.1M600.6 251.3V238.2M617.8 240.1V238.2M600.6 238.2H617.8M591.9 251.3V238.2M613.5 238.2V238.2M591.9 238.2H613.5M661.0 251.3V241.5M669.6 251.3V241.5M661.0 241.5H669.6M652.3 251.3V239.4M665.3 241.5V239.4M652.3 239.4H665.3M643.7 251.3V239.4M661.0 239.4V239.4M643.7 239.4H661.0M656.6 239.4V238.2M678.2 251.3V238.2M656.6 238.2H678.2M635.1 251.3V237.7M661.0 238.2V237.7M635.1 237.7H661.0M609.2 238.2V237.7M656.6 237.7V237.7M609.2 237.7H656.6M583.3 251.3V237.6M635.1 237.7V237.6M583.3 237.6H635.1M574.7 251.3V235.7M630.8 237.6V235.7M574.7 235.7H630.8M566.1 251.3V234.3M626.4 235.7V234.3M566.1 234.3H626.4M557.4 251.3V233.7M622.1 234.3V233.7M557.4 233.7H622.1M548.8 251.3V230.8M617.8 233.7V230.8M548.8 230.8H617.8M488.4 232.3V230.8M613.5 230.8V230.8M488.4 230.8H613.5M428.0 251.3V228.4M557.4 230.8V228.4M428.0 228.4H557.4M363.3 231.7V228.4M553.1 228.4V228.4M363.3 228.4H553.1M492.7 228.4V227.5M686.8 251.3V227.5M492.7 227.5H686.8M298.6 251.3V226.7M497.0 227.5V226.7M298.6 226.7H497.0M290.0 251.3V226.7M492.7 226.7V226.7M290.0 226.7H492.7M488.4 226.7V224.1M695.5 251.3V224.1M488.4 224.1H695.5M143.3 210.6V209.8M492.7 224.1V209.8M143.3 209.8H492.7" fill="none" stroke="#9c9c9c" stroke-width="0.85"/>
<text x="3.00" y="9.8" font-size="8.9" font-weight="bold" font-style="normal" fill="#111" textLength="12.00" lengthAdjust="spacingAndGlyphs">Sex</text><text x="2.90" y="25.3" font-size="8.9" font-weight="bold" font-style="normal" fill="#111" textLength="56.42" lengthAdjust="spacingAndGlyphs">Gene alteration</text><text x="88.80" y="9.2" font-size="7.2" font-weight="normal" font-style="normal" fill="#111">Male</text><text x="148.60" y="9.2" font-size="7.2" font-weight="normal" font-style="normal" fill="#111">Female</text><text x="88.80" y="24.8" font-size="7.2" font-weight="normal" font-style="normal" fill="#111">Missense</text><text x="148.60" y="24.8" font-size="7.2" font-weight="normal" font-style="normal" fill="#111">Nonsense</text><text x="208.60" y="24.8" font-size="7.2" font-weight="normal" font-style="normal" fill="#111">Frameshift</text><text x="269.60" y="24.8" font-size="7.2" font-weight="normal" font-style="normal" fill="#111">Others</text><text x="347.30" y="9.7" font-size="8.9" font-weight="bold" font-style="normal" fill="#111" textLength="70.72" lengthAdjust="spacingAndGlyphs">Hürthle cell change</text><text x="347.30" y="25.2" font-size="8.9" font-weight="bold" font-style="normal" fill="#111" textLength="53.70" lengthAdjust="spacingAndGlyphs">Histologic type</text><text x="441.40" y="9.2" font-size="7.27" font-weight="normal" font-style="normal" fill="#111">With Hürthle cell change (&lt; 75%)</text><text x="604.40" y="9.2" font-size="7.27" font-weight="normal" font-style="normal" fill="#111">Without Hürthle cell change</text><text x="441.40" y="24.8" font-size="7.27" font-weight="normal" font-style="normal" fill="#111">Widely invasive</text><text x="518.40" y="24.8" font-size="7.27" font-weight="normal" font-style="normal" fill="#111">Minimally invasive</text><text x="604.40" y="24.8" font-size="7.27" font-weight="normal" font-style="normal" fill="#111">Encapsulated angioinvasive</text><text x="702.00" y="50.2" font-size="8.4" font-weight="normal" font-style="normal" fill="#222">Sex</text><text x="702.00" y="60.9" font-size="8.4" font-weight="normal" font-style="normal" fill="#222">Hürthle cell change</text><text x="702.00" y="71.4" font-size="8.4" font-weight="normal" font-style="normal" fill="#222">Histologic type</text><text x="317.70" y="91.1" font-size="10.1" font-weight="bold" font-style="normal" fill="#111" textLength="64.22" lengthAdjust="spacingAndGlyphs">Gene alteration</text><text x="702.20" y="107.8" font-size="8.6" font-weight="normal" font-style="normal" fill="#222"><tspan font-style="italic">NRAS</tspan></text><text x="702.20" y="118.89999999999999" font-size="8.6" font-weight="normal" font-style="normal" fill="#222"><tspan font-style="italic">TERT</tspan><tspan dx="1">p</tspan></text><text x="702.20" y="130.0" font-size="8.6" font-weight="normal" font-style="normal" fill="#222"><tspan font-style="italic">HRAS</tspan></text><text x="702.20" y="141.1" font-size="8.6" font-weight="normal" font-style="normal" fill="#222"><tspan font-style="italic">KRAS</tspan></text><text x="702.20" y="152.2" font-size="8.6" font-weight="normal" font-style="normal" fill="#222"><tspan font-style="italic">PTEN</tspan></text><text x="702.20" y="163.3" font-size="8.6" font-weight="normal" font-style="normal" fill="#222"><tspan font-style="italic">BRAF</tspan></text><text x="702.20" y="174.39999999999998" font-size="8.6" font-weight="normal" font-style="normal" fill="#222"><tspan font-style="italic">TSHR</tspan></text><text x="702.20" y="185.5" font-size="8.6" font-weight="normal" font-style="normal" fill="#222"><tspan font-style="italic">PPARG</tspan><tspan dx="1.2">&#160;Fusion</tspan></text><text x="476.25" y="202.9" font-size="10.1" font-weight="normal" font-style="normal" fill="#222" textLength="32.56" lengthAdjust="spacingAndGlyphs">row min</text><text x="702.20" y="202.9" font-size="10.1" font-weight="normal" font-style="normal" fill="#222" textLength="33.82" lengthAdjust="spacingAndGlyphs">row max</text><text x="706.50" y="293.6" font-size="9" font-weight="normal" font-style="normal" fill="#222">umhl</text><text x="706.50" y="340.2" font-size="9" font-weight="normal" font-style="normal" fill="#222">pdr</text><text x="706.50" y="415.9" font-size="9" font-weight="normal" font-style="normal" fill="#222">mhl3</text><text x="706.50" y="469.7" font-size="9" font-weight="normal" font-style="normal" fill="#222">mhl</text><text x="30.50" y="512.6" font-size="14.2" font-weight="normal" font-style="normal" fill="#1a1a1a" textLength="36.29" lengthAdjust="spacingAndGlyphs">PDR =</text><text x="78.10" y="504.4" font-size="14.2" font-weight="normal" font-style="normal" fill="#1a1a1a" textLength="124.21" lengthAdjust="spacingAndGlyphs">No. of discordant reads</text><text x="91.60" y="519.6" font-size="14.2" font-weight="normal" font-style="normal" fill="#1a1a1a" textLength="92.98" lengthAdjust="spacingAndGlyphs">Total no. of reads</text><text x="30.40" y="561.9" font-size="14.2" font-weight="normal" font-style="normal" fill="#1a1a1a" textLength="39.09" lengthAdjust="spacingAndGlyphs">MHL =</text><text x="338.80" y="500.2" font-size="10.1" font-weight="normal" font-style="normal" fill="#111" textLength="75.00" lengthAdjust="spacingAndGlyphs">pdr-based markers:</text><text x="433.00" y="500.2" font-size="10.1" font-weight="normal" font-style="normal" fill="#111" textLength="42.45" lengthAdjust="spacingAndGlyphs">pdr = PDR</text><text x="338.80" y="531.0" font-size="10.1" font-weight="normal" font-style="normal" fill="#111" textLength="77.37" lengthAdjust="spacingAndGlyphs">mhl-based markers:</text><text x="433.00" y="516.1999999999999" font-size="10.1" font-weight="normal" font-style="normal" fill="#111" textLength="107.33" lengthAdjust="spacingAndGlyphs">l = the length of haplotypes</text><text x="433.00" y="531.4" font-size="10.1" font-weight="normal" font-style="normal" fill="#111" textLength="229.80" lengthAdjust="spacingAndGlyphs">P(MHi) = the fraction of fully methylated CpGs with i loci</text><text x="433.00" y="547.4" font-size="10.1" font-weight="normal" font-style="normal" fill="#111">w<tspan font-size="6.2" dy="1.6">i</tspan><tspan dy="-1.6"> = i</tspan></text><text x="338.80" y="576.6" font-size="10.1" font-weight="normal" font-style="normal" fill="#111" textLength="82.26" lengthAdjust="spacingAndGlyphs">umhl-based markers:</text><text x="433.00" y="561.8" font-size="10.1" font-weight="normal" font-style="normal" fill="#111" textLength="107.33" lengthAdjust="spacingAndGlyphs">l = the length of haplotypes</text><text x="433.00" y="577.0" font-size="10.1" font-weight="normal" font-style="normal" fill="#111" textLength="239.57" lengthAdjust="spacingAndGlyphs">P(MHi) = the fraction of fully unmethylated CpGs with i loci</text><text x="433.00" y="593.0" font-size="10.1" font-weight="normal" font-style="normal" fill="#111">w<tspan font-size="6.2" dy="1.6">i</tspan><tspan dy="-1.6"> = i</tspan></text><text x="338.80" y="621.8000000000001" font-size="10.1" font-weight="normal" font-style="normal" fill="#111" textLength="82.26" lengthAdjust="spacingAndGlyphs">mhl3-based markers:</text><text x="433.00" y="607.0" font-size="10.1" font-weight="normal" font-style="normal" fill="#111" textLength="107.33" lengthAdjust="spacingAndGlyphs">l = the length of haplotypes</text><text x="433.00" y="622.2" font-size="10.1" font-weight="normal" font-style="normal" fill="#111" textLength="229.80" lengthAdjust="spacingAndGlyphs">P(MHi) = the fraction of fully methylated CpGs with i loci</text><text x="433.00" y="638.2" font-size="10.1" font-weight="normal" font-style="normal" fill="#111">w<tspan font-size="6.2" dy="1.6">i</tspan><tspan dy="-1.6"> = i</tspan><tspan font-size="7" dy="-4.6">3</tspan></text><text transform="translate(8.10 275.9) rotate(-90)" font-size="7.4" font-weight="bold" fill="#e3111b">FTC1</text><text transform="translate(16.71 275.9) rotate(-90)" font-size="7.4" font-weight="bold" fill="#e3111b">FTC2</text><text transform="translate(25.32 275.9) rotate(-90)" font-size="7.4" font-weight="bold" fill="#e3111b">FTC3</text><text transform="translate(33.93 275.9) rotate(-90)" font-size="7.4" font-weight="bold" fill="#e3111b">FTC4</text><text transform="translate(42.54 275.9) rotate(-90)" font-size="7.4" font-weight="bold" fill="#e3111b">FTC5</text><text transform="translate(51.15 275.9) rotate(-90)" font-size="7.4" font-weight="bold" fill="#e3111b">FTC6</text><text transform="translate(59.76 275.9) rotate(-90)" font-size="7.4" font-weight="bold" fill="#e3111b">FTC7</text><text transform="translate(68.37 275.9) rotate(-90)" font-size="7.4" font-weight="bold" fill="#e3111b">FTC8</text><text transform="translate(76.98 275.9) rotate(-90)" font-size="7.4" font-weight="bold" fill="#e3111b">FTC9</text><text transform="translate(85.59 275.9) rotate(-90)" font-size="7.4" font-weight="bold" fill="#e3111b">FTC10</text><text transform="translate(94.20 275.9) rotate(-90)" font-size="7.4" font-weight="bold" fill="#e3111b">FTC11</text><text transform="translate(102.81 275.9) rotate(-90)" font-size="7.4" font-weight="bold" fill="#e3111b">FTC12</text><text transform="translate(111.42 275.9) rotate(-90)" font-size="7.4" font-weight="bold" fill="#e3111b">FTC13</text><text transform="translate(120.03 275.9) rotate(-90)" font-size="7.4" font-weight="bold" fill="#e3111b">FTC14</text><text transform="translate(128.64 275.9) rotate(-90)" font-size="7.4" font-weight="bold" fill="#e3111b">FTC15</text><text transform="translate(137.25 275.9) rotate(-90)" font-size="7.4" font-weight="bold" fill="#e3111b">FTC16</text><text transform="translate(145.86 275.9) rotate(-90)" font-size="7.4" font-weight="bold" fill="#e3111b">FTC17</text><text transform="translate(154.47 275.9) rotate(-90)" font-size="7.4" font-weight="bold" fill="#e3111b">FTC18</text><text transform="translate(163.08 275.9) rotate(-90)" font-size="7.4" font-weight="bold" fill="#e3111b">FTC19</text><text transform="translate(171.69 275.9) rotate(-90)" font-size="7.4" font-weight="bold" fill="#e3111b">FTC20</text><text transform="translate(180.30 275.9) rotate(-90)" font-size="7.4" font-weight="bold" fill="#e3111b">FTC21</text><text transform="translate(188.91 275.9) rotate(-90)" font-size="7.4" font-weight="bold" fill="#e3111b">FTC22</text><text transform="translate(197.52 275.9) rotate(-90)" font-size="7.4" font-weight="bold" fill="#e3111b">FTC23</text><text transform="translate(206.13 275.9) rotate(-90)" font-size="7.4" font-weight="bold" fill="#e3111b">FTC24</text><text transform="translate(214.74 275.9) rotate(-90)" font-size="7.4" font-weight="bold" fill="#e3111b">FTC25</text><text transform="translate(223.35 275.9) rotate(-90)" font-size="7.4" font-weight="bold" fill="#e3111b">FTC26</text><text transform="translate(231.96 275.9) rotate(-90)" font-size="7.4" font-weight="bold" fill="#e3111b">FTC27</text><text transform="translate(240.57 275.9) rotate(-90)" font-size="7.4" font-weight="bold" fill="#e3111b">FTC28</text><text transform="translate(249.18 275.9) rotate(-90)" font-size="7.4" font-weight="bold" fill="#e3111b">FTC29</text><text transform="translate(257.79 275.9) rotate(-90)" font-size="7.4" font-weight="bold" fill="#e3111b">FTC30</text><text transform="translate(266.40 275.9) rotate(-90)" font-size="7.4" font-weight="bold" fill="#e3111b">FTC31</text><text transform="translate(275.01 275.9) rotate(-90)" font-size="7.4" font-weight="bold" fill="#e3111b">FTC32</text><text transform="translate(283.62 275.9) rotate(-90)" font-size="7.4" font-weight="bold" fill="#e3111b">FTC33</text><text transform="translate(292.23 275.9) rotate(-90)" font-size="7.4" font-weight="bold" fill="#1e9e3e">FA1</text><text transform="translate(300.84 275.9) rotate(-90)" font-size="7.4" font-weight="bold" fill="#1e9e3e">FA2</text><text transform="translate(309.45 275.9) rotate(-90)" font-size="7.4" font-weight="bold" fill="#1e9e3e">FA3</text><text transform="translate(318.06 275.9) rotate(-90)" font-size="7.4" font-weight="bold" fill="#1e9e3e">FA4</text><text transform="translate(326.67 275.9) rotate(-90)" font-size="7.4" font-weight="bold" fill="#1e9e3e">FA5</text><text transform="translate(335.28 275.9) rotate(-90)" font-size="7.4" font-weight="bold" fill="#1e9e3e">FA6</text><text transform="translate(343.89 275.9) rotate(-90)" font-size="7.4" font-weight="bold" fill="#1e9e3e">FA7</text><text transform="translate(352.50 275.9) rotate(-90)" font-size="7.4" font-weight="bold" fill="#1e9e3e">FA8</text><text transform="translate(361.11 275.9) rotate(-90)" font-size="7.4" font-weight="bold" fill="#1e9e3e">FA9</text><text transform="translate(369.72 275.9) rotate(-90)" font-size="7.4" font-weight="bold" fill="#1e9e3e">FA10</text><text transform="translate(378.33 275.9) rotate(-90)" font-size="7.4" font-weight="bold" fill="#1e9e3e">FA11</text><text transform="translate(386.94 275.9) rotate(-90)" font-size="7.4" font-weight="bold" fill="#1e9e3e">FA12</text><text transform="translate(395.55 275.9) rotate(-90)" font-size="7.4" font-weight="bold" fill="#1e9e3e">FA13</text><text transform="translate(404.16 275.9) rotate(-90)" font-size="7.4" font-weight="bold" fill="#1e9e3e">FA14</text><text transform="translate(412.77 275.9) rotate(-90)" font-size="7.4" font-weight="bold" fill="#1e9e3e">FA15</text><text transform="translate(421.38 275.9) rotate(-90)" font-size="7.4" font-weight="bold" fill="#1e9e3e">FA16</text><text transform="translate(429.99 275.9) rotate(-90)" font-size="7.4" font-weight="bold" fill="#1e9e3e">FA17</text><text transform="translate(438.60 275.9) rotate(-90)" font-size="7.4" font-weight="bold" fill="#1e9e3e">FA18</text><text transform="translate(447.21 275.9) rotate(-90)" font-size="7.4" font-weight="bold" fill="#1e9e3e">FA19</text><text transform="translate(455.82 275.9) rotate(-90)" font-size="7.4" font-weight="bold" fill="#1e9e3e">FA20</text><text transform="translate(464.43 275.9) rotate(-90)" font-size="7.4" font-weight="bold" fill="#1e9e3e">FA21</text><text transform="translate(473.04 275.9) rotate(-90)" font-size="7.4" font-weight="bold" fill="#1e9e3e">FA22</text><text transform="translate(481.65 275.9) rotate(-90)" font-size="7.4" font-weight="bold" fill="#1e9e3e">FA23</text><text transform="translate(490.26 275.9) rotate(-90)" font-size="7.4" font-weight="bold" fill="#1e9e3e">FA24</text><text transform="translate(498.87 275.9) rotate(-90)" font-size="7.4" font-weight="bold" fill="#1e9e3e">FA25</text><text transform="translate(507.48 275.9) rotate(-90)" font-size="7.4" font-weight="bold" fill="#1e9e3e">FA26</text><text transform="translate(516.09 275.9) rotate(-90)" font-size="7.4" font-weight="bold" fill="#1e9e3e">FA27</text><text transform="translate(524.70 275.9) rotate(-90)" font-size="7.4" font-weight="bold" fill="#1e9e3e">FA28</text><text transform="translate(533.31 275.9) rotate(-90)" font-size="7.4" font-weight="bold" fill="#1e9e3e">FA29</text><text transform="translate(541.92 275.9) rotate(-90)" font-size="7.4" font-weight="bold" fill="#1e9e3e">FA30</text><text transform="translate(550.53 275.9) rotate(-90)" font-size="7.4" font-weight="bold" fill="#111">N1</text><text transform="translate(559.14 275.9) rotate(-90)" font-size="7.4" font-weight="bold" fill="#111">N2</text><text transform="translate(567.75 275.9) rotate(-90)" font-size="7.4" font-weight="bold" fill="#1e9e3e">FA31</text><text transform="translate(576.36 275.9) rotate(-90)" font-size="7.4" font-weight="bold" fill="#1e9e3e">FA32</text><text transform="translate(584.97 275.9) rotate(-90)" font-size="7.4" font-weight="bold" fill="#111">N3</text><text transform="translate(593.58 275.9) rotate(-90)" font-size="7.4" font-weight="bold" fill="#111">N4</text><text transform="translate(602.19 275.9) rotate(-90)" font-size="7.4" font-weight="bold" fill="#111">N5</text><text transform="translate(610.80 275.9) rotate(-90)" font-size="7.4" font-weight="bold" fill="#111">N6</text><text transform="translate(619.41 275.9) rotate(-90)" font-size="7.4" font-weight="bold" fill="#111">N7</text><text transform="translate(628.02 275.9) rotate(-90)" font-size="7.4" font-weight="bold" fill="#111">N8</text><text transform="translate(636.63 275.9) rotate(-90)" font-size="7.4" font-weight="bold" fill="#111">N9</text><text transform="translate(645.24 275.9) rotate(-90)" font-size="7.4" font-weight="bold" fill="#111">N10</text><text transform="translate(653.85 275.9) rotate(-90)" font-size="7.4" font-weight="bold" fill="#111">N11</text><text transform="translate(662.46 275.9) rotate(-90)" font-size="7.4" font-weight="bold" fill="#111">N12</text><text transform="translate(671.07 275.9) rotate(-90)" font-size="7.4" font-weight="bold" fill="#111">N13</text><text transform="translate(679.68 275.9) rotate(-90)" font-size="7.4" font-weight="bold" fill="#111">N14</text><text transform="translate(688.29 275.9) rotate(-90)" font-size="7.4" font-weight="bold" fill="#1e9e3e">FA33</text><text transform="translate(696.90 275.9) rotate(-90)" font-size="7.4" font-weight="bold" fill="#111">N15</text><text x="90.6" y="551.2" font-size="16.5" font-style="normal" fill="#1a1a1a">∑</text><text x="101.8" y="543.4" font-size="8.5" font-style="italic" fill="#1a1a1a">l</text><text x="101.4" y="553.4" font-size="9.5" font-style="italic" fill="#1a1a1a">i</text><text x="104.6" y="553.4" font-size="10.5" font-style="normal" fill="#1a1a1a" textLength="14" lengthAdjust="spacingAndGlyphs">=1</text><text x="122.6" y="550.6" font-size="14" font-style="italic" fill="#1a1a1a">w</text><text x="133.6" y="553.2" font-size="7.5" font-style="italic" fill="#1a1a1a">i</text><text x="138.8" y="550.6" font-size="13.3" font-style="normal" fill="#1a1a1a">×</text><text x="149.3" y="550.6" font-size="14.6" font-style="normal" fill="#1a1a1a">P(MH</text><text x="185.6" y="553.4" font-size="7.5" font-style="italic" fill="#1a1a1a">i</text><text x="189.2" y="550.6" font-size="13.3" font-style="normal" fill="#1a1a1a">)</text><text x="112.6" y="575.6" font-size="16.5" font-style="normal" fill="#1a1a1a">∑</text><text x="123.8" y="567.6" font-size="8.5" font-style="italic" fill="#1a1a1a">l</text><text x="123.4" y="577.6" font-size="9.5" font-style="italic" fill="#1a1a1a">i</text><text x="126.6" y="577.6" font-size="10.5" font-style="normal" fill="#1a1a1a" textLength="14" lengthAdjust="spacingAndGlyphs">=1</text><text x="143.0" y="573.6" font-size="14" font-style="italic" fill="#1a1a1a">w</text><text x="153.6" y="576.2" font-size="7.5" font-style="italic" fill="#1a1a1a">i</text></svg>

</body></html>
